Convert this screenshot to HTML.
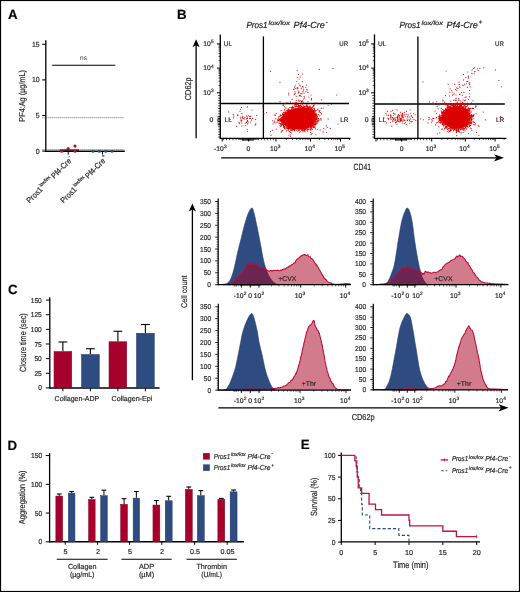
<!DOCTYPE html>
<html><head><meta charset="utf-8"><style>
html,body{margin:0;padding:0;background:#fff;}
svg{display:block;font-family:"Liberation Sans", sans-serif;will-change:transform;}
text{stroke:#333;stroke-width:0.2px;text-rendering:geometricPrecision;}
</style></head><body>
<svg width="520" height="592" viewBox="0 0 520 592">
<rect x="0" y="0" width="520" height="592" fill="#fff"/>
<rect x="0.5" y="0.5" width="519" height="591" fill="none" stroke="#000" stroke-width="1.2"/>
<text x="7.90" y="18.90" font-size="13.3" text-anchor="start" font-weight="bold" fill="#000">A</text>
<text x="177.10" y="18.70" font-size="13.3" text-anchor="start" font-weight="bold" fill="#000">B</text>
<text x="7.90" y="293.70" font-size="13.3" text-anchor="start" font-weight="bold" fill="#000">C</text>
<text x="7.60" y="449.60" font-size="13.3" text-anchor="start" font-weight="bold" fill="#000">D</text>
<text x="300.80" y="449.20" font-size="13.3" text-anchor="start" font-weight="bold" fill="#000">E</text>
<line x1="45.80" y1="40.30" x2="45.80" y2="151.90" stroke="#000" stroke-width="1.3" />
<line x1="45.20" y1="151.20" x2="124.80" y2="151.20" stroke="#000" stroke-width="1.6" />
<line x1="42.20" y1="151.10" x2="45.80" y2="151.10" stroke="#000" stroke-width="1.1" />
<text x="39.60" y="153.60" font-size="7.45" text-anchor="end" fill="#222" textLength="3.84" lengthAdjust="spacingAndGlyphs">0</text>
<line x1="42.20" y1="115.50" x2="45.80" y2="115.50" stroke="#000" stroke-width="1.1" />
<text x="39.60" y="118.00" font-size="7.45" text-anchor="end" fill="#222" textLength="3.84" lengthAdjust="spacingAndGlyphs">5</text>
<line x1="42.20" y1="79.90" x2="45.80" y2="79.90" stroke="#000" stroke-width="1.1" />
<text x="39.60" y="82.40" font-size="7.45" text-anchor="end" fill="#222" textLength="7.67" lengthAdjust="spacingAndGlyphs">10</text>
<line x1="42.20" y1="44.30" x2="45.80" y2="44.30" stroke="#000" stroke-width="1.1" />
<text x="39.60" y="46.80" font-size="7.45" text-anchor="end" fill="#222" textLength="7.67" lengthAdjust="spacingAndGlyphs">15</text>
<line x1="42.40" y1="117.70" x2="124.20" y2="117.70" stroke="#555" stroke-width="0.9" stroke-dasharray="1,1"/>
<line x1="42.40" y1="149.60" x2="124.20" y2="149.60" stroke="#555" stroke-width="0.9" stroke-dasharray="1,1"/>
<line x1="52.20" y1="65.30" x2="115.30" y2="65.30" stroke="#000" stroke-width="1.1" />
<text x="83.6" y="60.4" font-size="6.6" text-anchor="middle" fill="#333" style="stroke:none">ns</text>
<line x1="59.80" y1="150.10" x2="79.00" y2="150.10" stroke="#000" stroke-width="1.1" />
<circle cx="61.7" cy="151.2" r="1.6" fill="#b3102e"/>
<circle cx="68.2" cy="148.6" r="1.6" fill="#b3102e"/>
<circle cx="75.0" cy="146.1" r="1.6" fill="#b3102e"/>
<circle cx="75.0" cy="151.2" r="1.6" fill="#b3102e"/>
<circle cx="93" cy="151.3" r="1.5" fill="#2e4c80"/>
<circle cx="99.3" cy="151.3" r="1.5" fill="#2e4c80"/>
<circle cx="105.7" cy="151.3" r="1.5" fill="#2e4c80"/>
<circle cx="112" cy="151.3" r="1.5" fill="#2e4c80"/>
<line x1="68.20" y1="151.20" x2="68.20" y2="154.60" stroke="#000" stroke-width="1.0" />
<line x1="102.50" y1="151.20" x2="102.50" y2="154.60" stroke="#000" stroke-width="1.0" />
<text x="0.00" y="0.00" font-size="8.6" text-anchor="middle" font-weight="normal" fill="#222" textLength="51.50" lengthAdjust="spacingAndGlyphs" transform="translate(25.1,95.9) rotate(-90)">PF4:Ag (µg/mL)</text>
<g transform="translate(29.6,203.6) rotate(-45)" font-style="normal" fill="#222">
<text x="0.00" y="0.00" font-size="7.90" textLength="19.20" lengthAdjust="spacingAndGlyphs">Pros1</text>
<text x="19.80" y="-3.60" font-size="5.00" textLength="13.60" lengthAdjust="spacingAndGlyphs">lox/lox</text>
<text x="34.80" y="0.00" font-size="7.90" textLength="25.00" lengthAdjust="spacingAndGlyphs">Pf4-Cre</text>
<text x="60.30" y="-3.80" font-size="5.00" font-style="normal">-</text>
</g>
<g transform="translate(63.6,203.6) rotate(-45)" font-style="normal" fill="#222">
<text x="0.00" y="0.00" font-size="7.90" textLength="19.20" lengthAdjust="spacingAndGlyphs">Pros1</text>
<text x="19.80" y="-3.60" font-size="5.00" textLength="13.60" lengthAdjust="spacingAndGlyphs">lox/lox</text>
<text x="34.80" y="0.00" font-size="7.90" textLength="25.00" lengthAdjust="spacingAndGlyphs">Pf4-Cre</text>
<text x="60.30" y="-3.80" font-size="5.00" font-style="normal">+</text>
</g>
<line x1="196.10" y1="42.20" x2="196.10" y2="138.20" stroke="#000" stroke-width="1.3" />
<path d="M196.1,39.2 L199.7,47.2 L196.1,45.2 L192.5,47.2 Z" fill="#000"/>
<text x="0.00" y="0.00" font-size="8.6" text-anchor="middle" font-weight="normal" fill="#222" textLength="22.80" lengthAdjust="spacingAndGlyphs" transform="translate(191.2,88.8) rotate(-90)">CD62p</text>
<line x1="221.20" y1="157.80" x2="501.00" y2="157.80" stroke="#000" stroke-width="1.3" />
<path d="M504.0,157.8 L494.0,154.20000000000002 L496.5,157.8 L494.0,161.4 Z" fill="#000"/>
<text x="362.30" y="169.60" font-size="9.0" text-anchor="middle" font-weight="normal" fill="#222" textLength="17.40" lengthAdjust="spacingAndGlyphs">CD41</text>
<line x1="220.30" y1="34.40" x2="220.30" y2="138.90" stroke="#000" stroke-width="1.3" />
<line x1="219.70" y1="138.30" x2="350.50" y2="138.30" stroke="#000" stroke-width="1.3" />
<line x1="263.40" y1="36.40" x2="263.40" y2="138.30" stroke="#000" stroke-width="1.3" />
<line x1="220.30" y1="103.50" x2="349.00" y2="103.50" stroke="#000" stroke-width="1.3" />
<line x1="216.90" y1="120.00" x2="220.30" y2="120.00" stroke="#000" stroke-width="1.0" />
<line x1="216.90" y1="92.80" x2="220.30" y2="92.80" stroke="#000" stroke-width="1.0" />
<line x1="216.90" y1="68.10" x2="220.30" y2="68.10" stroke="#000" stroke-width="1.0" />
<line x1="216.90" y1="43.90" x2="220.30" y2="43.90" stroke="#000" stroke-width="1.0" />
<line x1="218.50" y1="85.42" x2="220.30" y2="85.42" stroke="#000" stroke-width="0.7" />
<line x1="218.50" y1="81.11" x2="220.30" y2="81.11" stroke="#000" stroke-width="0.7" />
<line x1="218.50" y1="78.05" x2="220.30" y2="78.05" stroke="#000" stroke-width="0.7" />
<line x1="218.50" y1="75.68" x2="220.30" y2="75.68" stroke="#000" stroke-width="0.7" />
<line x1="218.50" y1="73.74" x2="220.30" y2="73.74" stroke="#000" stroke-width="0.7" />
<line x1="218.50" y1="72.10" x2="220.30" y2="72.10" stroke="#000" stroke-width="0.7" />
<line x1="218.50" y1="70.67" x2="220.30" y2="70.67" stroke="#000" stroke-width="0.7" />
<line x1="218.50" y1="69.42" x2="220.30" y2="69.42" stroke="#000" stroke-width="0.7" />
<line x1="218.50" y1="60.72" x2="220.30" y2="60.72" stroke="#000" stroke-width="0.7" />
<line x1="218.50" y1="56.41" x2="220.30" y2="56.41" stroke="#000" stroke-width="0.7" />
<line x1="218.50" y1="53.35" x2="220.30" y2="53.35" stroke="#000" stroke-width="0.7" />
<line x1="218.50" y1="50.98" x2="220.30" y2="50.98" stroke="#000" stroke-width="0.7" />
<line x1="218.50" y1="49.04" x2="220.30" y2="49.04" stroke="#000" stroke-width="0.7" />
<line x1="218.50" y1="47.40" x2="220.30" y2="47.40" stroke="#000" stroke-width="0.7" />
<line x1="218.50" y1="45.97" x2="220.30" y2="45.97" stroke="#000" stroke-width="0.7" />
<line x1="218.50" y1="44.72" x2="220.30" y2="44.72" stroke="#000" stroke-width="0.7" />
<line x1="218.10" y1="95.50" x2="220.30" y2="95.50" stroke="#000" stroke-width="0.7" />
<line x1="218.10" y1="98.10" x2="220.30" y2="98.10" stroke="#000" stroke-width="0.7" />
<line x1="218.10" y1="100.70" x2="220.30" y2="100.70" stroke="#000" stroke-width="0.7" />
<line x1="218.10" y1="103.30" x2="220.30" y2="103.30" stroke="#000" stroke-width="0.7" />
<line x1="218.10" y1="105.90" x2="220.30" y2="105.90" stroke="#000" stroke-width="0.7" />
<line x1="218.10" y1="108.50" x2="220.30" y2="108.50" stroke="#000" stroke-width="0.7" />
<line x1="218.10" y1="111.10" x2="220.30" y2="111.10" stroke="#000" stroke-width="0.7" />
<line x1="218.10" y1="113.70" x2="220.30" y2="113.70" stroke="#000" stroke-width="0.7" />
<line x1="218.10" y1="116.30" x2="220.30" y2="116.30" stroke="#000" stroke-width="0.7" />
<line x1="218.10" y1="118.90" x2="220.30" y2="118.90" stroke="#000" stroke-width="0.7" />
<line x1="218.10" y1="121.50" x2="220.30" y2="121.50" stroke="#000" stroke-width="0.7" />
<line x1="218.10" y1="124.10" x2="220.30" y2="124.10" stroke="#000" stroke-width="0.7" />
<line x1="218.10" y1="126.70" x2="220.30" y2="126.70" stroke="#000" stroke-width="0.7" />
<line x1="218.10" y1="129.30" x2="220.30" y2="129.30" stroke="#000" stroke-width="0.7" />
<line x1="218.10" y1="131.90" x2="220.30" y2="131.90" stroke="#000" stroke-width="0.7" />
<line x1="218.10" y1="134.50" x2="220.30" y2="134.50" stroke="#000" stroke-width="0.7" />
<line x1="218.10" y1="137.10" x2="220.30" y2="137.10" stroke="#000" stroke-width="0.7" />
<line x1="217.50" y1="116.80" x2="220.30" y2="116.80" stroke="#000" stroke-width="0.8" />
<line x1="217.50" y1="118.40" x2="220.30" y2="118.40" stroke="#000" stroke-width="0.8" />
<line x1="217.50" y1="121.60" x2="220.30" y2="121.60" stroke="#000" stroke-width="0.8" />
<line x1="217.50" y1="123.20" x2="220.30" y2="123.20" stroke="#000" stroke-width="0.8" />
<line x1="217.50" y1="124.80" x2="220.30" y2="124.80" stroke="#000" stroke-width="0.8" />
<text x="210.80" y="46.20" font-size="6.8" text-anchor="end" fill="#222">10</text>
<text x="210.90" y="43.40" font-size="4.8" fill="#222">5</text>
<text x="210.80" y="70.40" font-size="6.8" text-anchor="end" fill="#222">10</text>
<text x="210.90" y="67.60" font-size="4.8" fill="#222">4</text>
<text x="210.80" y="95.10" font-size="6.8" text-anchor="end" fill="#222">10</text>
<text x="210.90" y="92.30" font-size="4.8" fill="#222">3</text>
<text x="213.40" y="122.40" font-size="6.8" text-anchor="end" font-weight="normal" fill="#222">0</text>
<text x="223.80" y="46.00" font-size="6.6" text-anchor="start" font-weight="normal" fill="#222" textLength="8.30" lengthAdjust="spacingAndGlyphs">UL</text>
<text x="339.30" y="46.00" font-size="6.6" text-anchor="start" font-weight="normal" fill="#222" textLength="8.80" lengthAdjust="spacingAndGlyphs">UR</text>
<text x="224.60" y="122.20" font-size="6.6" text-anchor="start" font-weight="normal" fill="#222" textLength="7.40" lengthAdjust="spacingAndGlyphs">LL</text>
<text x="340.20" y="122.20" font-size="6.6" text-anchor="start" font-weight="normal" fill="#222" textLength="8.20" lengthAdjust="spacingAndGlyphs">LR</text>
<line x1="222.20" y1="138.30" x2="222.20" y2="141.50" stroke="#000" stroke-width="1.0" />
<text x="223.80" y="151.2" font-size="6.8" text-anchor="end" fill="#222">-10</text>
<text x="224.00" y="148.3" font-size="4.8" fill="#222">3</text>
<line x1="248.40" y1="138.30" x2="248.40" y2="141.50" stroke="#000" stroke-width="1.0" />
<text x="248.40" y="151.20" font-size="6.8" text-anchor="middle" font-weight="normal" fill="#222">0</text>
<line x1="275.90" y1="138.30" x2="275.90" y2="141.50" stroke="#000" stroke-width="1.0" />
<text x="277.50" y="151.2" font-size="6.8" text-anchor="end" fill="#222">10</text>
<text x="277.70" y="148.3" font-size="4.8" fill="#222">3</text>
<line x1="310.50" y1="138.30" x2="310.50" y2="141.50" stroke="#000" stroke-width="1.0" />
<text x="312.10" y="151.2" font-size="6.8" text-anchor="end" fill="#222">10</text>
<text x="312.30" y="148.3" font-size="4.8" fill="#222">4</text>
<line x1="340.50" y1="138.30" x2="340.50" y2="141.50" stroke="#000" stroke-width="1.0" />
<text x="342.10" y="151.2" font-size="6.8" text-anchor="end" fill="#222">10</text>
<text x="342.30" y="148.3" font-size="4.8" fill="#222">5</text>
<line x1="286.32" y1="138.30" x2="286.32" y2="140.10" stroke="#000" stroke-width="0.7" />
<line x1="292.41" y1="138.30" x2="292.41" y2="140.10" stroke="#000" stroke-width="0.7" />
<line x1="296.73" y1="138.30" x2="296.73" y2="140.10" stroke="#000" stroke-width="0.7" />
<line x1="300.08" y1="138.30" x2="300.08" y2="140.10" stroke="#000" stroke-width="0.7" />
<line x1="302.82" y1="138.30" x2="302.82" y2="140.10" stroke="#000" stroke-width="0.7" />
<line x1="305.14" y1="138.30" x2="305.14" y2="140.10" stroke="#000" stroke-width="0.7" />
<line x1="307.15" y1="138.30" x2="307.15" y2="140.10" stroke="#000" stroke-width="0.7" />
<line x1="308.92" y1="138.30" x2="308.92" y2="140.10" stroke="#000" stroke-width="0.7" />
<line x1="319.53" y1="138.30" x2="319.53" y2="140.10" stroke="#000" stroke-width="0.7" />
<line x1="324.81" y1="138.30" x2="324.81" y2="140.10" stroke="#000" stroke-width="0.7" />
<line x1="328.56" y1="138.30" x2="328.56" y2="140.10" stroke="#000" stroke-width="0.7" />
<line x1="331.47" y1="138.30" x2="331.47" y2="140.10" stroke="#000" stroke-width="0.7" />
<line x1="333.84" y1="138.30" x2="333.84" y2="140.10" stroke="#000" stroke-width="0.7" />
<line x1="335.85" y1="138.30" x2="335.85" y2="140.10" stroke="#000" stroke-width="0.7" />
<line x1="337.59" y1="138.30" x2="337.59" y2="140.10" stroke="#000" stroke-width="0.7" />
<line x1="339.13" y1="138.30" x2="339.13" y2="140.10" stroke="#000" stroke-width="0.7" />
<line x1="349.53" y1="138.30" x2="349.53" y2="140.10" stroke="#000" stroke-width="0.7" />
<line x1="238.40" y1="138.30" x2="238.40" y2="139.90" stroke="#000" stroke-width="0.6" />
<line x1="239.40" y1="138.30" x2="239.40" y2="139.90" stroke="#000" stroke-width="0.6" />
<line x1="240.40" y1="138.30" x2="240.40" y2="139.90" stroke="#000" stroke-width="0.6" />
<line x1="241.40" y1="138.30" x2="241.40" y2="139.90" stroke="#000" stroke-width="0.6" />
<line x1="242.40" y1="138.30" x2="242.40" y2="139.90" stroke="#000" stroke-width="0.6" />
<line x1="243.40" y1="138.30" x2="243.40" y2="139.90" stroke="#000" stroke-width="0.6" />
<line x1="244.40" y1="138.30" x2="244.40" y2="139.90" stroke="#000" stroke-width="0.6" />
<line x1="245.40" y1="138.30" x2="245.40" y2="139.90" stroke="#000" stroke-width="0.6" />
<line x1="246.40" y1="138.30" x2="246.40" y2="139.90" stroke="#000" stroke-width="0.6" />
<line x1="247.40" y1="138.30" x2="247.40" y2="139.90" stroke="#000" stroke-width="0.6" />
<line x1="248.40" y1="138.30" x2="248.40" y2="139.90" stroke="#000" stroke-width="0.6" />
<line x1="249.40" y1="138.30" x2="249.40" y2="139.90" stroke="#000" stroke-width="0.6" />
<line x1="250.40" y1="138.30" x2="250.40" y2="139.90" stroke="#000" stroke-width="0.6" />
<line x1="251.40" y1="138.30" x2="251.40" y2="139.90" stroke="#000" stroke-width="0.6" />
<line x1="252.40" y1="138.30" x2="252.40" y2="139.90" stroke="#000" stroke-width="0.6" />
<line x1="253.40" y1="138.30" x2="253.40" y2="139.90" stroke="#000" stroke-width="0.6" />
<line x1="254.40" y1="138.30" x2="254.40" y2="139.90" stroke="#000" stroke-width="0.6" />
<line x1="255.40" y1="138.30" x2="255.40" y2="139.90" stroke="#000" stroke-width="0.6" />
<line x1="256.40" y1="138.30" x2="256.40" y2="139.90" stroke="#000" stroke-width="0.6" />
<line x1="257.40" y1="138.30" x2="257.40" y2="139.90" stroke="#000" stroke-width="0.6" />
<line x1="223.30" y1="138.30" x2="223.30" y2="140.30" stroke="#000" stroke-width="0.7" />
<line x1="226.50" y1="138.30" x2="226.50" y2="140.30" stroke="#000" stroke-width="0.7" />
<line x1="229.70" y1="138.30" x2="229.70" y2="140.30" stroke="#000" stroke-width="0.7" />
<line x1="232.90" y1="138.30" x2="232.90" y2="140.30" stroke="#000" stroke-width="0.7" />
<line x1="236.10" y1="138.30" x2="236.10" y2="140.30" stroke="#000" stroke-width="0.7" />
<line x1="258.40" y1="138.30" x2="258.40" y2="140.30" stroke="#000" stroke-width="0.7" />
<line x1="261.40" y1="138.30" x2="261.40" y2="140.30" stroke="#000" stroke-width="0.7" />
<line x1="264.40" y1="138.30" x2="264.40" y2="140.30" stroke="#000" stroke-width="0.7" />
<line x1="267.40" y1="138.30" x2="267.40" y2="140.30" stroke="#000" stroke-width="0.7" />
<line x1="270.40" y1="138.30" x2="270.40" y2="140.30" stroke="#000" stroke-width="0.7" />
<line x1="273.40" y1="138.30" x2="273.40" y2="140.30" stroke="#000" stroke-width="0.7" />
<line x1="242.40" y1="138.30" x2="242.40" y2="140.90" stroke="#000" stroke-width="0.8" />
<line x1="243.60" y1="138.30" x2="243.60" y2="140.90" stroke="#000" stroke-width="0.8" />
<line x1="244.80" y1="138.30" x2="244.80" y2="140.90" stroke="#000" stroke-width="0.8" />
<line x1="246.00" y1="138.30" x2="246.00" y2="140.90" stroke="#000" stroke-width="0.8" />
<line x1="247.20" y1="138.30" x2="247.20" y2="140.90" stroke="#000" stroke-width="0.8" />
<line x1="248.40" y1="138.30" x2="248.40" y2="140.90" stroke="#000" stroke-width="0.8" />
<line x1="249.60" y1="138.30" x2="249.60" y2="140.90" stroke="#000" stroke-width="0.8" />
<line x1="250.80" y1="138.30" x2="250.80" y2="140.90" stroke="#000" stroke-width="0.8" />
<line x1="252.00" y1="138.30" x2="252.00" y2="140.90" stroke="#000" stroke-width="0.8" />
<line x1="253.20" y1="138.30" x2="253.20" y2="140.90" stroke="#000" stroke-width="0.8" />
<path d="M286.2,110.6h0.01 M289.3,110.7h0.01 M282.1,121.0h0.01 M315.0,123.5h0.01 M280.8,123.7h0.01 M288.2,130.3h0.01 M312.3,125.7h0.01 M292.9,129.0h0.01 M286.9,126.7h0.01 M311.7,127.4h0.01 M313.7,123.7h0.01 M304.6,130.3h0.01 M292.9,107.9h0.01 M287.8,126.5h0.01 M315.6,114.0h0.01 M289.0,111.0h0.01 M313.1,127.7h0.01 M284.7,112.7h0.01 M315.3,111.0h0.01 M280.5,120.3h0.01 M277.9,120.4h0.01 M298.1,107.7h0.01 M316.3,119.8h0.01 M311.8,125.4h0.01 M318.1,120.0h0.01 M281.3,119.1h0.01 M315.9,117.7h0.01 M284.5,114.1h0.01 M285.2,112.1h0.01 M307.3,105.7h0.01 M314.6,110.1h0.01 M282.5,124.2h0.01 M312.3,125.5h0.01 M305.1,129.3h0.01 M316.7,121.9h0.01 M302.5,104.5h0.01 M313.7,125.2h0.01 M312.8,111.4h0.01 M316.4,118.3h0.01 M288.7,110.6h0.01 M315.3,116.8h0.01 M294.1,130.0h0.01 M281.3,121.3h0.01 M316.7,122.0h0.01 M317.3,116.4h0.01 M284.5,127.7h0.01 M292.0,108.6h0.01 M310.1,108.6h0.01 M316.0,115.4h0.01 M280.4,118.6h0.01 M303.7,107.4h0.01 M298.3,105.9h0.01 M291.6,107.3h0.01 M306.9,107.9h0.01 M311.5,128.7h0.01 M281.3,117.6h0.01 M301.1,106.5h0.01 M318.8,120.9h0.01 M281.3,118.8h0.01 M310.7,126.9h0.01 M307.2,130.0h0.01 M280.7,121.2h0.01 M315.4,120.1h0.01 M312.1,109.5h0.01 M282.6,123.5h0.01 M292.5,129.2h0.01 M294.1,129.6h0.01 M312.9,112.2h0.01 M307.0,108.1h0.01 M284.4,126.4h0.01 M307.3,108.8h0.01 M311.6,108.4h0.01 M307.6,108.7h0.01 M313.5,105.2h0.01 M280.0,115.9h0.01 M299.7,108.6h0.01 M283.6,126.2h0.01 M310.3,107.1h0.01 M297.6,108.4h0.01 M315.5,128.8h0.01 M278.2,118.6h0.01 M288.2,112.3h0.01 M314.1,124.0h0.01 M282.9,116.8h0.01 M288.4,128.8h0.01 M302.3,130.5h0.01 M284.1,123.6h0.01 M314.9,112.7h0.01 M308.5,108.3h0.01 M315.4,116.7h0.01 M287.6,111.8h0.01 M282.6,114.6h0.01 M309.4,106.8h0.01 M291.9,128.6h0.01 M280.7,123.3h0.01 M307.1,107.5h0.01 M300.5,105.1h0.01 M303.9,108.4h0.01 M291.5,109.5h0.01 M303.0,131.9h0.01 M309.8,108.6h0.01 M292.7,129.7h0.01 M284.6,112.5h0.01 M284.7,109.8h0.01 M306.8,106.7h0.01 M315.1,120.8h0.01 M313.5,110.8h0.01 M288.2,129.4h0.01 M283.3,124.0h0.01 M281.6,124.6h0.01 M287.3,128.3h0.01 M280.1,121.2h0.01 M316.2,117.5h0.01 M316.1,122.1h0.01 M294.0,109.1h0.01 M315.6,119.2h0.01 M287.2,109.1h0.01 M313.9,126.2h0.01 M308.8,107.3h0.01 M314.7,114.0h0.01 M291.0,110.7h0.01 M281.5,121.8h0.01 M280.1,120.3h0.01 M293.8,107.5h0.01 M314.1,124.9h0.01 M288.4,126.2h0.01 M283.1,112.8h0.01 M283.6,124.5h0.01 M308.4,129.6h0.01 M315.5,111.2h0.01 M289.1,131.6h0.01 M288.6,109.6h0.01 M277.2,122.1h0.01 M283.9,114.4h0.01 M315.2,125.9h0.01 M289.4,110.0h0.01 M281.9,122.5h0.01 M310.2,128.4h0.01 M310.1,106.0h0.01 M316.2,121.7h0.01 M314.7,117.1h0.01 M303.2,108.2h0.01 M285.5,125.8h0.01 M290.8,109.7h0.01 M283.4,122.2h0.01 M287.4,111.4h0.01 M280.0,118.7h0.01 M300.4,108.2h0.01 M311.7,128.0h0.01 M279.9,119.3h0.01 M289.2,128.2h0.01 M314.5,114.8h0.01 M310.7,110.2h0.01 M313.7,113.6h0.01 M283.6,112.2h0.01 M294.2,129.3h0.01 M280.8,126.4h0.01 M312.7,112.6h0.01 M290.0,110.0h0.01 M304.1,129.5h0.01 M281.4,120.8h0.01 M281.2,124.5h0.01 M298.9,105.6h0.01 M295.3,108.5h0.01 M294.6,105.8h0.01 M282.7,115.1h0.01 M285.4,112.8h0.01 M313.8,111.0h0.01 M289.5,110.7h0.01 M280.6,115.0h0.01 M302.8,107.4h0.01 M310.7,126.7h0.01 M298.8,130.5h0.01 M314.3,111.2h0.01 M291.1,107.6h0.01 M294.9,103.8h0.01 M284.6,126.7h0.01 M308.1,108.3h0.01 M308.4,129.1h0.01 M308.8,107.7h0.01 M315.5,123.8h0.01 M313.7,125.7h0.01 M285.6,113.6h0.01 M286.9,112.8h0.01 M286.1,127.3h0.01 M282.4,117.5h0.01 M298.5,106.8h0.01 M284.5,109.8h0.01 M298.7,130.4h0.01 M315.4,117.1h0.01 M280.9,124.3h0.01 M313.0,113.2h0.01 M281.3,119.8h0.01 M281.6,120.9h0.01 M281.9,120.7h0.01 M288.6,127.3h0.01 M284.6,114.4h0.01 M293.4,109.6h0.01 M283.8,116.6h0.01 M314.8,124.6h0.01 M289.6,128.5h0.01 M313.8,108.4h0.01 M315.5,115.8h0.01 M289.3,111.6h0.01 M280.5,120.5h0.01 M316.2,116.2h0.01 M283.4,115.5h0.01 M316.2,117.6h0.01 M297.0,106.4h0.01 M283.9,125.2h0.01 M310.3,128.3h0.01 M303.3,130.4h0.01 M293.2,108.5h0.01 M292.1,130.6h0.01 M282.5,121.7h0.01 M307.9,106.9h0.01 M292.7,107.0h0.01 M283.8,115.8h0.01 M317.2,120.8h0.01 M282.1,122.1h0.01 M312.5,125.6h0.01 M315.4,114.6h0.01 M306.9,106.7h0.01 M312.5,110.1h0.01 M315.3,115.1h0.01 M311.1,108.3h0.01 M301.3,129.7h0.01 M309.9,107.1h0.01 M308.1,108.7h0.01 M280.7,124.3h0.01 M287.9,128.5h0.01 M298.5,104.9h0.01 M288.9,127.3h0.01 M295.4,108.9h0.01 M307.2,128.1h0.01 M313.7,117.0h0.01 M293.5,129.1h0.01 M288.9,111.2h0.01 M281.8,117.1h0.01 M315.0,127.2h0.01 M286.5,126.7h0.01 M283.5,125.7h0.01 M310.2,128.6h0.01 M314.4,119.1h0.01 M315.8,123.1h0.01 M315.4,118.8h0.01 M296.3,108.7h0.01 M300.1,107.3h0.01 M292.8,108.1h0.01 M314.5,114.4h0.01 M304.9,131.3h0.01 M287.3,110.6h0.01 M319.3,111.2h0.01 M285.3,114.3h0.01 M281.2,115.5h0.01 M287.6,127.2h0.01 M293.0,109.6h0.01 M288.2,110.9h0.01 M288.4,127.7h0.01 M314.0,127.6h0.01 M310.4,109.6h0.01 M315.4,124.4h0.01 M308.3,106.9h0.01 M286.9,112.7h0.01 M290.2,129.8h0.01 M299.9,105.6h0.01 M314.5,115.6h0.01 M312.2,125.7h0.01 M304.0,106.5h0.01 M306.1,109.3h0.01 M312.1,125.3h0.01 M302.6,129.3h0.01 M289.2,111.2h0.01 M279.7,119.9h0.01 M279.0,123.1h0.01 M297.8,131.2h0.01 M309.9,129.6h0.01 M310.4,127.4h0.01 M316.2,119.8h0.01 M287.6,112.2h0.01 M289.9,128.2h0.01 M277.8,120.4h0.01 M291.5,128.1h0.01 M316.0,114.9h0.01 M315.8,123.1h0.01 M315.7,120.1h0.01 M313.3,111.0h0.01 M314.0,127.0h0.01 M293.0,106.0h0.01 M311.6,110.8h0.01 M312.2,107.4h0.01 M296.5,104.5h0.01 M290.0,111.1h0.01 M282.1,116.8h0.01 M307.1,106.5h0.01 M314.7,113.8h0.01 M283.1,124.9h0.01 M312.5,129.5h0.01 M314.8,114.4h0.01 M312.6,110.0h0.01 M286.0,110.9h0.01 M279.7,121.2h0.01 M286.1,127.9h0.01 M316.2,110.5h0.01 M317.7,119.0h0.01 M284.7,127.1h0.01 M316.5,114.1h0.01 M292.4,128.8h0.01 M307.2,131.1h0.01 M301.1,105.7h0.01 M283.2,112.9h0.01 M283.6,114.4h0.01 M283.5,114.8h0.01 M300.2,107.5h0.01 M313.4,126.3h0.01 M280.3,120.5h0.01 M316.9,117.7h0.01 M314.0,112.7h0.01 M304.4,129.9h0.01 M279.6,123.1h0.01 M298.9,106.4h0.01 M290.0,111.4h0.01 M309.3,107.2h0.01 M315.8,114.4h0.01 M287.7,112.3h0.01 M288.7,111.7h0.01 M289.6,128.3h0.01 M310.9,108.0h0.01 M313.6,127.2h0.01 M312.7,107.1h0.01 M288.7,108.7h0.01 M283.0,114.9h0.01 M293.4,129.7h0.01 M314.3,108.6h0.01 M296.5,106.5h0.01 M311.9,126.0h0.01 M301.7,106.7h0.01 M302.9,129.0h0.01 M315.9,121.5h0.01 M310.6,129.4h0.01 M314.8,114.1h0.01 M304.9,106.9h0.01 M311.8,126.8h0.01 M314.4,112.7h0.01 M278.6,116.9h0.01 M313.5,112.1h0.01 M304.4,107.0h0.01 M294.3,109.9h0.01 M282.9,123.2h0.01 M281.8,122.0h0.01 M283.9,125.0h0.01 M314.9,123.2h0.01 M290.7,128.2h0.01 M311.4,108.2h0.01 M281.5,123.8h0.01 M280.1,120.5h0.01 M314.3,124.4h0.01 M302.0,107.0h0.01 M310.0,108.7h0.01 M316.7,115.2h0.01 M307.3,129.6h0.01 M280.1,119.3h0.01 M315.6,116.8h0.01 M291.2,130.2h0.01 M312.9,126.7h0.01 M289.9,126.9h0.01 M292.5,107.5h0.01 M300.6,107.1h0.01 M310.7,109.0h0.01 M294.5,128.6h0.01 M291.8,107.7h0.01 M307.1,108.4h0.01 M307.7,129.7h0.01 M286.5,130.9h0.01 M317.4,117.8h0.01 M312.9,111.2h0.01 M314.5,124.0h0.01 M294.9,129.5h0.01 M284.1,114.0h0.01 M278.4,120.8h0.01 M281.8,122.0h0.01 M313.4,112.3h0.01 M282.6,113.8h0.01 M297.4,106.5h0.01 M304.3,107.8h0.01 M306.6,105.8h0.01 M292.4,129.8h0.01 M313.6,110.4h0.01 M311.8,109.4h0.01 M305.1,130.8h0.01 M312.4,109.1h0.01 M315.7,113.1h0.01 M306.0,129.0h0.01 M317.7,121.1h0.01 M291.1,129.2h0.01 M314.5,109.0h0.01 M276.8,122.0h0.01 M279.9,116.7h0.01 M280.9,119.1h0.01 M301.3,106.5h0.01 M296.3,130.2h0.01 M313.9,124.4h0.01 M294.7,130.8h0.01 M283.7,127.4h0.01 M301.9,130.4h0.01 M316.3,119.4h0.01 M314.1,118.4h0.01 M314.3,112.7h0.01 M304.9,131.7h0.01 M295.1,108.3h0.01 M302.4,107.3h0.01 M315.2,119.4h0.01 M307.3,106.3h0.01 M284.1,123.7h0.01 M313.5,124.8h0.01 M299.2,130.3h0.01 M286.1,127.4h0.01 M315.3,121.9h0.01 M308.3,108.1h0.01 M312.3,125.4h0.01 M321.2,108.4h0.01 M287.1,110.7h0.01 M312.0,109.1h0.01 M316.2,123.8h0.01 M311.5,98.3h0.01 M295.3,106.6h0.01 M301.5,101.4h0.01 M279.1,119.4h0.01 M317.7,122.2h0.01 M272.4,130.2h0.01 M281.3,131.8h0.01 M305.6,129.4h0.01 M320.2,129.9h0.01 M281.6,117.7h0.01 M316.4,102.9h0.01 M308.0,101.2h0.01 M300.1,131.6h0.01 M272.4,120.7h0.01 M273.0,123.8h0.01 M274.7,115.0h0.01 M319.7,115.7h0.01 M311.0,130.0h0.01 M281.1,110.5h0.01 M285.0,111.7h0.01 M275.1,122.7h0.01 M315.1,121.2h0.01 M290.2,132.4h0.01 M313.4,106.1h0.01 M288.8,93.1h0.01 M310.4,132.6h0.01 M278.5,120.0h0.01 M326.3,125.8h0.01 M305.7,106.6h0.01 M328.1,118.9h0.01 M321.4,113.8h0.01 M276.3,113.2h0.01 M280.0,101.4h0.01 M301.6,106.0h0.01 M283.1,105.4h0.01 M281.7,125.2h0.01 M320.9,118.4h0.01 M314.5,105.1h0.01 M281.1,132.1h0.01 M271.1,135.2h0.01 M285.3,113.0h0.01 M310.3,103.4h0.01 M314.7,110.9h0.01 M277.4,119.9h0.01 M275.8,118.8h0.01 M281.1,125.7h0.01 M307.0,104.5h0.01 M284.5,106.7h0.01 M290.3,136.5h0.01 M290.4,135.0h0.01 M292.8,107.7h0.01 M318.5,118.4h0.01 M317.7,109.7h0.01 M274.1,122.1h0.01 M283.3,104.3h0.01 M312.0,133.3h0.01 M311.3,99.5h0.01 M323.1,131.9h0.01 M299.7,132.2h0.01 M318.1,114.7h0.01 M285.3,103.6h0.01 M314.9,115.1h0.01 M284.5,128.8h0.01 M276.1,129.1h0.01 M285.8,107.9h0.01 M291.5,133.0h0.01 M306.2,105.2h0.01 M281.9,130.7h0.01 M319.2,112.1h0.01 M312.6,106.9h0.01 M326.4,132.2h0.01 M290.1,131.8h0.01 M300.8,106.5h0.01 M299.6,106.9h0.01 M310.3,129.9h0.01 M316.9,118.8h0.01 M317.1,123.5h0.01 M320.0,119.8h0.01 M285.8,128.9h0.01 M289.8,107.6h0.01 M262.6,106.2h0.01 M327.2,127.3h0.01 M320.4,112.5h0.01 M282.7,130.6h0.01 M318.0,110.0h0.01 M323.8,128.5h0.01 M317.8,109.1h0.01 M318.2,114.2h0.01 M311.2,134.6h0.01 M316.4,119.5h0.01 M319.8,110.3h0.01 M288.8,135.0h0.01 M328.1,105.5h0.01 M317.7,129.2h0.01 M294.4,103.3h0.01 M275.0,114.5h0.01 M315.8,134.7h0.01 M310.6,108.4h0.01 M286.2,112.6h0.01 M297.7,104.4h0.01 M321.3,119.8h0.01 M274.3,121.0h0.01 M292.7,106.9h0.01 M279.9,125.7h0.01 M296.1,105.5h0.01 M303.9,105.9h0.01 M299.3,95.9h0.01 M302.7,91.8h0.01 M300.4,95.1h0.01 M301.2,88.6h0.01 M295.8,106.8h0.01 M305.9,87.2h0.01 M294.2,94.4h0.01 M306.5,85.1h0.01 M298.1,93.2h0.01 M311.4,100.0h0.01 M300.1,86.0h0.01 M299.8,85.3h0.01 M295.1,93.3h0.01 M296.2,100.3h0.01 M300.2,77.1h0.01 M298.4,74.6h0.01 M301.1,96.3h0.01 M302.1,100.5h0.01 M302.0,93.7h0.01 M295.0,91.9h0.01 M294.2,89.0h0.01 M301.4,102.8h0.01 M305.9,91.8h0.01 M290.5,101.9h0.01 M299.0,79.0h0.01 M295.3,85.7h0.01 M297.2,88.8h0.01 M306.9,89.5h0.01 M307.9,92.4h0.01 M288.7,94.8h0.01 M298.7,91.1h0.01 M302.4,86.6h0.01 M298.9,83.8h0.01 M301.4,103.1h0.01 M296.9,81.6h0.01 M307.8,103.0h0.01 M296.3,96.2h0.01 M295.6,104.6h0.01 M303.4,90.7h0.01 M298.4,100.1h0.01 M298.7,92.3h0.01 M302.9,101.7h0.01 M299.1,101.1h0.01 M298.0,88.0h0.01 M297.3,88.7h0.01 M303.5,102.7h0.01 M294.6,87.1h0.01 M300.9,93.3h0.01 M303.0,106.7h0.01 M297.2,87.5h0.01 M295.7,88.5h0.01 M298.9,105.7h0.01 M303.7,89.1h0.01 M304.7,97.9h0.01 M302.3,101.7h0.01 M304.1,96.5h0.01 M296.6,102.9h0.01 M308.8,97.0h0.01 M302.9,86.9h0.01 M295.3,102.2h0.01 M304.0,93.1h0.01 M292.1,99.4h0.01 M302.3,81.6h0.01 M302.7,74.0h0.01 M293.6,89.6h0.01 M294.7,104.4h0.01 M300.2,100.9h0.01 M306.7,108.3h0.01 M250.7,122.0h0.01 M241.9,113.4h0.01 M249.7,118.6h0.01 M251.9,110.0h0.01 M266.6,112.6h0.01 M245.2,123.1h0.01 M233.8,115.9h0.01 M228.7,111.9h0.01 M229.4,119.0h0.01 M247.3,117.0h0.01 M255.2,124.9h0.01 M244.9,117.5h0.01 M242.8,116.4h0.01 M255.5,119.6h0.01 M242.3,117.4h0.01 M249.4,116.6h0.01 M247.5,118.3h0.01 M255.9,123.9h0.01 M233.6,117.8h0.01 M250.7,116.4h0.01 M251.5,120.1h0.01 M249.8,118.2h0.01 M247.5,120.9h0.01 M233.2,114.3h0.01 M236.8,126.3h0.01 M247.5,120.2h0.01 M246.4,116.1h0.01 M239.0,122.4h0.01 M242.0,125.8h0.01 M246.6,118.9h0.01 M243.3,118.2h0.01 M245.3,125.6h0.01 M263.8,113.2h0.01 M247.1,121.8h0.01 M237.8,115.6h0.01 M241.4,107.4h0.01 M250.3,118.3h0.01 M244.3,118.9h0.01 M247.1,129.2h0.01 M246.5,122.4h0.01 M240.9,120.2h0.01 M242.5,117.9h0.01 M237.8,114.8h0.01 M248.7,122.0h0.01 M248.8,115.5h0.01 M247.6,106.9h0.01 M252.7,118.4h0.01 M247.3,123.9h0.01 M241.7,123.0h0.01 M241.6,121.1h0.01 M241.9,120.0h0.01 M256.8,115.6h0.01 M240.3,117.1h0.01 M247.6,131.3h0.01 M240.5,109.2h0.01 M240.0,111.3h0.01 M240.7,118.7h0.01 M237.5,115.5h0.01 M230.2,119.5h0.01 M239.2,123.6h0.01 M270.4,131.6h0.01 M319.3,69.4h0.01 M333.0,68.4h0.01 M297.2,77.5h0.01 M297.2,70.5h0.01 M296.8,102.6h0.01 M303.6,99.0h0.01 M338.0,124.0h0.01 M275.4,115.2h0.01 M330.2,128.4h0.01 M297.9,129.5h0.01 M311.0,95.0h0.01 M307.1,90.7h0.01 M321.7,99.8h0.01 M336.7,95.0h0.01 M270.6,71.3h0.01 M299.5,95.2h0.01 M331.6,104.2h0.01 M280.0,82.3h0.01 M309.3,119.6h0.01 M323.2,108.0h0.01 M286.9,102.7h0.01" stroke="#dc0000" stroke-width="1.15" stroke-linecap="round" fill="none"/>
<path d="M281.0,119.5 L283.0,115.5 L286.0,112.8 L290.0,110.5 L295.0,108.5 L300.0,107.4 L305.0,107.6 L310.0,108.6 L313.5,111.3 L315.0,115.0 L315.3,119.0 L314.6,123.0 L312.0,126.5 L307.0,128.8 L300.0,129.8 L293.0,129.2 L288.0,127.2 L284.0,124.6 L281.6,122.0 Z" fill="#dc0000"/>
<line x1="374.50" y1="34.40" x2="374.50" y2="138.90" stroke="#000" stroke-width="1.3" />
<line x1="373.90" y1="138.30" x2="506.30" y2="138.30" stroke="#000" stroke-width="1.3" />
<line x1="417.90" y1="36.40" x2="417.90" y2="138.30" stroke="#000" stroke-width="1.3" />
<line x1="374.50" y1="104.00" x2="504.80" y2="104.00" stroke="#000" stroke-width="1.3" />
<line x1="371.10" y1="120.00" x2="374.50" y2="120.00" stroke="#000" stroke-width="1.0" />
<line x1="371.10" y1="92.80" x2="374.50" y2="92.80" stroke="#000" stroke-width="1.0" />
<line x1="371.10" y1="68.10" x2="374.50" y2="68.10" stroke="#000" stroke-width="1.0" />
<line x1="371.10" y1="43.90" x2="374.50" y2="43.90" stroke="#000" stroke-width="1.0" />
<line x1="372.70" y1="85.42" x2="374.50" y2="85.42" stroke="#000" stroke-width="0.7" />
<line x1="372.70" y1="81.11" x2="374.50" y2="81.11" stroke="#000" stroke-width="0.7" />
<line x1="372.70" y1="78.05" x2="374.50" y2="78.05" stroke="#000" stroke-width="0.7" />
<line x1="372.70" y1="75.68" x2="374.50" y2="75.68" stroke="#000" stroke-width="0.7" />
<line x1="372.70" y1="73.74" x2="374.50" y2="73.74" stroke="#000" stroke-width="0.7" />
<line x1="372.70" y1="72.10" x2="374.50" y2="72.10" stroke="#000" stroke-width="0.7" />
<line x1="372.70" y1="70.67" x2="374.50" y2="70.67" stroke="#000" stroke-width="0.7" />
<line x1="372.70" y1="69.42" x2="374.50" y2="69.42" stroke="#000" stroke-width="0.7" />
<line x1="372.70" y1="60.72" x2="374.50" y2="60.72" stroke="#000" stroke-width="0.7" />
<line x1="372.70" y1="56.41" x2="374.50" y2="56.41" stroke="#000" stroke-width="0.7" />
<line x1="372.70" y1="53.35" x2="374.50" y2="53.35" stroke="#000" stroke-width="0.7" />
<line x1="372.70" y1="50.98" x2="374.50" y2="50.98" stroke="#000" stroke-width="0.7" />
<line x1="372.70" y1="49.04" x2="374.50" y2="49.04" stroke="#000" stroke-width="0.7" />
<line x1="372.70" y1="47.40" x2="374.50" y2="47.40" stroke="#000" stroke-width="0.7" />
<line x1="372.70" y1="45.97" x2="374.50" y2="45.97" stroke="#000" stroke-width="0.7" />
<line x1="372.70" y1="44.72" x2="374.50" y2="44.72" stroke="#000" stroke-width="0.7" />
<line x1="372.30" y1="95.50" x2="374.50" y2="95.50" stroke="#000" stroke-width="0.7" />
<line x1="372.30" y1="98.10" x2="374.50" y2="98.10" stroke="#000" stroke-width="0.7" />
<line x1="372.30" y1="100.70" x2="374.50" y2="100.70" stroke="#000" stroke-width="0.7" />
<line x1="372.30" y1="103.30" x2="374.50" y2="103.30" stroke="#000" stroke-width="0.7" />
<line x1="372.30" y1="105.90" x2="374.50" y2="105.90" stroke="#000" stroke-width="0.7" />
<line x1="372.30" y1="108.50" x2="374.50" y2="108.50" stroke="#000" stroke-width="0.7" />
<line x1="372.30" y1="111.10" x2="374.50" y2="111.10" stroke="#000" stroke-width="0.7" />
<line x1="372.30" y1="113.70" x2="374.50" y2="113.70" stroke="#000" stroke-width="0.7" />
<line x1="372.30" y1="116.30" x2="374.50" y2="116.30" stroke="#000" stroke-width="0.7" />
<line x1="372.30" y1="118.90" x2="374.50" y2="118.90" stroke="#000" stroke-width="0.7" />
<line x1="372.30" y1="121.50" x2="374.50" y2="121.50" stroke="#000" stroke-width="0.7" />
<line x1="372.30" y1="124.10" x2="374.50" y2="124.10" stroke="#000" stroke-width="0.7" />
<line x1="372.30" y1="126.70" x2="374.50" y2="126.70" stroke="#000" stroke-width="0.7" />
<line x1="372.30" y1="129.30" x2="374.50" y2="129.30" stroke="#000" stroke-width="0.7" />
<line x1="372.30" y1="131.90" x2="374.50" y2="131.90" stroke="#000" stroke-width="0.7" />
<line x1="372.30" y1="134.50" x2="374.50" y2="134.50" stroke="#000" stroke-width="0.7" />
<line x1="372.30" y1="137.10" x2="374.50" y2="137.10" stroke="#000" stroke-width="0.7" />
<line x1="371.70" y1="116.80" x2="374.50" y2="116.80" stroke="#000" stroke-width="0.8" />
<line x1="371.70" y1="118.40" x2="374.50" y2="118.40" stroke="#000" stroke-width="0.8" />
<line x1="371.70" y1="121.60" x2="374.50" y2="121.60" stroke="#000" stroke-width="0.8" />
<line x1="371.70" y1="123.20" x2="374.50" y2="123.20" stroke="#000" stroke-width="0.8" />
<line x1="371.70" y1="124.80" x2="374.50" y2="124.80" stroke="#000" stroke-width="0.8" />
<text x="366.00" y="46.20" font-size="6.8" text-anchor="end" fill="#222">10</text>
<text x="366.10" y="43.40" font-size="4.8" fill="#222">5</text>
<text x="366.00" y="70.40" font-size="6.8" text-anchor="end" fill="#222">10</text>
<text x="366.10" y="67.60" font-size="4.8" fill="#222">4</text>
<text x="366.00" y="95.10" font-size="6.8" text-anchor="end" fill="#222">10</text>
<text x="366.10" y="92.30" font-size="4.8" fill="#222">3</text>
<text x="368.60" y="122.40" font-size="6.8" text-anchor="end" font-weight="normal" fill="#222">0</text>
<text x="378.00" y="46.00" font-size="6.6" text-anchor="start" font-weight="normal" fill="#222" textLength="8.30" lengthAdjust="spacingAndGlyphs">UL</text>
<text x="495.10" y="46.00" font-size="6.6" text-anchor="start" font-weight="normal" fill="#222" textLength="8.80" lengthAdjust="spacingAndGlyphs">UR</text>
<text x="378.80" y="122.20" font-size="6.6" text-anchor="start" font-weight="normal" fill="#222" textLength="7.40" lengthAdjust="spacingAndGlyphs">LL</text>
<text x="496.00" y="122.20" font-size="6.6" text-anchor="start" font-weight="normal" fill="#222" textLength="8.20" lengthAdjust="spacingAndGlyphs">LR</text>
<line x1="376.00" y1="138.30" x2="376.00" y2="141.50" stroke="#000" stroke-width="1.0" />
<line x1="401.60" y1="138.30" x2="401.60" y2="141.50" stroke="#000" stroke-width="1.0" />
<text x="401.60" y="151.20" font-size="6.8" text-anchor="middle" font-weight="normal" fill="#222">0</text>
<line x1="431.70" y1="138.30" x2="431.70" y2="141.50" stroke="#000" stroke-width="1.0" />
<text x="433.30" y="151.2" font-size="6.8" text-anchor="end" fill="#222">10</text>
<text x="433.50" y="148.3" font-size="4.8" fill="#222">3</text>
<line x1="465.30" y1="138.30" x2="465.30" y2="141.50" stroke="#000" stroke-width="1.0" />
<text x="466.90" y="151.2" font-size="6.8" text-anchor="end" fill="#222">10</text>
<text x="467.10" y="148.3" font-size="4.8" fill="#222">4</text>
<line x1="495.10" y1="138.30" x2="495.10" y2="141.50" stroke="#000" stroke-width="1.0" />
<text x="496.70" y="151.2" font-size="6.8" text-anchor="end" fill="#222">10</text>
<text x="496.90" y="148.3" font-size="4.8" fill="#222">5</text>
<line x1="441.81" y1="138.30" x2="441.81" y2="140.10" stroke="#000" stroke-width="0.7" />
<line x1="447.73" y1="138.30" x2="447.73" y2="140.10" stroke="#000" stroke-width="0.7" />
<line x1="451.93" y1="138.30" x2="451.93" y2="140.10" stroke="#000" stroke-width="0.7" />
<line x1="455.19" y1="138.30" x2="455.19" y2="140.10" stroke="#000" stroke-width="0.7" />
<line x1="457.85" y1="138.30" x2="457.85" y2="140.10" stroke="#000" stroke-width="0.7" />
<line x1="460.10" y1="138.30" x2="460.10" y2="140.10" stroke="#000" stroke-width="0.7" />
<line x1="462.04" y1="138.30" x2="462.04" y2="140.10" stroke="#000" stroke-width="0.7" />
<line x1="463.76" y1="138.30" x2="463.76" y2="140.10" stroke="#000" stroke-width="0.7" />
<line x1="474.27" y1="138.30" x2="474.27" y2="140.10" stroke="#000" stroke-width="0.7" />
<line x1="479.52" y1="138.30" x2="479.52" y2="140.10" stroke="#000" stroke-width="0.7" />
<line x1="483.24" y1="138.30" x2="483.24" y2="140.10" stroke="#000" stroke-width="0.7" />
<line x1="486.13" y1="138.30" x2="486.13" y2="140.10" stroke="#000" stroke-width="0.7" />
<line x1="488.49" y1="138.30" x2="488.49" y2="140.10" stroke="#000" stroke-width="0.7" />
<line x1="490.48" y1="138.30" x2="490.48" y2="140.10" stroke="#000" stroke-width="0.7" />
<line x1="492.21" y1="138.30" x2="492.21" y2="140.10" stroke="#000" stroke-width="0.7" />
<line x1="493.74" y1="138.30" x2="493.74" y2="140.10" stroke="#000" stroke-width="0.7" />
<line x1="504.07" y1="138.30" x2="504.07" y2="140.10" stroke="#000" stroke-width="0.7" />
<line x1="391.60" y1="138.30" x2="391.60" y2="139.90" stroke="#000" stroke-width="0.6" />
<line x1="392.60" y1="138.30" x2="392.60" y2="139.90" stroke="#000" stroke-width="0.6" />
<line x1="393.60" y1="138.30" x2="393.60" y2="139.90" stroke="#000" stroke-width="0.6" />
<line x1="394.60" y1="138.30" x2="394.60" y2="139.90" stroke="#000" stroke-width="0.6" />
<line x1="395.60" y1="138.30" x2="395.60" y2="139.90" stroke="#000" stroke-width="0.6" />
<line x1="396.60" y1="138.30" x2="396.60" y2="139.90" stroke="#000" stroke-width="0.6" />
<line x1="397.60" y1="138.30" x2="397.60" y2="139.90" stroke="#000" stroke-width="0.6" />
<line x1="398.60" y1="138.30" x2="398.60" y2="139.90" stroke="#000" stroke-width="0.6" />
<line x1="399.60" y1="138.30" x2="399.60" y2="139.90" stroke="#000" stroke-width="0.6" />
<line x1="400.60" y1="138.30" x2="400.60" y2="139.90" stroke="#000" stroke-width="0.6" />
<line x1="401.60" y1="138.30" x2="401.60" y2="139.90" stroke="#000" stroke-width="0.6" />
<line x1="402.60" y1="138.30" x2="402.60" y2="139.90" stroke="#000" stroke-width="0.6" />
<line x1="403.60" y1="138.30" x2="403.60" y2="139.90" stroke="#000" stroke-width="0.6" />
<line x1="404.60" y1="138.30" x2="404.60" y2="139.90" stroke="#000" stroke-width="0.6" />
<line x1="405.60" y1="138.30" x2="405.60" y2="139.90" stroke="#000" stroke-width="0.6" />
<line x1="406.60" y1="138.30" x2="406.60" y2="139.90" stroke="#000" stroke-width="0.6" />
<line x1="407.60" y1="138.30" x2="407.60" y2="139.90" stroke="#000" stroke-width="0.6" />
<line x1="408.60" y1="138.30" x2="408.60" y2="139.90" stroke="#000" stroke-width="0.6" />
<line x1="409.60" y1="138.30" x2="409.60" y2="139.90" stroke="#000" stroke-width="0.6" />
<line x1="410.60" y1="138.30" x2="410.60" y2="139.90" stroke="#000" stroke-width="0.6" />
<line x1="377.50" y1="138.30" x2="377.50" y2="140.30" stroke="#000" stroke-width="0.7" />
<line x1="380.70" y1="138.30" x2="380.70" y2="140.30" stroke="#000" stroke-width="0.7" />
<line x1="383.90" y1="138.30" x2="383.90" y2="140.30" stroke="#000" stroke-width="0.7" />
<line x1="387.10" y1="138.30" x2="387.10" y2="140.30" stroke="#000" stroke-width="0.7" />
<line x1="390.30" y1="138.30" x2="390.30" y2="140.30" stroke="#000" stroke-width="0.7" />
<line x1="411.60" y1="138.30" x2="411.60" y2="140.30" stroke="#000" stroke-width="0.7" />
<line x1="414.60" y1="138.30" x2="414.60" y2="140.30" stroke="#000" stroke-width="0.7" />
<line x1="417.60" y1="138.30" x2="417.60" y2="140.30" stroke="#000" stroke-width="0.7" />
<line x1="420.60" y1="138.30" x2="420.60" y2="140.30" stroke="#000" stroke-width="0.7" />
<line x1="423.60" y1="138.30" x2="423.60" y2="140.30" stroke="#000" stroke-width="0.7" />
<line x1="426.60" y1="138.30" x2="426.60" y2="140.30" stroke="#000" stroke-width="0.7" />
<line x1="429.60" y1="138.30" x2="429.60" y2="140.30" stroke="#000" stroke-width="0.7" />
<line x1="395.60" y1="138.30" x2="395.60" y2="140.90" stroke="#000" stroke-width="0.8" />
<line x1="396.80" y1="138.30" x2="396.80" y2="140.90" stroke="#000" stroke-width="0.8" />
<line x1="398.00" y1="138.30" x2="398.00" y2="140.90" stroke="#000" stroke-width="0.8" />
<line x1="399.20" y1="138.30" x2="399.20" y2="140.90" stroke="#000" stroke-width="0.8" />
<line x1="400.40" y1="138.30" x2="400.40" y2="140.90" stroke="#000" stroke-width="0.8" />
<line x1="401.60" y1="138.30" x2="401.60" y2="140.90" stroke="#000" stroke-width="0.8" />
<line x1="402.80" y1="138.30" x2="402.80" y2="140.90" stroke="#000" stroke-width="0.8" />
<line x1="404.00" y1="138.30" x2="404.00" y2="140.90" stroke="#000" stroke-width="0.8" />
<line x1="405.20" y1="138.30" x2="405.20" y2="140.90" stroke="#000" stroke-width="0.8" />
<line x1="406.40" y1="138.30" x2="406.40" y2="140.90" stroke="#000" stroke-width="0.8" />
<path d="M463.0,129.7h0.01 M455.5,105.5h0.01 M459.2,105.7h0.01 M443.6,126.7h0.01 M450.4,106.8h0.01 M459.3,105.4h0.01 M451.5,104.8h0.01 M442.3,124.4h0.01 M453.3,127.9h0.01 M440.3,116.9h0.01 M441.2,111.1h0.01 M452.9,128.0h0.01 M440.4,120.0h0.01 M443.5,123.0h0.01 M440.3,119.3h0.01 M458.3,131.4h0.01 M469.6,109.8h0.01 M445.6,127.2h0.01 M469.9,110.5h0.01 M458.9,128.2h0.01 M452.5,128.3h0.01 M449.9,106.3h0.01 M441.2,120.6h0.01 M451.4,128.0h0.01 M458.6,129.0h0.01 M453.7,130.8h0.01 M471.6,122.3h0.01 M455.6,104.0h0.01 M467.0,126.0h0.01 M449.3,107.6h0.01 M462.2,128.9h0.01 M443.9,112.3h0.01 M460.5,104.3h0.01 M470.7,116.5h0.01 M469.7,119.7h0.01 M445.4,126.5h0.01 M450.6,127.2h0.01 M467.1,125.9h0.01 M472.1,115.1h0.01 M449.1,106.3h0.01 M473.4,121.9h0.01 M468.4,123.9h0.01 M443.2,121.9h0.01 M450.2,107.4h0.01 M445.6,108.6h0.01 M455.1,129.6h0.01 M470.1,122.3h0.01 M442.2,120.7h0.01 M457.2,130.2h0.01 M458.1,129.2h0.01 M456.3,129.5h0.01 M454.2,129.4h0.01 M442.3,123.2h0.01 M457.3,127.7h0.01 M459.9,105.6h0.01 M441.6,115.7h0.01 M453.7,130.2h0.01 M456.2,132.0h0.01 M444.1,110.2h0.01 M469.0,114.2h0.01 M439.8,118.6h0.01 M450.4,130.7h0.01 M470.3,117.4h0.01 M464.0,106.3h0.01 M459.8,132.3h0.01 M443.0,120.9h0.01 M468.1,126.9h0.01 M454.1,127.9h0.01 M440.0,117.9h0.01 M467.6,109.5h0.01 M459.4,127.2h0.01 M441.2,121.2h0.01 M468.5,112.1h0.01 M448.4,107.8h0.01 M465.9,106.6h0.01 M466.4,110.2h0.01 M453.2,105.1h0.01 M467.2,110.6h0.01 M442.8,112.8h0.01 M447.8,105.1h0.01 M442.5,119.7h0.01 M440.5,117.0h0.01 M471.7,116.7h0.01 M460.0,106.6h0.01 M440.0,116.4h0.01 M441.3,121.2h0.01 M440.3,122.8h0.01 M448.4,125.8h0.01 M468.7,125.0h0.01 M449.4,126.4h0.01 M444.0,112.1h0.01 M466.3,125.7h0.01 M455.5,129.8h0.01 M469.9,110.5h0.01 M451.9,108.0h0.01 M460.1,127.8h0.01 M470.0,112.2h0.01 M456.3,130.4h0.01 M445.4,110.4h0.01 M454.7,104.6h0.01 M448.9,130.2h0.01 M446.0,108.9h0.01 M462.1,106.6h0.01 M440.8,121.6h0.01 M471.0,121.3h0.01 M441.2,115.5h0.01 M469.5,113.3h0.01 M467.4,105.7h0.01 M461.6,106.1h0.01 M453.9,105.6h0.01 M460.8,127.0h0.01 M442.1,118.1h0.01 M443.3,123.0h0.01 M445.9,110.5h0.01 M467.8,110.4h0.01 M446.9,110.5h0.01 M444.3,124.9h0.01 M453.3,107.9h0.01 M471.2,118.6h0.01 M468.3,107.7h0.01 M463.3,106.9h0.01 M468.0,108.3h0.01 M473.8,115.3h0.01 M456.4,128.3h0.01 M452.2,127.5h0.01 M474.3,122.4h0.01 M470.6,118.9h0.01 M440.2,119.4h0.01 M465.7,106.1h0.01 M451.3,128.2h0.01 M454.5,128.3h0.01 M443.3,125.4h0.01 M469.9,122.7h0.01 M450.3,108.9h0.01 M439.5,116.1h0.01 M442.1,116.5h0.01 M453.6,107.1h0.01 M451.3,129.9h0.01 M445.9,109.4h0.01 M456.0,104.2h0.01 M469.3,114.1h0.01 M447.5,107.4h0.01 M463.6,128.2h0.01 M441.8,117.4h0.01 M442.2,118.2h0.01 M439.3,119.3h0.01 M445.4,127.9h0.01 M457.6,105.4h0.01 M444.6,112.8h0.01 M458.3,128.9h0.01 M468.0,108.1h0.01 M445.2,125.1h0.01 M447.5,105.9h0.01 M451.1,107.6h0.01 M454.7,128.9h0.01 M460.8,129.1h0.01 M440.0,117.6h0.01 M453.7,128.0h0.01 M447.4,129.5h0.01 M467.8,123.7h0.01 M446.5,110.5h0.01 M458.3,129.6h0.01 M469.4,122.0h0.01 M463.2,127.2h0.01 M457.3,106.0h0.01 M444.7,110.9h0.01 M439.8,116.9h0.01 M455.1,104.8h0.01 M446.6,124.1h0.01 M469.2,125.0h0.01 M462.4,104.3h0.01 M457.4,131.0h0.01 M460.9,129.7h0.01 M442.9,122.3h0.01 M452.1,128.6h0.01 M471.2,120.4h0.01 M452.1,107.2h0.01 M443.8,123.0h0.01 M462.1,129.0h0.01 M471.3,114.6h0.01 M455.9,105.2h0.01 M458.0,129.7h0.01 M441.8,119.5h0.01 M443.4,124.0h0.01 M443.0,123.3h0.01 M446.7,110.3h0.01 M442.4,112.3h0.01 M442.8,109.5h0.01 M457.0,105.8h0.01 M442.7,123.3h0.01 M461.8,106.6h0.01 M460.6,105.9h0.01 M473.0,116.0h0.01 M440.1,122.7h0.01 M465.7,127.9h0.01 M450.0,128.1h0.01 M470.1,115.3h0.01 M470.7,125.4h0.01 M468.8,123.6h0.01 M454.4,128.9h0.01 M440.9,117.1h0.01 M471.3,117.7h0.01 M467.2,124.9h0.01 M465.5,106.9h0.01 M441.5,115.5h0.01 M446.8,126.6h0.01 M470.3,119.0h0.01 M458.6,130.1h0.01 M443.9,124.5h0.01 M456.6,131.6h0.01 M439.1,118.1h0.01 M441.1,122.8h0.01 M446.7,108.8h0.01 M450.7,127.7h0.01 M462.5,128.9h0.01 M442.2,117.4h0.01 M440.1,120.4h0.01 M457.8,104.5h0.01 M471.8,120.0h0.01 M451.1,127.6h0.01 M470.7,121.7h0.01 M448.8,108.6h0.01 M460.6,107.4h0.01 M461.2,132.9h0.01 M465.6,108.7h0.01 M440.9,118.2h0.01 M465.3,128.0h0.01 M444.1,122.9h0.01 M446.8,107.0h0.01 M448.8,128.3h0.01 M469.4,124.0h0.01 M461.6,105.7h0.01 M466.9,126.7h0.01 M472.8,116.4h0.01 M443.4,111.1h0.01 M471.1,108.6h0.01 M447.9,128.7h0.01 M462.4,102.2h0.01 M453.0,106.3h0.01 M467.4,126.4h0.01 M473.9,118.7h0.01 M469.7,111.1h0.01 M443.8,122.9h0.01 M463.7,128.8h0.01 M469.6,110.6h0.01 M441.9,118.5h0.01 M453.6,106.7h0.01 M469.3,110.1h0.01 M467.1,125.2h0.01 M442.3,119.4h0.01 M453.6,105.7h0.01 M449.1,128.1h0.01 M443.0,122.8h0.01 M467.1,125.5h0.01 M447.5,108.3h0.01 M448.7,106.1h0.01 M439.3,116.3h0.01 M455.3,128.0h0.01 M462.5,103.7h0.01 M471.5,115.9h0.01 M455.9,105.9h0.01 M448.7,107.6h0.01 M440.1,118.6h0.01 M469.5,108.4h0.01 M441.2,108.5h0.01 M438.8,118.6h0.01 M464.0,107.3h0.01 M456.6,129.3h0.01 M453.5,106.1h0.01 M470.6,118.5h0.01 M442.9,114.2h0.01 M444.9,110.4h0.01 M470.8,115.3h0.01 M454.7,127.3h0.01 M446.8,109.9h0.01 M440.5,118.9h0.01 M466.5,126.1h0.01 M469.4,113.9h0.01 M471.7,119.6h0.01 M454.7,106.1h0.01 M443.4,116.7h0.01 M447.2,109.9h0.01 M439.9,120.2h0.01 M453.8,128.7h0.01 M441.6,119.5h0.01 M440.1,122.0h0.01 M439.7,115.1h0.01 M469.5,109.8h0.01 M464.3,129.1h0.01 M470.6,122.5h0.01 M465.7,125.9h0.01 M461.1,106.1h0.01 M462.0,129.0h0.01 M471.0,121.0h0.01 M450.1,105.7h0.01 M448.8,109.6h0.01 M467.0,109.4h0.01 M440.4,120.4h0.01 M458.2,129.4h0.01 M466.9,106.3h0.01 M441.4,122.4h0.01 M441.6,114.0h0.01 M464.8,105.7h0.01 M443.1,109.7h0.01 M457.4,105.6h0.01 M464.7,128.2h0.01 M461.7,128.3h0.01 M457.3,102.8h0.01 M471.4,122.5h0.01 M445.2,124.6h0.01 M464.0,105.8h0.01 M466.0,124.5h0.01 M455.7,104.3h0.01 M446.7,109.3h0.01 M473.0,121.3h0.01 M468.6,123.3h0.01 M452.2,128.0h0.01 M444.2,110.8h0.01 M440.7,118.7h0.01 M469.5,120.0h0.01 M443.4,111.2h0.01 M445.3,109.3h0.01 M442.7,124.0h0.01 M439.6,120.5h0.01 M441.3,119.0h0.01 M471.1,121.3h0.01 M463.1,107.0h0.01 M447.8,126.0h0.01 M468.3,123.2h0.01 M450.2,128.1h0.01 M470.4,123.2h0.01 M450.4,107.4h0.01 M439.2,120.1h0.01 M461.5,105.6h0.01 M443.4,112.9h0.01 M460.6,105.6h0.01 M460.3,129.6h0.01 M452.3,105.0h0.01 M469.6,114.8h0.01 M441.8,119.0h0.01 M472.1,117.9h0.01 M471.9,123.9h0.01 M439.4,119.3h0.01 M458.7,129.2h0.01 M465.2,127.7h0.01 M464.5,104.2h0.01 M446.3,128.2h0.01 M469.2,122.4h0.01 M469.9,120.2h0.01 M439.6,119.0h0.01 M440.9,117.4h0.01 M456.8,128.1h0.01 M441.3,111.8h0.01 M465.4,109.1h0.01 M445.7,111.1h0.01 M440.5,117.3h0.01 M466.8,128.9h0.01 M454.6,105.8h0.01 M466.5,109.5h0.01 M442.4,117.9h0.01 M469.9,112.4h0.01 M442.8,113.9h0.01 M454.8,129.0h0.01 M437.8,122.2h0.01 M471.7,115.8h0.01 M472.3,115.2h0.01 M471.2,118.8h0.01 M440.7,117.7h0.01 M459.4,128.7h0.01 M451.4,128.1h0.01 M442.1,119.2h0.01 M454.4,106.6h0.01 M471.7,119.7h0.01 M464.2,105.7h0.01 M462.9,103.0h0.01 M449.9,128.1h0.01 M462.4,128.5h0.01 M471.8,115.9h0.01 M465.3,126.8h0.01 M440.9,117.8h0.01 M446.4,126.6h0.01 M469.5,115.7h0.01 M465.4,127.0h0.01 M468.6,112.6h0.01 M471.1,122.4h0.01 M456.1,129.8h0.01 M446.4,127.7h0.01 M448.0,109.5h0.01 M470.1,113.7h0.01 M452.3,105.9h0.01 M442.0,113.0h0.01 M471.3,119.8h0.01 M467.7,111.0h0.01 M458.3,104.3h0.01 M449.3,106.9h0.01 M450.9,106.6h0.01 M468.4,109.9h0.01 M439.2,118.8h0.01 M448.8,130.2h0.01 M466.5,125.0h0.01 M467.9,127.0h0.01 M449.5,109.3h0.01 M471.1,123.6h0.01 M441.4,120.8h0.01 M465.8,108.0h0.01 M468.8,110.1h0.01 M452.9,129.5h0.01 M455.6,105.5h0.01 M464.8,109.4h0.01 M454.9,128.6h0.01 M447.4,127.7h0.01 M469.8,125.4h0.01 M468.6,123.8h0.01 M459.1,131.4h0.01 M471.2,111.9h0.01 M443.0,111.5h0.01 M468.5,108.8h0.01 M453.3,106.4h0.01 M441.5,112.2h0.01 M456.4,132.5h0.01 M448.0,105.4h0.01 M436.6,117.8h0.01 M465.1,131.0h0.01 M471.4,102.8h0.01 M470.2,128.1h0.01 M465.0,104.3h0.01 M456.7,135.6h0.01 M438.1,108.8h0.01 M433.6,103.6h0.01 M474.1,114.2h0.01 M472.9,100.7h0.01 M437.3,133.8h0.01 M464.4,100.6h0.01 M463.2,132.5h0.01 M428.0,122.9h0.01 M442.9,100.0h0.01 M483.2,112.0h0.01 M475.9,105.7h0.01 M449.2,104.4h0.01 M469.3,110.9h0.01 M455.9,105.4h0.01 M465.0,97.2h0.01 M439.0,120.2h0.01 M475.0,125.1h0.01 M444.0,129.8h0.01 M452.5,95.1h0.01 M470.2,108.3h0.01 M479.0,126.4h0.01 M460.1,104.6h0.01 M447.9,106.3h0.01 M463.8,130.3h0.01 M435.0,111.1h0.01 M446.8,103.2h0.01 M472.5,108.3h0.01 M439.6,117.2h0.01 M439.8,114.9h0.01 M453.8,94.1h0.01 M447.2,131.5h0.01 M447.8,105.4h0.01 M429.4,101.8h0.01 M478.2,125.2h0.01 M439.5,122.1h0.01 M436.5,117.4h0.01 M449.4,106.9h0.01 M428.9,117.4h0.01 M444.6,128.3h0.01 M449.7,131.4h0.01 M460.7,105.2h0.01 M441.9,113.2h0.01 M436.4,122.9h0.01 M472.1,119.6h0.01 M442.4,129.0h0.01 M453.5,104.6h0.01 M471.9,130.3h0.01 M429.8,119.1h0.01 M444.7,102.2h0.01 M469.1,103.7h0.01 M470.2,128.0h0.01 M438.8,118.3h0.01 M463.6,103.6h0.01 M432.8,118.4h0.01 M450.3,129.2h0.01 M450.8,130.8h0.01 M459.7,103.3h0.01 M428.5,119.7h0.01 M448.7,132.0h0.01 M447.3,104.5h0.01 M433.9,118.5h0.01 M441.6,129.2h0.01 M469.4,110.0h0.01 M432.7,120.8h0.01 M485.3,119.9h0.01 M476.1,106.3h0.01 M438.3,116.8h0.01 M431.7,119.7h0.01 M460.1,100.5h0.01 M475.6,106.9h0.01 M438.9,126.8h0.01 M443.0,112.4h0.01 M435.7,124.9h0.01 M450.1,127.5h0.01 M472.9,108.3h0.01 M450.5,130.0h0.01 M454.4,104.2h0.01 M431.4,122.1h0.01 M471.3,128.8h0.01 M473.9,124.6h0.01 M469.4,104.3h0.01 M460.8,101.9h0.01 M453.9,100.5h0.01 M437.3,106.3h0.01 M469.5,126.3h0.01 M439.8,132.9h0.01 M473.3,115.3h0.01 M473.3,116.1h0.01 M475.3,123.7h0.01 M468.7,104.3h0.01 M448.1,107.9h0.01 M478.9,135.2h0.01 M454.4,104.4h0.01 M458.2,131.3h0.01 M476.0,113.6h0.01 M449.4,106.9h0.01 M436.6,113.4h0.01 M467.4,103.0h0.01 M473.6,108.4h0.01 M438.7,121.6h0.01 M476.7,132.5h0.01 M468.3,133.5h0.01 M474.3,73.7h0.01 M469.8,82.7h0.01 M475.1,71.6h0.01 M462.4,95.2h0.01 M468.7,99.6h0.01 M453.9,100.0h0.01 M456.0,95.0h0.01 M465.9,77.6h0.01 M456.0,100.4h0.01 M463.4,79.9h0.01 M454.2,93.8h0.01 M452.2,92.0h0.01 M456.8,90.6h0.01 M472.1,69.9h0.01 M483.8,67.8h0.01 M450.7,101.1h0.01 M469.8,93.7h0.01 M460.0,87.3h0.01 M451.7,90.5h0.01 M479.9,68.3h0.01 M473.7,68.4h0.01 M462.7,102.2h0.01 M458.6,98.9h0.01 M450.7,108.1h0.01 M463.1,85.3h0.01 M449.6,96.0h0.01 M463.9,92.4h0.01 M469.6,90.6h0.01 M445.8,104.8h0.01 M467.6,87.3h0.01 M456.8,87.9h0.01 M452.6,104.5h0.01 M460.1,94.1h0.01 M468.4,76.0h0.01 M457.2,102.1h0.01 M468.2,78.1h0.01 M444.5,104.3h0.01 M459.7,86.7h0.01 M452.5,108.1h0.01 M450.0,88.9h0.01 M456.0,103.1h0.01 M445.5,95.6h0.01 M466.6,83.2h0.01 M457.9,88.5h0.01 M464.6,84.2h0.01 M469.4,96.8h0.01 M436.7,101.7h0.01 M472.0,73.4h0.01 M453.7,104.3h0.01 M455.4,89.6h0.01 M455.6,100.3h0.01 M446.1,104.9h0.01 M458.9,82.1h0.01 M474.7,71.6h0.01 M454.7,84.3h0.01 M458.4,100.2h0.01 M443.0,101.0h0.01 M466.0,96.9h0.01 M459.0,84.5h0.01 M462.7,85.2h0.01 M465.4,100.0h0.01 M470.2,86.7h0.01 M467.7,72.0h0.01 M459.2,84.6h0.01 M456.2,98.3h0.01 M448.2,104.3h0.01 M478.2,70.6h0.01 M454.6,104.4h0.01 M463.5,74.4h0.01 M461.5,92.2h0.01 M439.0,104.8h0.01 M455.8,98.6h0.01 M463.1,99.7h0.01 M469.6,84.6h0.01 M468.3,77.1h0.01 M474.7,67.7h0.01 M471.9,73.3h0.01 M477.7,68.8h0.01 M469.1,83.3h0.01 M467.8,81.4h0.01 M402.2,117.1h0.01 M393.1,118.3h0.01 M395.2,114.2h0.01 M400.4,112.2h0.01 M409.3,117.0h0.01 M400.9,121.2h0.01 M407.8,117.1h0.01 M402.9,121.2h0.01 M411.5,115.6h0.01 M402.6,114.6h0.01 M393.0,117.8h0.01 M398.4,114.5h0.01 M392.8,117.7h0.01 M388.4,118.5h0.01 M390.3,122.5h0.01 M401.2,120.3h0.01 M396.9,121.5h0.01 M403.9,120.3h0.01 M400.7,119.9h0.01 M399.0,119.9h0.01 M397.4,116.9h0.01 M401.1,118.3h0.01 M399.4,115.5h0.01 M397.7,121.0h0.01 M400.9,119.0h0.01 M395.8,122.4h0.01 M398.2,119.7h0.01 M399.7,121.8h0.01 M387.3,111.3h0.01 M397.0,109.9h0.01 M393.4,115.5h0.01 M397.5,119.9h0.01 M388.7,119.5h0.01 M409.7,123.1h0.01 M390.7,116.7h0.01 M415.2,114.7h0.01 M409.0,119.2h0.01 M404.4,112.6h0.01 M388.5,115.1h0.01 M404.9,120.6h0.01 M393.5,118.9h0.01 M401.1,114.9h0.01 M391.0,111.6h0.01 M390.5,115.2h0.01 M409.4,120.5h0.01 M397.8,118.8h0.01 M392.5,110.2h0.01 M401.2,119.5h0.01 M392.9,121.5h0.01 M407.6,120.3h0.01 M384.0,117.8h0.01 M404.2,114.9h0.01 M395.0,120.4h0.01 M415.8,120.3h0.01 M401.3,116.1h0.01 M390.6,115.0h0.01 M402.4,116.2h0.01 M410.3,113.5h0.01 M390.2,117.7h0.01 M401.4,118.2h0.01 M391.0,115.5h0.01 M407.4,116.7h0.01 M396.0,120.0h0.01 M403.2,118.0h0.01 M413.6,113.7h0.01 M403.1,116.1h0.01 M408.1,114.9h0.01 M405.3,116.7h0.01 M420.4,118.8h0.01 M417.8,115.9h0.01 M395.2,119.2h0.01 M386.4,115.0h0.01 M412.1,121.6h0.01 M398.3,121.6h0.01 M403.8,119.6h0.01 M392.4,121.1h0.01 M395.5,122.8h0.01 M391.8,126.1h0.01 M394.8,113.7h0.01 M391.1,119.3h0.01 M402.4,115.8h0.01 M406.3,124.3h0.01 M401.1,120.5h0.01 M407.3,120.8h0.01 M386.3,122.9h0.01 M400.0,118.6h0.01 M410.1,109.7h0.01 M407.0,119.1h0.01 M413.9,119.4h0.01 M411.4,121.7h0.01 M391.0,118.0h0.01 M394.8,118.0h0.01 M393.5,113.4h0.01 M399.5,117.2h0.01 M404.2,123.5h0.01 M397.5,117.5h0.01 M410.2,121.3h0.01 M387.6,118.0h0.01 M388.1,115.3h0.01 M396.0,117.5h0.01 M397.5,118.6h0.01 M402.4,123.0h0.01 M406.1,114.5h0.01 M410.6,118.9h0.01 M390.4,114.7h0.01 M400.1,118.2h0.01 M402.5,113.0h0.01 M397.0,124.5h0.01 M385.8,113.5h0.01 M399.9,118.8h0.01 M394.9,118.3h0.01 M398.7,115.1h0.01 M399.2,116.8h0.01 M402.3,120.0h0.01 M392.3,117.5h0.01 M391.0,116.6h0.01 M400.5,120.0h0.01 M393.1,119.8h0.01 M398.7,116.9h0.01 M397.6,115.9h0.01 M402.3,113.8h0.01 M403.1,116.1h0.01 M411.1,116.2h0.01 M401.9,120.1h0.01 M405.6,122.8h0.01 M412.6,117.4h0.01 M396.0,122.4h0.01 M403.2,117.6h0.01 M400.2,120.8h0.01 M406.5,111.3h0.01 M445.8,121.0h0.01 M449.9,92.2h0.01 M500.1,117.1h0.01 M448.1,84.1h0.01 M451.3,105.3h0.01 M423.0,81.8h0.01 M459.5,94.6h0.01 M466.9,81.5h0.01 M446.1,71.0h0.01 M433.1,102.2h0.01 M500.7,116.4h0.01 M423.6,119.7h0.01 M498.9,80.4h0.01 M460.5,124.1h0.01 M495.6,69.9h0.01 M501.4,86.7h0.01" stroke="#dc0000" stroke-width="1.15" stroke-linecap="round" fill="none"/>
<path d="M441.2,118.0 L442.5,114.0 L445.5,110.8 L450.0,108.0 L455.0,106.2 L460.0,106.0 L464.5,107.5 L468.0,110.5 L470.0,114.5 L470.3,118.5 L469.5,122.5 L466.5,126.0 L462.0,128.3 L457.0,128.8 L452.0,128.0 L447.0,126.0 L443.5,123.0 L441.5,120.5 Z" fill="#dc0000"/>
<g font-style="italic" fill="#111">
<text x="246.40" y="28.30" font-size="8.90" textLength="21.20" lengthAdjust="spacingAndGlyphs">Pros1</text>
<text x="268.60" y="25.00" font-size="6.20" textLength="21.50" lengthAdjust="spacingAndGlyphs">lox/lox</text>
<text x="293.60" y="28.30" font-size="8.90" textLength="31.20" lengthAdjust="spacingAndGlyphs">Pf4-Cre</text>
<text x="325.80" y="24.10" font-size="6.20" font-style="normal">-</text>
</g>
<g font-style="italic" fill="#111">
<text x="399.40" y="28.30" font-size="8.90" textLength="21.20" lengthAdjust="spacingAndGlyphs">Pros1</text>
<text x="421.60" y="25.00" font-size="6.20" textLength="21.50" lengthAdjust="spacingAndGlyphs">lox/lox</text>
<text x="446.60" y="28.30" font-size="8.90" textLength="31.20" lengthAdjust="spacingAndGlyphs">Pf4-Cre</text>
<text x="478.80" y="24.10" font-size="6.20" font-style="normal">+</text>
</g>
<defs><clipPath id="cb1"><path d="M223.50,284.70 C223.93,284.58 225.03,284.70 226.10,284.00 C227.17,283.30 228.77,282.35 229.90,280.50 C231.03,278.65 232.02,275.68 232.90,272.90 C233.78,270.12 234.32,267.60 235.20,263.80 C236.08,260.00 237.18,254.40 238.20,250.10 C239.22,245.80 240.28,242.05 241.30,238.00 C242.32,233.95 243.17,229.85 244.30,225.80 C245.43,221.75 246.83,216.68 248.10,213.70 C249.37,210.72 250.88,207.90 251.90,207.90 C252.92,207.90 253.43,210.97 254.20,213.70 C254.97,216.43 255.75,220.77 256.50,224.30 C257.25,227.83 257.95,231.10 258.70,234.90 C259.45,238.70 260.23,243.05 261.00,247.10 C261.77,251.15 262.53,255.78 263.30,259.20 C264.07,262.62 264.72,265.07 265.60,267.60 C266.48,270.13 267.47,272.25 268.60,274.40 C269.73,276.55 271.13,278.98 272.40,280.50 C273.67,282.02 274.93,282.80 276.20,283.50 C277.47,284.20 279.37,284.50 280.00,284.70 L280.00,284.7 L223.50,284.7 Z"/></clipPath></defs>
<path d="M223.50,284.70 C223.93,284.58 225.03,284.70 226.10,284.00 C227.17,283.30 228.77,282.35 229.90,280.50 C231.03,278.65 232.02,275.68 232.90,272.90 C233.78,270.12 234.32,267.60 235.20,263.80 C236.08,260.00 237.18,254.40 238.20,250.10 C239.22,245.80 240.28,242.05 241.30,238.00 C242.32,233.95 243.17,229.85 244.30,225.80 C245.43,221.75 246.83,216.68 248.10,213.70 C249.37,210.72 250.88,207.90 251.90,207.90 C252.92,207.90 253.43,210.97 254.20,213.70 C254.97,216.43 255.75,220.77 256.50,224.30 C257.25,227.83 257.95,231.10 258.70,234.90 C259.45,238.70 260.23,243.05 261.00,247.10 C261.77,251.15 262.53,255.78 263.30,259.20 C264.07,262.62 264.72,265.07 265.60,267.60 C266.48,270.13 267.47,272.25 268.60,274.40 C269.73,276.55 271.13,278.98 272.40,280.50 C273.67,282.02 274.93,282.80 276.20,283.50 C277.47,284.20 279.37,284.50 280.00,284.70 L280.00,284.7 L223.50,284.7 Z" fill="#2e4c80" stroke="#1f3b70" stroke-width="0.6"/>
<path d="M219.00,284.49 L219.65,284.46 L220.54,284.46 L221.60,284.46 L222.75,284.45 L223.94,284.38 L225.08,284.29 L226.10,284.17 L227.19,284.11 L228.27,284.05 L229.31,283.83 L230.32,283.49 L231.29,283.17 L232.20,283.03 L232.93,282.27 L233.60,281.09 L234.24,280.66 L234.85,279.40 L235.45,278.70 L236.07,277.96 L236.70,277.18 L237.48,277.11 L238.29,276.30 L239.09,275.59 L239.88,275.59 L240.62,275.31 L241.30,273.66 L242.00,273.60 L242.62,272.59 L243.18,272.23 L243.73,270.93 L244.30,270.61 L244.73,269.79 L245.18,268.75 L245.62,267.42 L246.06,266.72 L246.49,265.49 L246.91,264.58 L247.30,264.70 L248.54,263.43 L249.60,264.63 L250.35,264.84 L251.10,264.00 L252.15,264.60 L253.40,263.60 L254.38,264.33 L255.44,264.76 L256.50,264.41 L257.26,265.73 L258.01,266.36 L258.75,267.54 L259.50,267.07 L260.50,268.33 L261.49,267.73 L262.50,268.25 L263.53,268.10 L264.57,269.15 L265.60,268.96 L266.58,270.38 L267.54,270.34 L268.60,270.98 L269.49,271.12 L270.45,270.47 L271.43,270.64 L272.40,271.21 L273.35,270.33 L274.30,270.46 L275.25,270.24 L276.20,270.47 L277.10,270.14 L277.96,270.44 L278.90,270.77 L280.00,270.65 L280.73,270.06 L281.53,270.65 L282.37,269.41 L283.25,269.15 L284.16,268.76 L285.08,269.38 L286.00,268.34 L286.73,267.69 L287.47,267.21 L288.23,267.49 L289.00,266.36 L289.78,265.78 L290.57,266.11 L291.35,264.75 L292.13,264.57 L292.90,264.10 L293.60,263.29 L294.30,262.79 L295.01,262.68 L295.73,261.08 L296.44,259.97 L297.14,258.94 L297.83,258.94 L298.51,258.19 L299.17,257.85 L299.80,256.99 L300.80,256.24 L301.76,255.50 L302.68,255.07 L303.56,254.99 L304.43,254.51 L305.30,254.65 L306.15,255.55 L306.97,255.17 L307.77,254.65 L308.57,256.66 L309.37,256.66 L310.20,256.78 L310.84,258.20 L311.50,258.47 L312.17,258.92 L312.84,259.70 L313.50,260.35 L314.16,261.66 L314.79,262.96 L315.40,263.15 L315.91,264.21 L316.38,265.57 L316.83,264.90 L317.27,266.29 L317.71,266.77 L318.17,267.20 L318.64,268.01 L319.15,269.31 L319.70,270.40 L320.15,270.68 L320.62,271.73 L321.12,272.86 L321.63,273.53 L322.16,274.67 L322.69,275.37 L323.23,276.25 L323.77,277.70 L324.30,277.97 L324.81,278.49 L325.32,279.41 L325.80,279.36 L326.72,280.55 L327.60,281.59 L328.46,282.10 L329.30,282.69 L330.14,282.82 L331.00,283.04 L331.96,283.78 L332.84,284.00 L333.75,284.12 L334.83,284.36 L336.20,284.40 L336.97,284.36 L337.85,284.36 L338.81,284.30 L339.84,284.29 L340.89,284.11 L341.96,284.03 L343.00,283.93 L344.01,283.83 L344.94,283.72 L345.78,283.74 L346.50,283.78 L348.04,283.80 L349.14,283.85 L349.93,284.03 L350.50,284.20 L350.50,284.7 L219.00,284.7 Z" fill="#d27b8d" opacity="0" />
<path d="M219.00,284.49 L219.65,284.46 L220.54,284.46 L221.60,284.46 L222.75,284.45 L223.94,284.38 L225.08,284.29 L226.10,284.17 L227.19,284.11 L228.27,284.05 L229.31,283.83 L230.32,283.49 L231.29,283.17 L232.20,283.03 L232.93,282.27 L233.60,281.09 L234.24,280.66 L234.85,279.40 L235.45,278.70 L236.07,277.96 L236.70,277.18 L237.48,277.11 L238.29,276.30 L239.09,275.59 L239.88,275.59 L240.62,275.31 L241.30,273.66 L242.00,273.60 L242.62,272.59 L243.18,272.23 L243.73,270.93 L244.30,270.61 L244.73,269.79 L245.18,268.75 L245.62,267.42 L246.06,266.72 L246.49,265.49 L246.91,264.58 L247.30,264.70 L248.54,263.43 L249.60,264.63 L250.35,264.84 L251.10,264.00 L252.15,264.60 L253.40,263.60 L254.38,264.33 L255.44,264.76 L256.50,264.41 L257.26,265.73 L258.01,266.36 L258.75,267.54 L259.50,267.07 L260.50,268.33 L261.49,267.73 L262.50,268.25 L263.53,268.10 L264.57,269.15 L265.60,268.96 L266.58,270.38 L267.54,270.34 L268.60,270.98 L269.49,271.12 L270.45,270.47 L271.43,270.64 L272.40,271.21 L273.35,270.33 L274.30,270.46 L275.25,270.24 L276.20,270.47 L277.10,270.14 L277.96,270.44 L278.90,270.77 L280.00,270.65 L280.73,270.06 L281.53,270.65 L282.37,269.41 L283.25,269.15 L284.16,268.76 L285.08,269.38 L286.00,268.34 L286.73,267.69 L287.47,267.21 L288.23,267.49 L289.00,266.36 L289.78,265.78 L290.57,266.11 L291.35,264.75 L292.13,264.57 L292.90,264.10 L293.60,263.29 L294.30,262.79 L295.01,262.68 L295.73,261.08 L296.44,259.97 L297.14,258.94 L297.83,258.94 L298.51,258.19 L299.17,257.85 L299.80,256.99 L300.80,256.24 L301.76,255.50 L302.68,255.07 L303.56,254.99 L304.43,254.51 L305.30,254.65 L306.15,255.55 L306.97,255.17 L307.77,254.65 L308.57,256.66 L309.37,256.66 L310.20,256.78 L310.84,258.20 L311.50,258.47 L312.17,258.92 L312.84,259.70 L313.50,260.35 L314.16,261.66 L314.79,262.96 L315.40,263.15 L315.91,264.21 L316.38,265.57 L316.83,264.90 L317.27,266.29 L317.71,266.77 L318.17,267.20 L318.64,268.01 L319.15,269.31 L319.70,270.40 L320.15,270.68 L320.62,271.73 L321.12,272.86 L321.63,273.53 L322.16,274.67 L322.69,275.37 L323.23,276.25 L323.77,277.70 L324.30,277.97 L324.81,278.49 L325.32,279.41 L325.80,279.36 L326.72,280.55 L327.60,281.59 L328.46,282.10 L329.30,282.69 L330.14,282.82 L331.00,283.04 L331.96,283.78 L332.84,284.00 L333.75,284.12 L334.83,284.36 L336.20,284.40 L336.97,284.36 L337.85,284.36 L338.81,284.30 L339.84,284.29 L340.89,284.11 L341.96,284.03 L343.00,283.93 L344.01,283.83 L344.94,283.72 L345.78,283.74 L346.50,283.78 L348.04,283.80 L349.14,283.85 L349.93,284.03 L350.50,284.20 L350.50,284.7 L219.00,284.7 Z" fill="#d27b8d"/>
<g clip-path="url(#cb1)"><path d="M219.00,284.49 L219.65,284.46 L220.54,284.46 L221.60,284.46 L222.75,284.45 L223.94,284.38 L225.08,284.29 L226.10,284.17 L227.19,284.11 L228.27,284.05 L229.31,283.83 L230.32,283.49 L231.29,283.17 L232.20,283.03 L232.93,282.27 L233.60,281.09 L234.24,280.66 L234.85,279.40 L235.45,278.70 L236.07,277.96 L236.70,277.18 L237.48,277.11 L238.29,276.30 L239.09,275.59 L239.88,275.59 L240.62,275.31 L241.30,273.66 L242.00,273.60 L242.62,272.59 L243.18,272.23 L243.73,270.93 L244.30,270.61 L244.73,269.79 L245.18,268.75 L245.62,267.42 L246.06,266.72 L246.49,265.49 L246.91,264.58 L247.30,264.70 L248.54,263.43 L249.60,264.63 L250.35,264.84 L251.10,264.00 L252.15,264.60 L253.40,263.60 L254.38,264.33 L255.44,264.76 L256.50,264.41 L257.26,265.73 L258.01,266.36 L258.75,267.54 L259.50,267.07 L260.50,268.33 L261.49,267.73 L262.50,268.25 L263.53,268.10 L264.57,269.15 L265.60,268.96 L266.58,270.38 L267.54,270.34 L268.60,270.98 L269.49,271.12 L270.45,270.47 L271.43,270.64 L272.40,271.21 L273.35,270.33 L274.30,270.46 L275.25,270.24 L276.20,270.47 L277.10,270.14 L277.96,270.44 L278.90,270.77 L280.00,270.65 L280.73,270.06 L281.53,270.65 L282.37,269.41 L283.25,269.15 L284.16,268.76 L285.08,269.38 L286.00,268.34 L286.73,267.69 L287.47,267.21 L288.23,267.49 L289.00,266.36 L289.78,265.78 L290.57,266.11 L291.35,264.75 L292.13,264.57 L292.90,264.10 L293.60,263.29 L294.30,262.79 L295.01,262.68 L295.73,261.08 L296.44,259.97 L297.14,258.94 L297.83,258.94 L298.51,258.19 L299.17,257.85 L299.80,256.99 L300.80,256.24 L301.76,255.50 L302.68,255.07 L303.56,254.99 L304.43,254.51 L305.30,254.65 L306.15,255.55 L306.97,255.17 L307.77,254.65 L308.57,256.66 L309.37,256.66 L310.20,256.78 L310.84,258.20 L311.50,258.47 L312.17,258.92 L312.84,259.70 L313.50,260.35 L314.16,261.66 L314.79,262.96 L315.40,263.15 L315.91,264.21 L316.38,265.57 L316.83,264.90 L317.27,266.29 L317.71,266.77 L318.17,267.20 L318.64,268.01 L319.15,269.31 L319.70,270.40 L320.15,270.68 L320.62,271.73 L321.12,272.86 L321.63,273.53 L322.16,274.67 L322.69,275.37 L323.23,276.25 L323.77,277.70 L324.30,277.97 L324.81,278.49 L325.32,279.41 L325.80,279.36 L326.72,280.55 L327.60,281.59 L328.46,282.10 L329.30,282.69 L330.14,282.82 L331.00,283.04 L331.96,283.78 L332.84,284.00 L333.75,284.12 L334.83,284.36 L336.20,284.40 L336.97,284.36 L337.85,284.36 L338.81,284.30 L339.84,284.29 L340.89,284.11 L341.96,284.03 L343.00,283.93 L344.01,283.83 L344.94,283.72 L345.78,283.74 L346.50,283.78 L348.04,283.80 L349.14,283.85 L349.93,284.03 L350.50,284.20 L350.50,284.7 L219.00,284.7 Z" fill="#6a2552"/></g>
<path d="M219.00,284.49 L219.65,284.46 L220.54,284.46 L221.60,284.46 L222.75,284.45 L223.94,284.38 L225.08,284.29 L226.10,284.17 L227.19,284.11 L228.27,284.05 L229.31,283.83 L230.32,283.49 L231.29,283.17 L232.20,283.03 L232.93,282.27 L233.60,281.09 L234.24,280.66 L234.85,279.40 L235.45,278.70 L236.07,277.96 L236.70,277.18 L237.48,277.11 L238.29,276.30 L239.09,275.59 L239.88,275.59 L240.62,275.31 L241.30,273.66 L242.00,273.60 L242.62,272.59 L243.18,272.23 L243.73,270.93 L244.30,270.61 L244.73,269.79 L245.18,268.75 L245.62,267.42 L246.06,266.72 L246.49,265.49 L246.91,264.58 L247.30,264.70 L248.54,263.43 L249.60,264.63 L250.35,264.84 L251.10,264.00 L252.15,264.60 L253.40,263.60 L254.38,264.33 L255.44,264.76 L256.50,264.41 L257.26,265.73 L258.01,266.36 L258.75,267.54 L259.50,267.07 L260.50,268.33 L261.49,267.73 L262.50,268.25 L263.53,268.10 L264.57,269.15 L265.60,268.96 L266.58,270.38 L267.54,270.34 L268.60,270.98 L269.49,271.12 L270.45,270.47 L271.43,270.64 L272.40,271.21 L273.35,270.33 L274.30,270.46 L275.25,270.24 L276.20,270.47 L277.10,270.14 L277.96,270.44 L278.90,270.77 L280.00,270.65 L280.73,270.06 L281.53,270.65 L282.37,269.41 L283.25,269.15 L284.16,268.76 L285.08,269.38 L286.00,268.34 L286.73,267.69 L287.47,267.21 L288.23,267.49 L289.00,266.36 L289.78,265.78 L290.57,266.11 L291.35,264.75 L292.13,264.57 L292.90,264.10 L293.60,263.29 L294.30,262.79 L295.01,262.68 L295.73,261.08 L296.44,259.97 L297.14,258.94 L297.83,258.94 L298.51,258.19 L299.17,257.85 L299.80,256.99 L300.80,256.24 L301.76,255.50 L302.68,255.07 L303.56,254.99 L304.43,254.51 L305.30,254.65 L306.15,255.55 L306.97,255.17 L307.77,254.65 L308.57,256.66 L309.37,256.66 L310.20,256.78 L310.84,258.20 L311.50,258.47 L312.17,258.92 L312.84,259.70 L313.50,260.35 L314.16,261.66 L314.79,262.96 L315.40,263.15 L315.91,264.21 L316.38,265.57 L316.83,264.90 L317.27,266.29 L317.71,266.77 L318.17,267.20 L318.64,268.01 L319.15,269.31 L319.70,270.40 L320.15,270.68 L320.62,271.73 L321.12,272.86 L321.63,273.53 L322.16,274.67 L322.69,275.37 L323.23,276.25 L323.77,277.70 L324.30,277.97 L324.81,278.49 L325.32,279.41 L325.80,279.36 L326.72,280.55 L327.60,281.59 L328.46,282.10 L329.30,282.69 L330.14,282.82 L331.00,283.04 L331.96,283.78 L332.84,284.00 L333.75,284.12 L334.83,284.36 L336.20,284.40 L336.97,284.36 L337.85,284.36 L338.81,284.30 L339.84,284.29 L340.89,284.11 L341.96,284.03 L343.00,283.93 L344.01,283.83 L344.94,283.72 L345.78,283.74 L346.50,283.78 L348.04,283.80 L349.14,283.85 L349.93,284.03 L350.50,284.20" fill="none" stroke="#bb0a36" stroke-width="1.05" stroke-linejoin="round"/>
<line x1="218.20" y1="198.40" x2="218.20" y2="285.30" stroke="#000" stroke-width="1.2" />
<line x1="217.70" y1="284.70" x2="351.00" y2="284.70" stroke="#000" stroke-width="1.3" />
<line x1="215.20" y1="284.70" x2="218.20" y2="284.70" stroke="#000" stroke-width="0.9" />
<text x="211.00" y="287.20" font-size="7.13" text-anchor="end" fill="#222" textLength="3.67" lengthAdjust="spacingAndGlyphs">0</text>
<line x1="215.20" y1="272.81" x2="218.20" y2="272.81" stroke="#000" stroke-width="0.9" />
<text x="211.00" y="275.31" font-size="7.13" text-anchor="end" fill="#222" textLength="7.34" lengthAdjust="spacingAndGlyphs">50</text>
<line x1="215.20" y1="260.93" x2="218.20" y2="260.93" stroke="#000" stroke-width="0.9" />
<text x="211.00" y="263.43" font-size="7.13" text-anchor="end" fill="#222" textLength="11.01" lengthAdjust="spacingAndGlyphs">100</text>
<line x1="215.20" y1="249.04" x2="218.20" y2="249.04" stroke="#000" stroke-width="0.9" />
<text x="211.00" y="251.54" font-size="7.13" text-anchor="end" fill="#222" textLength="11.01" lengthAdjust="spacingAndGlyphs">150</text>
<line x1="215.20" y1="237.16" x2="218.20" y2="237.16" stroke="#000" stroke-width="0.9" />
<text x="211.00" y="239.66" font-size="7.13" text-anchor="end" fill="#222" textLength="11.01" lengthAdjust="spacingAndGlyphs">200</text>
<line x1="215.20" y1="225.27" x2="218.20" y2="225.27" stroke="#000" stroke-width="0.9" />
<text x="211.00" y="227.77" font-size="7.13" text-anchor="end" fill="#222" textLength="11.01" lengthAdjust="spacingAndGlyphs">250</text>
<line x1="215.20" y1="213.39" x2="218.20" y2="213.39" stroke="#000" stroke-width="0.9" />
<text x="211.00" y="215.89" font-size="7.13" text-anchor="end" fill="#222" textLength="11.01" lengthAdjust="spacingAndGlyphs">300</text>
<line x1="215.20" y1="201.50" x2="218.20" y2="201.50" stroke="#000" stroke-width="0.9" />
<text x="211.00" y="204.00" font-size="7.13" text-anchor="end" fill="#222" textLength="11.01" lengthAdjust="spacingAndGlyphs">350</text>
<line x1="216.60" y1="282.32" x2="218.20" y2="282.32" stroke="#000" stroke-width="0.6" />
<line x1="216.60" y1="279.95" x2="218.20" y2="279.95" stroke="#000" stroke-width="0.6" />
<line x1="216.60" y1="277.57" x2="218.20" y2="277.57" stroke="#000" stroke-width="0.6" />
<line x1="216.60" y1="275.19" x2="218.20" y2="275.19" stroke="#000" stroke-width="0.6" />
<line x1="216.60" y1="270.44" x2="218.20" y2="270.44" stroke="#000" stroke-width="0.6" />
<line x1="216.60" y1="268.06" x2="218.20" y2="268.06" stroke="#000" stroke-width="0.6" />
<line x1="216.60" y1="265.68" x2="218.20" y2="265.68" stroke="#000" stroke-width="0.6" />
<line x1="216.60" y1="263.31" x2="218.20" y2="263.31" stroke="#000" stroke-width="0.6" />
<line x1="216.60" y1="258.55" x2="218.20" y2="258.55" stroke="#000" stroke-width="0.6" />
<line x1="216.60" y1="256.17" x2="218.20" y2="256.17" stroke="#000" stroke-width="0.6" />
<line x1="216.60" y1="253.80" x2="218.20" y2="253.80" stroke="#000" stroke-width="0.6" />
<line x1="216.60" y1="251.42" x2="218.20" y2="251.42" stroke="#000" stroke-width="0.6" />
<line x1="216.60" y1="246.67" x2="218.20" y2="246.67" stroke="#000" stroke-width="0.6" />
<line x1="216.60" y1="244.29" x2="218.20" y2="244.29" stroke="#000" stroke-width="0.6" />
<line x1="216.60" y1="241.91" x2="218.20" y2="241.91" stroke="#000" stroke-width="0.6" />
<line x1="216.60" y1="239.53" x2="218.20" y2="239.53" stroke="#000" stroke-width="0.6" />
<line x1="216.60" y1="234.78" x2="218.20" y2="234.78" stroke="#000" stroke-width="0.6" />
<line x1="216.60" y1="232.40" x2="218.20" y2="232.40" stroke="#000" stroke-width="0.6" />
<line x1="216.60" y1="230.03" x2="218.20" y2="230.03" stroke="#000" stroke-width="0.6" />
<line x1="216.60" y1="227.65" x2="218.20" y2="227.65" stroke="#000" stroke-width="0.6" />
<line x1="216.60" y1="222.89" x2="218.20" y2="222.89" stroke="#000" stroke-width="0.6" />
<line x1="216.60" y1="220.52" x2="218.20" y2="220.52" stroke="#000" stroke-width="0.6" />
<line x1="216.60" y1="218.14" x2="218.20" y2="218.14" stroke="#000" stroke-width="0.6" />
<line x1="216.60" y1="215.76" x2="218.20" y2="215.76" stroke="#000" stroke-width="0.6" />
<line x1="216.60" y1="211.01" x2="218.20" y2="211.01" stroke="#000" stroke-width="0.6" />
<line x1="216.60" y1="208.63" x2="218.20" y2="208.63" stroke="#000" stroke-width="0.6" />
<line x1="216.60" y1="206.25" x2="218.20" y2="206.25" stroke="#000" stroke-width="0.6" />
<line x1="216.60" y1="203.88" x2="218.20" y2="203.88" stroke="#000" stroke-width="0.6" />
<line x1="241.40" y1="284.70" x2="241.40" y2="287.70" stroke="#000" stroke-width="0.9" />
<line x1="250.30" y1="284.70" x2="250.30" y2="287.70" stroke="#000" stroke-width="0.9" />
<line x1="259.00" y1="284.70" x2="259.00" y2="287.70" stroke="#000" stroke-width="0.9" />
<line x1="300.70" y1="284.70" x2="300.70" y2="287.70" stroke="#000" stroke-width="0.9" />
<line x1="345.70" y1="284.70" x2="345.70" y2="287.70" stroke="#000" stroke-width="0.9" />
<line x1="240.40" y1="284.70" x2="240.40" y2="286.00" stroke="#000" stroke-width="0.6" />
<line x1="241.50" y1="284.70" x2="241.50" y2="286.00" stroke="#000" stroke-width="0.6" />
<line x1="242.60" y1="284.70" x2="242.60" y2="286.00" stroke="#000" stroke-width="0.6" />
<line x1="243.70" y1="284.70" x2="243.70" y2="286.00" stroke="#000" stroke-width="0.6" />
<line x1="244.80" y1="284.70" x2="244.80" y2="286.00" stroke="#000" stroke-width="0.6" />
<line x1="245.90" y1="284.70" x2="245.90" y2="286.00" stroke="#000" stroke-width="0.6" />
<line x1="247.00" y1="284.70" x2="247.00" y2="286.00" stroke="#000" stroke-width="0.6" />
<line x1="248.10" y1="284.70" x2="248.10" y2="286.00" stroke="#000" stroke-width="0.6" />
<line x1="249.20" y1="284.70" x2="249.20" y2="286.00" stroke="#000" stroke-width="0.6" />
<line x1="250.30" y1="284.70" x2="250.30" y2="286.00" stroke="#000" stroke-width="0.6" />
<line x1="251.40" y1="284.70" x2="251.40" y2="286.00" stroke="#000" stroke-width="0.6" />
<line x1="252.50" y1="284.70" x2="252.50" y2="286.00" stroke="#000" stroke-width="0.6" />
<line x1="253.60" y1="284.70" x2="253.60" y2="286.00" stroke="#000" stroke-width="0.6" />
<line x1="254.70" y1="284.70" x2="254.70" y2="286.00" stroke="#000" stroke-width="0.6" />
<line x1="255.80" y1="284.70" x2="255.80" y2="286.00" stroke="#000" stroke-width="0.6" />
<line x1="256.90" y1="284.70" x2="256.90" y2="286.00" stroke="#000" stroke-width="0.6" />
<line x1="258.00" y1="284.70" x2="258.00" y2="286.00" stroke="#000" stroke-width="0.6" />
<line x1="259.10" y1="284.70" x2="259.10" y2="286.00" stroke="#000" stroke-width="0.6" />
<line x1="260.20" y1="284.70" x2="260.20" y2="286.00" stroke="#000" stroke-width="0.6" />
<line x1="271.55" y1="284.70" x2="271.55" y2="286.40" stroke="#000" stroke-width="0.6" />
<line x1="278.90" y1="284.70" x2="278.90" y2="286.40" stroke="#000" stroke-width="0.6" />
<line x1="284.11" y1="284.70" x2="284.11" y2="286.40" stroke="#000" stroke-width="0.6" />
<line x1="288.15" y1="284.70" x2="288.15" y2="286.40" stroke="#000" stroke-width="0.6" />
<line x1="291.45" y1="284.70" x2="291.45" y2="286.40" stroke="#000" stroke-width="0.6" />
<line x1="294.24" y1="284.70" x2="294.24" y2="286.40" stroke="#000" stroke-width="0.6" />
<line x1="296.66" y1="284.70" x2="296.66" y2="286.40" stroke="#000" stroke-width="0.6" />
<line x1="298.79" y1="284.70" x2="298.79" y2="286.40" stroke="#000" stroke-width="0.6" />
<line x1="314.25" y1="284.70" x2="314.25" y2="286.40" stroke="#000" stroke-width="0.6" />
<line x1="322.17" y1="284.70" x2="322.17" y2="286.40" stroke="#000" stroke-width="0.6" />
<line x1="327.79" y1="284.70" x2="327.79" y2="286.40" stroke="#000" stroke-width="0.6" />
<line x1="332.15" y1="284.70" x2="332.15" y2="286.40" stroke="#000" stroke-width="0.6" />
<line x1="335.72" y1="284.70" x2="335.72" y2="286.40" stroke="#000" stroke-width="0.6" />
<line x1="338.73" y1="284.70" x2="338.73" y2="286.40" stroke="#000" stroke-width="0.6" />
<line x1="341.34" y1="284.70" x2="341.34" y2="286.40" stroke="#000" stroke-width="0.6" />
<line x1="343.64" y1="284.70" x2="343.64" y2="286.40" stroke="#000" stroke-width="0.6" />
<line x1="238.26" y1="284.70" x2="238.26" y2="286.40" stroke="#000" stroke-width="0.6" />
<line x1="236.42" y1="284.70" x2="236.42" y2="286.40" stroke="#000" stroke-width="0.6" />
<line x1="235.11" y1="284.70" x2="235.11" y2="286.40" stroke="#000" stroke-width="0.6" />
<line x1="234.10" y1="284.70" x2="234.10" y2="286.40" stroke="#000" stroke-width="0.6" />
<text x="243.60" y="297.80" font-size="6.8" text-anchor="end" fill="#222">-10</text>
<text x="243.80" y="294.60" font-size="4.8" fill="#222">2</text>
<text x="250.20" y="297.80" font-size="6.8" text-anchor="middle" font-weight="normal" fill="#222">0</text>
<text x="261.30" y="297.80" font-size="6.8" text-anchor="end" fill="#222">10</text>
<text x="261.50" y="294.60" font-size="4.8" fill="#222">2</text>
<text x="302.30" y="297.80" font-size="6.8" text-anchor="end" fill="#222">10</text>
<text x="302.50" y="294.60" font-size="4.8" fill="#222">3</text>
<text x="347.30" y="297.80" font-size="6.8" text-anchor="end" fill="#222">10</text>
<text x="347.50" y="294.60" font-size="4.8" fill="#222">4</text>
<text x="287.30" y="281.00" font-size="6.9" text-anchor="middle" font-weight="normal" fill="#222">+CVX</text>
<defs><clipPath id="cb2"><path d="M383.50,284.70 C383.95,284.55 385.28,284.67 386.20,283.80 C387.12,282.93 388.17,281.08 389.00,279.50 C389.83,277.92 390.28,276.88 391.20,274.30 C392.12,271.72 393.38,269.22 394.50,264.00 C395.62,258.78 396.72,250.00 397.90,243.00 C399.08,236.00 400.45,227.18 401.60,222.00 C402.75,216.82 403.87,214.23 404.80,211.90 C405.73,209.57 406.37,208.00 407.20,208.00 C408.03,208.00 408.97,209.57 409.80,211.90 C410.63,214.23 411.33,216.82 412.20,222.00 C413.07,227.18 413.92,236.00 415.00,243.00 C416.08,250.00 417.62,258.78 418.70,264.00 C419.78,269.22 420.53,271.47 421.50,274.30 C422.47,277.13 423.42,279.27 424.50,281.00 C425.58,282.73 427.42,284.08 428.00,284.70 L428.00,284.7 L383.50,284.7 Z"/></clipPath></defs>
<path d="M383.50,284.70 C383.95,284.55 385.28,284.67 386.20,283.80 C387.12,282.93 388.17,281.08 389.00,279.50 C389.83,277.92 390.28,276.88 391.20,274.30 C392.12,271.72 393.38,269.22 394.50,264.00 C395.62,258.78 396.72,250.00 397.90,243.00 C399.08,236.00 400.45,227.18 401.60,222.00 C402.75,216.82 403.87,214.23 404.80,211.90 C405.73,209.57 406.37,208.00 407.20,208.00 C408.03,208.00 408.97,209.57 409.80,211.90 C410.63,214.23 411.33,216.82 412.20,222.00 C413.07,227.18 413.92,236.00 415.00,243.00 C416.08,250.00 417.62,258.78 418.70,264.00 C419.78,269.22 420.53,271.47 421.50,274.30 C422.47,277.13 423.42,279.27 424.50,281.00 C425.58,282.73 427.42,284.08 428.00,284.70 L428.00,284.7 L383.50,284.7 Z" fill="#2e4c80" stroke="#1f3b70" stroke-width="0.6"/>
<path d="M374.00,284.49 L374.56,284.53 L375.33,284.58 L376.38,284.62 L377.80,284.51 L378.51,284.41 L379.32,284.39 L380.22,284.34 L381.17,284.13 L382.17,284.09 L383.18,283.96 L384.19,283.86 L385.18,283.59 L386.12,283.31 L387.00,282.99 L387.82,282.90 L388.61,282.57 L389.37,281.53 L390.12,280.86 L390.86,281.37 L391.58,279.55 L392.30,279.03 L393.03,278.61 L393.76,278.12 L394.50,277.66 L395.14,276.75 L395.80,275.48 L396.49,275.36 L397.17,274.46 L397.86,274.39 L398.54,272.74 L399.21,271.36 L399.85,270.74 L400.46,271.17 L401.02,269.64 L401.54,268.39 L402.00,268.64 L403.25,268.09 L403.97,268.63 L404.80,267.54 L405.64,267.79 L406.54,267.18 L407.49,265.95 L408.50,266.02 L409.32,267.16 L410.14,267.66 L411.02,267.94 L411.99,268.41 L413.10,269.41 L413.92,269.19 L414.86,269.56 L415.88,269.57 L416.92,270.31 L417.95,270.62 L418.91,272.26 L419.78,271.27 L420.50,272.27 L421.50,273.10 L422.14,273.29 L422.63,274.61 L423.20,273.42 L423.83,274.12 L424.43,273.69 L425.11,271.40 L426.00,271.48 L426.71,272.49 L427.47,272.11 L428.30,272.03 L429.22,272.65 L430.25,272.77 L431.40,273.33 L432.18,273.09 L433.06,272.61 L434.00,272.25 L434.99,272.30 L436.00,272.66 L437.01,271.92 L438.00,271.71 L438.94,270.98 L439.82,270.06 L440.60,269.88 L441.36,269.93 L442.02,269.03 L442.61,267.86 L443.15,266.77 L443.67,266.76 L444.19,265.77 L444.74,265.01 L445.33,264.30 L446.00,263.93 L446.73,263.34 L447.51,263.09 L448.32,262.55 L449.16,262.23 L450.01,261.50 L450.87,260.52 L451.72,260.19 L452.57,259.98 L453.40,259.16 L454.22,259.04 L455.03,258.71 L455.84,257.21 L456.65,256.15 L457.46,256.92 L458.27,255.93 L459.08,255.93 L459.89,254.88 L460.70,256.38 L461.31,256.19 L461.93,256.20 L462.55,256.61 L463.17,257.43 L463.79,258.00 L464.41,258.71 L465.02,259.14 L465.63,261.05 L466.24,261.32 L466.84,262.22 L467.42,263.05 L468.00,262.74 L468.52,264.76 L469.03,265.12 L469.52,265.92 L470.01,266.87 L470.49,267.21 L470.96,268.85 L471.44,268.97 L471.91,269.69 L472.39,270.51 L472.88,271.76 L473.37,272.79 L473.88,272.93 L474.40,273.22 L475.02,275.20 L475.64,275.06 L476.25,276.89 L476.87,277.13 L477.51,277.62 L478.15,278.40 L478.81,279.58 L479.49,280.37 L480.20,280.61 L480.93,281.47 L481.70,282.17 L482.49,282.06 L483.28,282.22 L484.08,282.52 L484.90,282.69 L485.75,282.95 L486.62,283.07 L487.54,283.10 L488.50,283.38 L489.50,283.15 L490.57,283.38 L491.70,283.77 L492.50,283.75 L493.37,283.78 L494.32,283.84 L495.32,283.97 L496.35,283.95 L497.42,283.97 L498.50,283.94 L499.59,284.05 L500.66,284.05 L501.71,284.09 L502.72,284.12 L503.68,284.18 L504.58,284.20 L505.41,284.26 L506.14,284.21 L506.78,284.27 L507.30,284.36 L507.30,284.7 L374.00,284.7 Z" fill="#d27b8d" opacity="0" />
<path d="M374.00,284.49 L374.56,284.53 L375.33,284.58 L376.38,284.62 L377.80,284.51 L378.51,284.41 L379.32,284.39 L380.22,284.34 L381.17,284.13 L382.17,284.09 L383.18,283.96 L384.19,283.86 L385.18,283.59 L386.12,283.31 L387.00,282.99 L387.82,282.90 L388.61,282.57 L389.37,281.53 L390.12,280.86 L390.86,281.37 L391.58,279.55 L392.30,279.03 L393.03,278.61 L393.76,278.12 L394.50,277.66 L395.14,276.75 L395.80,275.48 L396.49,275.36 L397.17,274.46 L397.86,274.39 L398.54,272.74 L399.21,271.36 L399.85,270.74 L400.46,271.17 L401.02,269.64 L401.54,268.39 L402.00,268.64 L403.25,268.09 L403.97,268.63 L404.80,267.54 L405.64,267.79 L406.54,267.18 L407.49,265.95 L408.50,266.02 L409.32,267.16 L410.14,267.66 L411.02,267.94 L411.99,268.41 L413.10,269.41 L413.92,269.19 L414.86,269.56 L415.88,269.57 L416.92,270.31 L417.95,270.62 L418.91,272.26 L419.78,271.27 L420.50,272.27 L421.50,273.10 L422.14,273.29 L422.63,274.61 L423.20,273.42 L423.83,274.12 L424.43,273.69 L425.11,271.40 L426.00,271.48 L426.71,272.49 L427.47,272.11 L428.30,272.03 L429.22,272.65 L430.25,272.77 L431.40,273.33 L432.18,273.09 L433.06,272.61 L434.00,272.25 L434.99,272.30 L436.00,272.66 L437.01,271.92 L438.00,271.71 L438.94,270.98 L439.82,270.06 L440.60,269.88 L441.36,269.93 L442.02,269.03 L442.61,267.86 L443.15,266.77 L443.67,266.76 L444.19,265.77 L444.74,265.01 L445.33,264.30 L446.00,263.93 L446.73,263.34 L447.51,263.09 L448.32,262.55 L449.16,262.23 L450.01,261.50 L450.87,260.52 L451.72,260.19 L452.57,259.98 L453.40,259.16 L454.22,259.04 L455.03,258.71 L455.84,257.21 L456.65,256.15 L457.46,256.92 L458.27,255.93 L459.08,255.93 L459.89,254.88 L460.70,256.38 L461.31,256.19 L461.93,256.20 L462.55,256.61 L463.17,257.43 L463.79,258.00 L464.41,258.71 L465.02,259.14 L465.63,261.05 L466.24,261.32 L466.84,262.22 L467.42,263.05 L468.00,262.74 L468.52,264.76 L469.03,265.12 L469.52,265.92 L470.01,266.87 L470.49,267.21 L470.96,268.85 L471.44,268.97 L471.91,269.69 L472.39,270.51 L472.88,271.76 L473.37,272.79 L473.88,272.93 L474.40,273.22 L475.02,275.20 L475.64,275.06 L476.25,276.89 L476.87,277.13 L477.51,277.62 L478.15,278.40 L478.81,279.58 L479.49,280.37 L480.20,280.61 L480.93,281.47 L481.70,282.17 L482.49,282.06 L483.28,282.22 L484.08,282.52 L484.90,282.69 L485.75,282.95 L486.62,283.07 L487.54,283.10 L488.50,283.38 L489.50,283.15 L490.57,283.38 L491.70,283.77 L492.50,283.75 L493.37,283.78 L494.32,283.84 L495.32,283.97 L496.35,283.95 L497.42,283.97 L498.50,283.94 L499.59,284.05 L500.66,284.05 L501.71,284.09 L502.72,284.12 L503.68,284.18 L504.58,284.20 L505.41,284.26 L506.14,284.21 L506.78,284.27 L507.30,284.36 L507.30,284.7 L374.00,284.7 Z" fill="#d27b8d"/>
<g clip-path="url(#cb2)"><path d="M374.00,284.49 L374.56,284.53 L375.33,284.58 L376.38,284.62 L377.80,284.51 L378.51,284.41 L379.32,284.39 L380.22,284.34 L381.17,284.13 L382.17,284.09 L383.18,283.96 L384.19,283.86 L385.18,283.59 L386.12,283.31 L387.00,282.99 L387.82,282.90 L388.61,282.57 L389.37,281.53 L390.12,280.86 L390.86,281.37 L391.58,279.55 L392.30,279.03 L393.03,278.61 L393.76,278.12 L394.50,277.66 L395.14,276.75 L395.80,275.48 L396.49,275.36 L397.17,274.46 L397.86,274.39 L398.54,272.74 L399.21,271.36 L399.85,270.74 L400.46,271.17 L401.02,269.64 L401.54,268.39 L402.00,268.64 L403.25,268.09 L403.97,268.63 L404.80,267.54 L405.64,267.79 L406.54,267.18 L407.49,265.95 L408.50,266.02 L409.32,267.16 L410.14,267.66 L411.02,267.94 L411.99,268.41 L413.10,269.41 L413.92,269.19 L414.86,269.56 L415.88,269.57 L416.92,270.31 L417.95,270.62 L418.91,272.26 L419.78,271.27 L420.50,272.27 L421.50,273.10 L422.14,273.29 L422.63,274.61 L423.20,273.42 L423.83,274.12 L424.43,273.69 L425.11,271.40 L426.00,271.48 L426.71,272.49 L427.47,272.11 L428.30,272.03 L429.22,272.65 L430.25,272.77 L431.40,273.33 L432.18,273.09 L433.06,272.61 L434.00,272.25 L434.99,272.30 L436.00,272.66 L437.01,271.92 L438.00,271.71 L438.94,270.98 L439.82,270.06 L440.60,269.88 L441.36,269.93 L442.02,269.03 L442.61,267.86 L443.15,266.77 L443.67,266.76 L444.19,265.77 L444.74,265.01 L445.33,264.30 L446.00,263.93 L446.73,263.34 L447.51,263.09 L448.32,262.55 L449.16,262.23 L450.01,261.50 L450.87,260.52 L451.72,260.19 L452.57,259.98 L453.40,259.16 L454.22,259.04 L455.03,258.71 L455.84,257.21 L456.65,256.15 L457.46,256.92 L458.27,255.93 L459.08,255.93 L459.89,254.88 L460.70,256.38 L461.31,256.19 L461.93,256.20 L462.55,256.61 L463.17,257.43 L463.79,258.00 L464.41,258.71 L465.02,259.14 L465.63,261.05 L466.24,261.32 L466.84,262.22 L467.42,263.05 L468.00,262.74 L468.52,264.76 L469.03,265.12 L469.52,265.92 L470.01,266.87 L470.49,267.21 L470.96,268.85 L471.44,268.97 L471.91,269.69 L472.39,270.51 L472.88,271.76 L473.37,272.79 L473.88,272.93 L474.40,273.22 L475.02,275.20 L475.64,275.06 L476.25,276.89 L476.87,277.13 L477.51,277.62 L478.15,278.40 L478.81,279.58 L479.49,280.37 L480.20,280.61 L480.93,281.47 L481.70,282.17 L482.49,282.06 L483.28,282.22 L484.08,282.52 L484.90,282.69 L485.75,282.95 L486.62,283.07 L487.54,283.10 L488.50,283.38 L489.50,283.15 L490.57,283.38 L491.70,283.77 L492.50,283.75 L493.37,283.78 L494.32,283.84 L495.32,283.97 L496.35,283.95 L497.42,283.97 L498.50,283.94 L499.59,284.05 L500.66,284.05 L501.71,284.09 L502.72,284.12 L503.68,284.18 L504.58,284.20 L505.41,284.26 L506.14,284.21 L506.78,284.27 L507.30,284.36 L507.30,284.7 L374.00,284.7 Z" fill="#6a2552"/></g>
<path d="M374.00,284.49 L374.56,284.53 L375.33,284.58 L376.38,284.62 L377.80,284.51 L378.51,284.41 L379.32,284.39 L380.22,284.34 L381.17,284.13 L382.17,284.09 L383.18,283.96 L384.19,283.86 L385.18,283.59 L386.12,283.31 L387.00,282.99 L387.82,282.90 L388.61,282.57 L389.37,281.53 L390.12,280.86 L390.86,281.37 L391.58,279.55 L392.30,279.03 L393.03,278.61 L393.76,278.12 L394.50,277.66 L395.14,276.75 L395.80,275.48 L396.49,275.36 L397.17,274.46 L397.86,274.39 L398.54,272.74 L399.21,271.36 L399.85,270.74 L400.46,271.17 L401.02,269.64 L401.54,268.39 L402.00,268.64 L403.25,268.09 L403.97,268.63 L404.80,267.54 L405.64,267.79 L406.54,267.18 L407.49,265.95 L408.50,266.02 L409.32,267.16 L410.14,267.66 L411.02,267.94 L411.99,268.41 L413.10,269.41 L413.92,269.19 L414.86,269.56 L415.88,269.57 L416.92,270.31 L417.95,270.62 L418.91,272.26 L419.78,271.27 L420.50,272.27 L421.50,273.10 L422.14,273.29 L422.63,274.61 L423.20,273.42 L423.83,274.12 L424.43,273.69 L425.11,271.40 L426.00,271.48 L426.71,272.49 L427.47,272.11 L428.30,272.03 L429.22,272.65 L430.25,272.77 L431.40,273.33 L432.18,273.09 L433.06,272.61 L434.00,272.25 L434.99,272.30 L436.00,272.66 L437.01,271.92 L438.00,271.71 L438.94,270.98 L439.82,270.06 L440.60,269.88 L441.36,269.93 L442.02,269.03 L442.61,267.86 L443.15,266.77 L443.67,266.76 L444.19,265.77 L444.74,265.01 L445.33,264.30 L446.00,263.93 L446.73,263.34 L447.51,263.09 L448.32,262.55 L449.16,262.23 L450.01,261.50 L450.87,260.52 L451.72,260.19 L452.57,259.98 L453.40,259.16 L454.22,259.04 L455.03,258.71 L455.84,257.21 L456.65,256.15 L457.46,256.92 L458.27,255.93 L459.08,255.93 L459.89,254.88 L460.70,256.38 L461.31,256.19 L461.93,256.20 L462.55,256.61 L463.17,257.43 L463.79,258.00 L464.41,258.71 L465.02,259.14 L465.63,261.05 L466.24,261.32 L466.84,262.22 L467.42,263.05 L468.00,262.74 L468.52,264.76 L469.03,265.12 L469.52,265.92 L470.01,266.87 L470.49,267.21 L470.96,268.85 L471.44,268.97 L471.91,269.69 L472.39,270.51 L472.88,271.76 L473.37,272.79 L473.88,272.93 L474.40,273.22 L475.02,275.20 L475.64,275.06 L476.25,276.89 L476.87,277.13 L477.51,277.62 L478.15,278.40 L478.81,279.58 L479.49,280.37 L480.20,280.61 L480.93,281.47 L481.70,282.17 L482.49,282.06 L483.28,282.22 L484.08,282.52 L484.90,282.69 L485.75,282.95 L486.62,283.07 L487.54,283.10 L488.50,283.38 L489.50,283.15 L490.57,283.38 L491.70,283.77 L492.50,283.75 L493.37,283.78 L494.32,283.84 L495.32,283.97 L496.35,283.95 L497.42,283.97 L498.50,283.94 L499.59,284.05 L500.66,284.05 L501.71,284.09 L502.72,284.12 L503.68,284.18 L504.58,284.20 L505.41,284.26 L506.14,284.21 L506.78,284.27 L507.30,284.36" fill="none" stroke="#bb0a36" stroke-width="1.05" stroke-linejoin="round"/>
<line x1="373.20" y1="198.40" x2="373.20" y2="285.30" stroke="#000" stroke-width="1.2" />
<line x1="372.70" y1="284.70" x2="508.50" y2="284.70" stroke="#000" stroke-width="1.3" />
<line x1="370.20" y1="284.70" x2="373.20" y2="284.70" stroke="#000" stroke-width="0.9" />
<text x="366.00" y="287.20" font-size="7.13" text-anchor="end" fill="#222" textLength="3.67" lengthAdjust="spacingAndGlyphs">0</text>
<line x1="370.20" y1="274.30" x2="373.20" y2="274.30" stroke="#000" stroke-width="0.9" />
<text x="366.00" y="276.80" font-size="7.13" text-anchor="end" fill="#222" textLength="7.34" lengthAdjust="spacingAndGlyphs">50</text>
<line x1="370.20" y1="263.90" x2="373.20" y2="263.90" stroke="#000" stroke-width="0.9" />
<text x="366.00" y="266.40" font-size="7.13" text-anchor="end" fill="#222" textLength="11.01" lengthAdjust="spacingAndGlyphs">100</text>
<line x1="370.20" y1="253.50" x2="373.20" y2="253.50" stroke="#000" stroke-width="0.9" />
<text x="366.00" y="256.00" font-size="7.13" text-anchor="end" fill="#222" textLength="11.01" lengthAdjust="spacingAndGlyphs">150</text>
<line x1="370.20" y1="243.10" x2="373.20" y2="243.10" stroke="#000" stroke-width="0.9" />
<text x="366.00" y="245.60" font-size="7.13" text-anchor="end" fill="#222" textLength="11.01" lengthAdjust="spacingAndGlyphs">200</text>
<line x1="370.20" y1="232.70" x2="373.20" y2="232.70" stroke="#000" stroke-width="0.9" />
<text x="366.00" y="235.20" font-size="7.13" text-anchor="end" fill="#222" textLength="11.01" lengthAdjust="spacingAndGlyphs">250</text>
<line x1="370.20" y1="222.30" x2="373.20" y2="222.30" stroke="#000" stroke-width="0.9" />
<text x="366.00" y="224.80" font-size="7.13" text-anchor="end" fill="#222" textLength="11.01" lengthAdjust="spacingAndGlyphs">300</text>
<line x1="370.20" y1="211.90" x2="373.20" y2="211.90" stroke="#000" stroke-width="0.9" />
<text x="366.00" y="214.40" font-size="7.13" text-anchor="end" fill="#222" textLength="11.01" lengthAdjust="spacingAndGlyphs">350</text>
<line x1="370.20" y1="201.50" x2="373.20" y2="201.50" stroke="#000" stroke-width="0.9" />
<text x="366.00" y="204.00" font-size="7.13" text-anchor="end" fill="#222" textLength="11.01" lengthAdjust="spacingAndGlyphs">400</text>
<line x1="371.60" y1="282.62" x2="373.20" y2="282.62" stroke="#000" stroke-width="0.6" />
<line x1="371.60" y1="280.54" x2="373.20" y2="280.54" stroke="#000" stroke-width="0.6" />
<line x1="371.60" y1="278.46" x2="373.20" y2="278.46" stroke="#000" stroke-width="0.6" />
<line x1="371.60" y1="276.38" x2="373.20" y2="276.38" stroke="#000" stroke-width="0.6" />
<line x1="371.60" y1="272.22" x2="373.20" y2="272.22" stroke="#000" stroke-width="0.6" />
<line x1="371.60" y1="270.14" x2="373.20" y2="270.14" stroke="#000" stroke-width="0.6" />
<line x1="371.60" y1="268.06" x2="373.20" y2="268.06" stroke="#000" stroke-width="0.6" />
<line x1="371.60" y1="265.98" x2="373.20" y2="265.98" stroke="#000" stroke-width="0.6" />
<line x1="371.60" y1="261.82" x2="373.20" y2="261.82" stroke="#000" stroke-width="0.6" />
<line x1="371.60" y1="259.74" x2="373.20" y2="259.74" stroke="#000" stroke-width="0.6" />
<line x1="371.60" y1="257.66" x2="373.20" y2="257.66" stroke="#000" stroke-width="0.6" />
<line x1="371.60" y1="255.58" x2="373.20" y2="255.58" stroke="#000" stroke-width="0.6" />
<line x1="371.60" y1="251.42" x2="373.20" y2="251.42" stroke="#000" stroke-width="0.6" />
<line x1="371.60" y1="249.34" x2="373.20" y2="249.34" stroke="#000" stroke-width="0.6" />
<line x1="371.60" y1="247.26" x2="373.20" y2="247.26" stroke="#000" stroke-width="0.6" />
<line x1="371.60" y1="245.18" x2="373.20" y2="245.18" stroke="#000" stroke-width="0.6" />
<line x1="371.60" y1="241.02" x2="373.20" y2="241.02" stroke="#000" stroke-width="0.6" />
<line x1="371.60" y1="238.94" x2="373.20" y2="238.94" stroke="#000" stroke-width="0.6" />
<line x1="371.60" y1="236.86" x2="373.20" y2="236.86" stroke="#000" stroke-width="0.6" />
<line x1="371.60" y1="234.78" x2="373.20" y2="234.78" stroke="#000" stroke-width="0.6" />
<line x1="371.60" y1="230.62" x2="373.20" y2="230.62" stroke="#000" stroke-width="0.6" />
<line x1="371.60" y1="228.54" x2="373.20" y2="228.54" stroke="#000" stroke-width="0.6" />
<line x1="371.60" y1="226.46" x2="373.20" y2="226.46" stroke="#000" stroke-width="0.6" />
<line x1="371.60" y1="224.38" x2="373.20" y2="224.38" stroke="#000" stroke-width="0.6" />
<line x1="371.60" y1="220.22" x2="373.20" y2="220.22" stroke="#000" stroke-width="0.6" />
<line x1="371.60" y1="218.14" x2="373.20" y2="218.14" stroke="#000" stroke-width="0.6" />
<line x1="371.60" y1="216.06" x2="373.20" y2="216.06" stroke="#000" stroke-width="0.6" />
<line x1="371.60" y1="213.98" x2="373.20" y2="213.98" stroke="#000" stroke-width="0.6" />
<line x1="371.60" y1="209.82" x2="373.20" y2="209.82" stroke="#000" stroke-width="0.6" />
<line x1="371.60" y1="207.74" x2="373.20" y2="207.74" stroke="#000" stroke-width="0.6" />
<line x1="371.60" y1="205.66" x2="373.20" y2="205.66" stroke="#000" stroke-width="0.6" />
<line x1="371.60" y1="203.58" x2="373.20" y2="203.58" stroke="#000" stroke-width="0.6" />
<line x1="399.30" y1="284.70" x2="399.30" y2="287.70" stroke="#000" stroke-width="0.9" />
<line x1="407.30" y1="284.70" x2="407.30" y2="287.70" stroke="#000" stroke-width="0.9" />
<line x1="414.80" y1="284.70" x2="414.80" y2="287.70" stroke="#000" stroke-width="0.9" />
<line x1="456.00" y1="284.70" x2="456.00" y2="287.70" stroke="#000" stroke-width="0.9" />
<line x1="500.90" y1="284.70" x2="500.90" y2="287.70" stroke="#000" stroke-width="0.9" />
<line x1="398.30" y1="284.70" x2="398.30" y2="286.00" stroke="#000" stroke-width="0.6" />
<line x1="399.40" y1="284.70" x2="399.40" y2="286.00" stroke="#000" stroke-width="0.6" />
<line x1="400.50" y1="284.70" x2="400.50" y2="286.00" stroke="#000" stroke-width="0.6" />
<line x1="401.60" y1="284.70" x2="401.60" y2="286.00" stroke="#000" stroke-width="0.6" />
<line x1="402.70" y1="284.70" x2="402.70" y2="286.00" stroke="#000" stroke-width="0.6" />
<line x1="403.80" y1="284.70" x2="403.80" y2="286.00" stroke="#000" stroke-width="0.6" />
<line x1="404.90" y1="284.70" x2="404.90" y2="286.00" stroke="#000" stroke-width="0.6" />
<line x1="406.00" y1="284.70" x2="406.00" y2="286.00" stroke="#000" stroke-width="0.6" />
<line x1="407.10" y1="284.70" x2="407.10" y2="286.00" stroke="#000" stroke-width="0.6" />
<line x1="408.20" y1="284.70" x2="408.20" y2="286.00" stroke="#000" stroke-width="0.6" />
<line x1="409.30" y1="284.70" x2="409.30" y2="286.00" stroke="#000" stroke-width="0.6" />
<line x1="410.40" y1="284.70" x2="410.40" y2="286.00" stroke="#000" stroke-width="0.6" />
<line x1="411.50" y1="284.70" x2="411.50" y2="286.00" stroke="#000" stroke-width="0.6" />
<line x1="412.60" y1="284.70" x2="412.60" y2="286.00" stroke="#000" stroke-width="0.6" />
<line x1="413.70" y1="284.70" x2="413.70" y2="286.00" stroke="#000" stroke-width="0.6" />
<line x1="414.80" y1="284.70" x2="414.80" y2="286.00" stroke="#000" stroke-width="0.6" />
<line x1="415.90" y1="284.70" x2="415.90" y2="286.00" stroke="#000" stroke-width="0.6" />
<line x1="427.20" y1="284.70" x2="427.20" y2="286.40" stroke="#000" stroke-width="0.6" />
<line x1="434.46" y1="284.70" x2="434.46" y2="286.40" stroke="#000" stroke-width="0.6" />
<line x1="439.60" y1="284.70" x2="439.60" y2="286.40" stroke="#000" stroke-width="0.6" />
<line x1="443.60" y1="284.70" x2="443.60" y2="286.40" stroke="#000" stroke-width="0.6" />
<line x1="446.86" y1="284.70" x2="446.86" y2="286.40" stroke="#000" stroke-width="0.6" />
<line x1="449.62" y1="284.70" x2="449.62" y2="286.40" stroke="#000" stroke-width="0.6" />
<line x1="452.01" y1="284.70" x2="452.01" y2="286.40" stroke="#000" stroke-width="0.6" />
<line x1="454.11" y1="284.70" x2="454.11" y2="286.40" stroke="#000" stroke-width="0.6" />
<line x1="469.52" y1="284.70" x2="469.52" y2="286.40" stroke="#000" stroke-width="0.6" />
<line x1="477.42" y1="284.70" x2="477.42" y2="286.40" stroke="#000" stroke-width="0.6" />
<line x1="483.03" y1="284.70" x2="483.03" y2="286.40" stroke="#000" stroke-width="0.6" />
<line x1="487.38" y1="284.70" x2="487.38" y2="286.40" stroke="#000" stroke-width="0.6" />
<line x1="490.94" y1="284.70" x2="490.94" y2="286.40" stroke="#000" stroke-width="0.6" />
<line x1="493.94" y1="284.70" x2="493.94" y2="286.40" stroke="#000" stroke-width="0.6" />
<line x1="496.55" y1="284.70" x2="496.55" y2="286.40" stroke="#000" stroke-width="0.6" />
<line x1="498.85" y1="284.70" x2="498.85" y2="286.40" stroke="#000" stroke-width="0.6" />
<line x1="396.59" y1="284.70" x2="396.59" y2="286.40" stroke="#000" stroke-width="0.6" />
<line x1="395.01" y1="284.70" x2="395.01" y2="286.40" stroke="#000" stroke-width="0.6" />
<line x1="393.88" y1="284.70" x2="393.88" y2="286.40" stroke="#000" stroke-width="0.6" />
<line x1="393.01" y1="284.70" x2="393.01" y2="286.40" stroke="#000" stroke-width="0.6" />
<text x="401.20" y="297.80" font-size="6.8" text-anchor="end" fill="#222">-10</text>
<text x="401.40" y="294.60" font-size="4.8" fill="#222">2</text>
<text x="407.50" y="297.80" font-size="6.8" text-anchor="middle" font-weight="normal" fill="#222">0</text>
<text x="419.70" y="297.80" font-size="6.8" text-anchor="end" fill="#222">10</text>
<text x="419.90" y="294.60" font-size="4.8" fill="#222">2</text>
<text x="457.60" y="297.80" font-size="6.8" text-anchor="end" fill="#222">10</text>
<text x="457.80" y="294.60" font-size="4.8" fill="#222">3</text>
<text x="502.50" y="297.80" font-size="6.8" text-anchor="end" fill="#222">10</text>
<text x="502.70" y="294.60" font-size="4.8" fill="#222">4</text>
<text x="443.40" y="281.00" font-size="6.9" text-anchor="middle" font-weight="normal" fill="#222">+CVX</text>
<defs><clipPath id="cb3"><path d="M223.50,390.10 C223.92,389.97 225.08,390.15 226.00,389.30 C226.92,388.45 228.02,386.85 229.00,385.00 C229.98,383.15 230.77,381.32 231.90,378.20 C233.03,375.08 234.35,372.25 235.80,366.30 C237.25,360.35 239.37,348.45 240.60,342.50 C241.83,336.55 242.00,334.57 243.20,330.60 C244.40,326.63 246.38,321.57 247.80,318.70 C249.22,315.83 250.63,313.40 251.70,313.40 C252.77,313.40 253.30,315.83 254.20,318.70 C255.10,321.57 256.28,326.63 257.10,330.60 C257.92,334.57 258.28,338.53 259.10,342.50 C259.92,346.47 261.10,350.43 262.00,354.40 C262.90,358.37 263.75,363.03 264.50,366.30 C265.25,369.57 265.63,371.30 266.50,374.00 C267.37,376.70 268.70,380.25 269.70,382.50 C270.70,384.75 271.45,386.23 272.50,387.50 C273.55,388.77 275.42,389.67 276.00,390.10 L276.00,390.1 L223.50,390.1 Z"/></clipPath></defs>
<path d="M223.50,390.10 C223.92,389.97 225.08,390.15 226.00,389.30 C226.92,388.45 228.02,386.85 229.00,385.00 C229.98,383.15 230.77,381.32 231.90,378.20 C233.03,375.08 234.35,372.25 235.80,366.30 C237.25,360.35 239.37,348.45 240.60,342.50 C241.83,336.55 242.00,334.57 243.20,330.60 C244.40,326.63 246.38,321.57 247.80,318.70 C249.22,315.83 250.63,313.40 251.70,313.40 C252.77,313.40 253.30,315.83 254.20,318.70 C255.10,321.57 256.28,326.63 257.10,330.60 C257.92,334.57 258.28,338.53 259.10,342.50 C259.92,346.47 261.10,350.43 262.00,354.40 C262.90,358.37 263.75,363.03 264.50,366.30 C265.25,369.57 265.63,371.30 266.50,374.00 C267.37,376.70 268.70,380.25 269.70,382.50 C270.70,384.75 271.45,386.23 272.50,387.50 C273.55,388.77 275.42,389.67 276.00,390.10 L276.00,390.1 L223.50,390.1 Z" fill="#2e4c80" stroke="#1f3b70" stroke-width="0.6"/>
<path d="M219.00,390.00 L219.51,390.00 L220.10,389.99 L220.78,389.98 L221.54,389.96 L222.37,389.93 L223.26,389.93 L224.20,389.91 L225.18,389.87 L226.21,389.87 L227.26,389.84 L228.33,389.82 L229.42,389.83 L230.51,389.81 L231.60,389.77 L232.68,389.75 L233.74,389.74 L234.78,389.72 L235.78,389.70 L236.74,389.68 L237.65,389.65 L238.50,389.66 L239.29,389.64 L240.00,389.61 L241.31,389.52 L242.46,389.46 L243.47,389.45 L244.36,389.34 L245.18,389.28 L245.94,389.05 L246.68,388.96 L247.43,389.12 L248.21,389.08 L249.06,389.13 L250.00,389.06 L250.86,389.02 L251.76,389.02 L252.68,388.93 L253.62,389.14 L254.57,389.07 L255.54,389.20 L256.50,389.22 L257.46,389.28 L258.41,389.36 L259.35,389.31 L260.26,389.35 L261.15,389.35 L262.00,389.38 L263.08,389.48 L264.15,389.36 L265.20,389.43 L266.23,389.38 L267.24,389.34 L268.21,389.30 L269.15,389.13 L270.05,389.16 L270.90,389.19 L271.70,388.94 L272.89,388.86 L273.92,388.63 L274.84,388.56 L275.71,388.18 L276.58,388.35 L277.50,387.84 L278.47,387.42 L279.43,387.87 L280.39,387.53 L281.36,387.21 L282.33,386.93 L283.30,386.30 L284.13,385.94 L284.95,385.85 L285.77,385.49 L286.60,385.02 L287.45,384.14 L288.31,383.13 L289.20,382.41 L289.74,382.46 L290.30,382.05 L290.88,380.67 L291.47,380.00 L292.07,380.13 L292.67,379.21 L293.26,378.47 L293.85,376.79 L294.42,376.39 L294.97,375.44 L295.50,374.81 L296.00,372.94 L296.30,373.59 L296.59,372.45 L296.87,371.77 L297.14,370.28 L297.40,370.02 L297.66,369.83 L297.91,367.69 L298.16,367.69 L298.40,366.99 L298.64,365.48 L298.87,365.25 L299.11,363.82 L299.35,363.59 L299.58,362.33 L299.82,361.23 L300.06,361.06 L300.30,359.56 L300.55,358.78 L300.80,356.66 L301.00,356.10 L301.21,355.92 L301.42,355.08 L301.63,353.74 L301.85,353.19 L302.06,351.42 L302.28,351.03 L302.50,349.44 L302.72,349.13 L302.94,347.77 L303.15,346.71 L303.37,346.04 L303.58,345.85 L303.80,343.61 L304.00,342.84 L304.21,342.65 L304.41,341.07 L304.61,341.17 L304.81,339.61 L305.00,338.73 L305.18,338.06 L305.36,337.94 L305.53,336.75 L305.70,336.03 L306.07,334.50 L306.41,332.45 L306.72,331.68 L307.00,331.79 L307.27,330.66 L307.54,329.78 L307.79,329.17 L308.05,328.02 L308.32,327.83 L308.60,326.69 L309.35,326.17 L310.11,325.03 L310.84,324.76 L311.50,324.40 L312.07,322.93 L312.56,322.02 L313.03,320.85 L313.50,320.46 L313.82,321.27 L314.14,320.79 L314.46,321.77 L314.77,323.91 L315.08,325.18 L315.40,326.61 L315.78,326.98 L316.16,327.89 L316.53,327.96 L316.91,329.52 L317.30,330.30 L317.77,330.35 L318.24,331.09 L318.73,332.34 L319.30,334.03 L319.49,333.20 L319.70,335.25 L319.91,336.07 L320.13,336.69 L320.35,337.74 L320.58,338.71 L320.81,338.98 L321.04,340.58 L321.28,341.27 L321.51,341.97 L321.74,343.51 L321.97,345.13 L322.20,344.84 L322.37,345.57 L322.54,346.43 L322.71,348.94 L322.88,348.85 L323.05,349.86 L323.22,350.48 L323.39,351.36 L323.56,351.84 L323.74,353.80 L323.91,354.81 L324.08,354.77 L324.25,356.14 L324.42,357.22 L324.59,358.46 L324.76,359.49 L324.93,360.76 L325.10,361.71 L325.30,362.58 L325.50,363.68 L325.69,363.51 L325.87,364.72 L326.05,366.41 L326.24,366.94 L326.43,367.71 L326.62,367.70 L326.82,368.63 L327.03,370.65 L327.25,371.33 L327.48,371.89 L327.73,372.68 L328.00,372.92 L328.31,374.77 L328.64,375.97 L328.99,377.16 L329.36,377.34 L329.74,378.13 L330.13,378.61 L330.52,380.51 L330.92,381.56 L331.33,381.32 L331.73,382.50 L332.13,383.13 L332.52,383.51 L332.90,383.33 L333.53,385.32 L334.07,386.52 L334.59,386.82 L335.15,387.67 L335.83,387.97 L336.69,389.00 L337.80,389.33 L338.50,389.47 L339.32,389.60 L340.23,389.69 L341.23,389.78 L342.28,389.82 L343.36,389.84 L344.46,389.86 L345.54,389.85 L346.58,389.87 L347.57,389.79 L348.48,389.81 L349.28,389.78 L349.97,389.76 L350.50,389.75 L350.50,390.1 L219.00,390.1 Z" fill="#d27b8d" opacity="0" />
<path d="M219.00,390.00 L219.51,390.00 L220.10,389.99 L220.78,389.98 L221.54,389.96 L222.37,389.93 L223.26,389.93 L224.20,389.91 L225.18,389.87 L226.21,389.87 L227.26,389.84 L228.33,389.82 L229.42,389.83 L230.51,389.81 L231.60,389.77 L232.68,389.75 L233.74,389.74 L234.78,389.72 L235.78,389.70 L236.74,389.68 L237.65,389.65 L238.50,389.66 L239.29,389.64 L240.00,389.61 L241.31,389.52 L242.46,389.46 L243.47,389.45 L244.36,389.34 L245.18,389.28 L245.94,389.05 L246.68,388.96 L247.43,389.12 L248.21,389.08 L249.06,389.13 L250.00,389.06 L250.86,389.02 L251.76,389.02 L252.68,388.93 L253.62,389.14 L254.57,389.07 L255.54,389.20 L256.50,389.22 L257.46,389.28 L258.41,389.36 L259.35,389.31 L260.26,389.35 L261.15,389.35 L262.00,389.38 L263.08,389.48 L264.15,389.36 L265.20,389.43 L266.23,389.38 L267.24,389.34 L268.21,389.30 L269.15,389.13 L270.05,389.16 L270.90,389.19 L271.70,388.94 L272.89,388.86 L273.92,388.63 L274.84,388.56 L275.71,388.18 L276.58,388.35 L277.50,387.84 L278.47,387.42 L279.43,387.87 L280.39,387.53 L281.36,387.21 L282.33,386.93 L283.30,386.30 L284.13,385.94 L284.95,385.85 L285.77,385.49 L286.60,385.02 L287.45,384.14 L288.31,383.13 L289.20,382.41 L289.74,382.46 L290.30,382.05 L290.88,380.67 L291.47,380.00 L292.07,380.13 L292.67,379.21 L293.26,378.47 L293.85,376.79 L294.42,376.39 L294.97,375.44 L295.50,374.81 L296.00,372.94 L296.30,373.59 L296.59,372.45 L296.87,371.77 L297.14,370.28 L297.40,370.02 L297.66,369.83 L297.91,367.69 L298.16,367.69 L298.40,366.99 L298.64,365.48 L298.87,365.25 L299.11,363.82 L299.35,363.59 L299.58,362.33 L299.82,361.23 L300.06,361.06 L300.30,359.56 L300.55,358.78 L300.80,356.66 L301.00,356.10 L301.21,355.92 L301.42,355.08 L301.63,353.74 L301.85,353.19 L302.06,351.42 L302.28,351.03 L302.50,349.44 L302.72,349.13 L302.94,347.77 L303.15,346.71 L303.37,346.04 L303.58,345.85 L303.80,343.61 L304.00,342.84 L304.21,342.65 L304.41,341.07 L304.61,341.17 L304.81,339.61 L305.00,338.73 L305.18,338.06 L305.36,337.94 L305.53,336.75 L305.70,336.03 L306.07,334.50 L306.41,332.45 L306.72,331.68 L307.00,331.79 L307.27,330.66 L307.54,329.78 L307.79,329.17 L308.05,328.02 L308.32,327.83 L308.60,326.69 L309.35,326.17 L310.11,325.03 L310.84,324.76 L311.50,324.40 L312.07,322.93 L312.56,322.02 L313.03,320.85 L313.50,320.46 L313.82,321.27 L314.14,320.79 L314.46,321.77 L314.77,323.91 L315.08,325.18 L315.40,326.61 L315.78,326.98 L316.16,327.89 L316.53,327.96 L316.91,329.52 L317.30,330.30 L317.77,330.35 L318.24,331.09 L318.73,332.34 L319.30,334.03 L319.49,333.20 L319.70,335.25 L319.91,336.07 L320.13,336.69 L320.35,337.74 L320.58,338.71 L320.81,338.98 L321.04,340.58 L321.28,341.27 L321.51,341.97 L321.74,343.51 L321.97,345.13 L322.20,344.84 L322.37,345.57 L322.54,346.43 L322.71,348.94 L322.88,348.85 L323.05,349.86 L323.22,350.48 L323.39,351.36 L323.56,351.84 L323.74,353.80 L323.91,354.81 L324.08,354.77 L324.25,356.14 L324.42,357.22 L324.59,358.46 L324.76,359.49 L324.93,360.76 L325.10,361.71 L325.30,362.58 L325.50,363.68 L325.69,363.51 L325.87,364.72 L326.05,366.41 L326.24,366.94 L326.43,367.71 L326.62,367.70 L326.82,368.63 L327.03,370.65 L327.25,371.33 L327.48,371.89 L327.73,372.68 L328.00,372.92 L328.31,374.77 L328.64,375.97 L328.99,377.16 L329.36,377.34 L329.74,378.13 L330.13,378.61 L330.52,380.51 L330.92,381.56 L331.33,381.32 L331.73,382.50 L332.13,383.13 L332.52,383.51 L332.90,383.33 L333.53,385.32 L334.07,386.52 L334.59,386.82 L335.15,387.67 L335.83,387.97 L336.69,389.00 L337.80,389.33 L338.50,389.47 L339.32,389.60 L340.23,389.69 L341.23,389.78 L342.28,389.82 L343.36,389.84 L344.46,389.86 L345.54,389.85 L346.58,389.87 L347.57,389.79 L348.48,389.81 L349.28,389.78 L349.97,389.76 L350.50,389.75 L350.50,390.1 L219.00,390.1 Z" fill="#d27b8d"/>
<g clip-path="url(#cb3)"><path d="M219.00,390.00 L219.51,390.00 L220.10,389.99 L220.78,389.98 L221.54,389.96 L222.37,389.93 L223.26,389.93 L224.20,389.91 L225.18,389.87 L226.21,389.87 L227.26,389.84 L228.33,389.82 L229.42,389.83 L230.51,389.81 L231.60,389.77 L232.68,389.75 L233.74,389.74 L234.78,389.72 L235.78,389.70 L236.74,389.68 L237.65,389.65 L238.50,389.66 L239.29,389.64 L240.00,389.61 L241.31,389.52 L242.46,389.46 L243.47,389.45 L244.36,389.34 L245.18,389.28 L245.94,389.05 L246.68,388.96 L247.43,389.12 L248.21,389.08 L249.06,389.13 L250.00,389.06 L250.86,389.02 L251.76,389.02 L252.68,388.93 L253.62,389.14 L254.57,389.07 L255.54,389.20 L256.50,389.22 L257.46,389.28 L258.41,389.36 L259.35,389.31 L260.26,389.35 L261.15,389.35 L262.00,389.38 L263.08,389.48 L264.15,389.36 L265.20,389.43 L266.23,389.38 L267.24,389.34 L268.21,389.30 L269.15,389.13 L270.05,389.16 L270.90,389.19 L271.70,388.94 L272.89,388.86 L273.92,388.63 L274.84,388.56 L275.71,388.18 L276.58,388.35 L277.50,387.84 L278.47,387.42 L279.43,387.87 L280.39,387.53 L281.36,387.21 L282.33,386.93 L283.30,386.30 L284.13,385.94 L284.95,385.85 L285.77,385.49 L286.60,385.02 L287.45,384.14 L288.31,383.13 L289.20,382.41 L289.74,382.46 L290.30,382.05 L290.88,380.67 L291.47,380.00 L292.07,380.13 L292.67,379.21 L293.26,378.47 L293.85,376.79 L294.42,376.39 L294.97,375.44 L295.50,374.81 L296.00,372.94 L296.30,373.59 L296.59,372.45 L296.87,371.77 L297.14,370.28 L297.40,370.02 L297.66,369.83 L297.91,367.69 L298.16,367.69 L298.40,366.99 L298.64,365.48 L298.87,365.25 L299.11,363.82 L299.35,363.59 L299.58,362.33 L299.82,361.23 L300.06,361.06 L300.30,359.56 L300.55,358.78 L300.80,356.66 L301.00,356.10 L301.21,355.92 L301.42,355.08 L301.63,353.74 L301.85,353.19 L302.06,351.42 L302.28,351.03 L302.50,349.44 L302.72,349.13 L302.94,347.77 L303.15,346.71 L303.37,346.04 L303.58,345.85 L303.80,343.61 L304.00,342.84 L304.21,342.65 L304.41,341.07 L304.61,341.17 L304.81,339.61 L305.00,338.73 L305.18,338.06 L305.36,337.94 L305.53,336.75 L305.70,336.03 L306.07,334.50 L306.41,332.45 L306.72,331.68 L307.00,331.79 L307.27,330.66 L307.54,329.78 L307.79,329.17 L308.05,328.02 L308.32,327.83 L308.60,326.69 L309.35,326.17 L310.11,325.03 L310.84,324.76 L311.50,324.40 L312.07,322.93 L312.56,322.02 L313.03,320.85 L313.50,320.46 L313.82,321.27 L314.14,320.79 L314.46,321.77 L314.77,323.91 L315.08,325.18 L315.40,326.61 L315.78,326.98 L316.16,327.89 L316.53,327.96 L316.91,329.52 L317.30,330.30 L317.77,330.35 L318.24,331.09 L318.73,332.34 L319.30,334.03 L319.49,333.20 L319.70,335.25 L319.91,336.07 L320.13,336.69 L320.35,337.74 L320.58,338.71 L320.81,338.98 L321.04,340.58 L321.28,341.27 L321.51,341.97 L321.74,343.51 L321.97,345.13 L322.20,344.84 L322.37,345.57 L322.54,346.43 L322.71,348.94 L322.88,348.85 L323.05,349.86 L323.22,350.48 L323.39,351.36 L323.56,351.84 L323.74,353.80 L323.91,354.81 L324.08,354.77 L324.25,356.14 L324.42,357.22 L324.59,358.46 L324.76,359.49 L324.93,360.76 L325.10,361.71 L325.30,362.58 L325.50,363.68 L325.69,363.51 L325.87,364.72 L326.05,366.41 L326.24,366.94 L326.43,367.71 L326.62,367.70 L326.82,368.63 L327.03,370.65 L327.25,371.33 L327.48,371.89 L327.73,372.68 L328.00,372.92 L328.31,374.77 L328.64,375.97 L328.99,377.16 L329.36,377.34 L329.74,378.13 L330.13,378.61 L330.52,380.51 L330.92,381.56 L331.33,381.32 L331.73,382.50 L332.13,383.13 L332.52,383.51 L332.90,383.33 L333.53,385.32 L334.07,386.52 L334.59,386.82 L335.15,387.67 L335.83,387.97 L336.69,389.00 L337.80,389.33 L338.50,389.47 L339.32,389.60 L340.23,389.69 L341.23,389.78 L342.28,389.82 L343.36,389.84 L344.46,389.86 L345.54,389.85 L346.58,389.87 L347.57,389.79 L348.48,389.81 L349.28,389.78 L349.97,389.76 L350.50,389.75 L350.50,390.1 L219.00,390.1 Z" fill="#6a2552"/></g>
<path d="M219.00,390.00 L219.51,390.00 L220.10,389.99 L220.78,389.98 L221.54,389.96 L222.37,389.93 L223.26,389.93 L224.20,389.91 L225.18,389.87 L226.21,389.87 L227.26,389.84 L228.33,389.82 L229.42,389.83 L230.51,389.81 L231.60,389.77 L232.68,389.75 L233.74,389.74 L234.78,389.72 L235.78,389.70 L236.74,389.68 L237.65,389.65 L238.50,389.66 L239.29,389.64 L240.00,389.61 L241.31,389.52 L242.46,389.46 L243.47,389.45 L244.36,389.34 L245.18,389.28 L245.94,389.05 L246.68,388.96 L247.43,389.12 L248.21,389.08 L249.06,389.13 L250.00,389.06 L250.86,389.02 L251.76,389.02 L252.68,388.93 L253.62,389.14 L254.57,389.07 L255.54,389.20 L256.50,389.22 L257.46,389.28 L258.41,389.36 L259.35,389.31 L260.26,389.35 L261.15,389.35 L262.00,389.38 L263.08,389.48 L264.15,389.36 L265.20,389.43 L266.23,389.38 L267.24,389.34 L268.21,389.30 L269.15,389.13 L270.05,389.16 L270.90,389.19 L271.70,388.94 L272.89,388.86 L273.92,388.63 L274.84,388.56 L275.71,388.18 L276.58,388.35 L277.50,387.84 L278.47,387.42 L279.43,387.87 L280.39,387.53 L281.36,387.21 L282.33,386.93 L283.30,386.30 L284.13,385.94 L284.95,385.85 L285.77,385.49 L286.60,385.02 L287.45,384.14 L288.31,383.13 L289.20,382.41 L289.74,382.46 L290.30,382.05 L290.88,380.67 L291.47,380.00 L292.07,380.13 L292.67,379.21 L293.26,378.47 L293.85,376.79 L294.42,376.39 L294.97,375.44 L295.50,374.81 L296.00,372.94 L296.30,373.59 L296.59,372.45 L296.87,371.77 L297.14,370.28 L297.40,370.02 L297.66,369.83 L297.91,367.69 L298.16,367.69 L298.40,366.99 L298.64,365.48 L298.87,365.25 L299.11,363.82 L299.35,363.59 L299.58,362.33 L299.82,361.23 L300.06,361.06 L300.30,359.56 L300.55,358.78 L300.80,356.66 L301.00,356.10 L301.21,355.92 L301.42,355.08 L301.63,353.74 L301.85,353.19 L302.06,351.42 L302.28,351.03 L302.50,349.44 L302.72,349.13 L302.94,347.77 L303.15,346.71 L303.37,346.04 L303.58,345.85 L303.80,343.61 L304.00,342.84 L304.21,342.65 L304.41,341.07 L304.61,341.17 L304.81,339.61 L305.00,338.73 L305.18,338.06 L305.36,337.94 L305.53,336.75 L305.70,336.03 L306.07,334.50 L306.41,332.45 L306.72,331.68 L307.00,331.79 L307.27,330.66 L307.54,329.78 L307.79,329.17 L308.05,328.02 L308.32,327.83 L308.60,326.69 L309.35,326.17 L310.11,325.03 L310.84,324.76 L311.50,324.40 L312.07,322.93 L312.56,322.02 L313.03,320.85 L313.50,320.46 L313.82,321.27 L314.14,320.79 L314.46,321.77 L314.77,323.91 L315.08,325.18 L315.40,326.61 L315.78,326.98 L316.16,327.89 L316.53,327.96 L316.91,329.52 L317.30,330.30 L317.77,330.35 L318.24,331.09 L318.73,332.34 L319.30,334.03 L319.49,333.20 L319.70,335.25 L319.91,336.07 L320.13,336.69 L320.35,337.74 L320.58,338.71 L320.81,338.98 L321.04,340.58 L321.28,341.27 L321.51,341.97 L321.74,343.51 L321.97,345.13 L322.20,344.84 L322.37,345.57 L322.54,346.43 L322.71,348.94 L322.88,348.85 L323.05,349.86 L323.22,350.48 L323.39,351.36 L323.56,351.84 L323.74,353.80 L323.91,354.81 L324.08,354.77 L324.25,356.14 L324.42,357.22 L324.59,358.46 L324.76,359.49 L324.93,360.76 L325.10,361.71 L325.30,362.58 L325.50,363.68 L325.69,363.51 L325.87,364.72 L326.05,366.41 L326.24,366.94 L326.43,367.71 L326.62,367.70 L326.82,368.63 L327.03,370.65 L327.25,371.33 L327.48,371.89 L327.73,372.68 L328.00,372.92 L328.31,374.77 L328.64,375.97 L328.99,377.16 L329.36,377.34 L329.74,378.13 L330.13,378.61 L330.52,380.51 L330.92,381.56 L331.33,381.32 L331.73,382.50 L332.13,383.13 L332.52,383.51 L332.90,383.33 L333.53,385.32 L334.07,386.52 L334.59,386.82 L335.15,387.67 L335.83,387.97 L336.69,389.00 L337.80,389.33 L338.50,389.47 L339.32,389.60 L340.23,389.69 L341.23,389.78 L342.28,389.82 L343.36,389.84 L344.46,389.86 L345.54,389.85 L346.58,389.87 L347.57,389.79 L348.48,389.81 L349.28,389.78 L349.97,389.76 L350.50,389.75" fill="none" stroke="#bb0a36" stroke-width="1.05" stroke-linejoin="round"/>
<line x1="218.30" y1="303.70" x2="218.30" y2="390.70" stroke="#000" stroke-width="1.2" />
<line x1="217.80" y1="390.10" x2="351.00" y2="390.10" stroke="#000" stroke-width="1.3" />
<line x1="215.30" y1="390.10" x2="218.30" y2="390.10" stroke="#000" stroke-width="0.9" />
<text x="211.10" y="392.60" font-size="7.13" text-anchor="end" fill="#222" textLength="3.67" lengthAdjust="spacingAndGlyphs">0</text>
<line x1="215.30" y1="378.20" x2="218.30" y2="378.20" stroke="#000" stroke-width="0.9" />
<text x="211.10" y="380.70" font-size="7.13" text-anchor="end" fill="#222" textLength="7.34" lengthAdjust="spacingAndGlyphs">50</text>
<line x1="215.30" y1="366.30" x2="218.30" y2="366.30" stroke="#000" stroke-width="0.9" />
<text x="211.10" y="368.80" font-size="7.13" text-anchor="end" fill="#222" textLength="11.01" lengthAdjust="spacingAndGlyphs">100</text>
<line x1="215.30" y1="354.40" x2="218.30" y2="354.40" stroke="#000" stroke-width="0.9" />
<text x="211.10" y="356.90" font-size="7.13" text-anchor="end" fill="#222" textLength="11.01" lengthAdjust="spacingAndGlyphs">150</text>
<line x1="215.30" y1="342.50" x2="218.30" y2="342.50" stroke="#000" stroke-width="0.9" />
<text x="211.10" y="345.00" font-size="7.13" text-anchor="end" fill="#222" textLength="11.01" lengthAdjust="spacingAndGlyphs">200</text>
<line x1="215.30" y1="330.60" x2="218.30" y2="330.60" stroke="#000" stroke-width="0.9" />
<text x="211.10" y="333.10" font-size="7.13" text-anchor="end" fill="#222" textLength="11.01" lengthAdjust="spacingAndGlyphs">250</text>
<line x1="215.30" y1="318.70" x2="218.30" y2="318.70" stroke="#000" stroke-width="0.9" />
<text x="211.10" y="321.20" font-size="7.13" text-anchor="end" fill="#222" textLength="11.01" lengthAdjust="spacingAndGlyphs">300</text>
<line x1="215.30" y1="306.80" x2="218.30" y2="306.80" stroke="#000" stroke-width="0.9" />
<text x="211.10" y="309.30" font-size="7.13" text-anchor="end" fill="#222" textLength="11.01" lengthAdjust="spacingAndGlyphs">350</text>
<line x1="216.70" y1="387.72" x2="218.30" y2="387.72" stroke="#000" stroke-width="0.6" />
<line x1="216.70" y1="385.34" x2="218.30" y2="385.34" stroke="#000" stroke-width="0.6" />
<line x1="216.70" y1="382.96" x2="218.30" y2="382.96" stroke="#000" stroke-width="0.6" />
<line x1="216.70" y1="380.58" x2="218.30" y2="380.58" stroke="#000" stroke-width="0.6" />
<line x1="216.70" y1="375.82" x2="218.30" y2="375.82" stroke="#000" stroke-width="0.6" />
<line x1="216.70" y1="373.44" x2="218.30" y2="373.44" stroke="#000" stroke-width="0.6" />
<line x1="216.70" y1="371.06" x2="218.30" y2="371.06" stroke="#000" stroke-width="0.6" />
<line x1="216.70" y1="368.68" x2="218.30" y2="368.68" stroke="#000" stroke-width="0.6" />
<line x1="216.70" y1="363.92" x2="218.30" y2="363.92" stroke="#000" stroke-width="0.6" />
<line x1="216.70" y1="361.54" x2="218.30" y2="361.54" stroke="#000" stroke-width="0.6" />
<line x1="216.70" y1="359.16" x2="218.30" y2="359.16" stroke="#000" stroke-width="0.6" />
<line x1="216.70" y1="356.78" x2="218.30" y2="356.78" stroke="#000" stroke-width="0.6" />
<line x1="216.70" y1="352.02" x2="218.30" y2="352.02" stroke="#000" stroke-width="0.6" />
<line x1="216.70" y1="349.64" x2="218.30" y2="349.64" stroke="#000" stroke-width="0.6" />
<line x1="216.70" y1="347.26" x2="218.30" y2="347.26" stroke="#000" stroke-width="0.6" />
<line x1="216.70" y1="344.88" x2="218.30" y2="344.88" stroke="#000" stroke-width="0.6" />
<line x1="216.70" y1="340.12" x2="218.30" y2="340.12" stroke="#000" stroke-width="0.6" />
<line x1="216.70" y1="337.74" x2="218.30" y2="337.74" stroke="#000" stroke-width="0.6" />
<line x1="216.70" y1="335.36" x2="218.30" y2="335.36" stroke="#000" stroke-width="0.6" />
<line x1="216.70" y1="332.98" x2="218.30" y2="332.98" stroke="#000" stroke-width="0.6" />
<line x1="216.70" y1="328.22" x2="218.30" y2="328.22" stroke="#000" stroke-width="0.6" />
<line x1="216.70" y1="325.84" x2="218.30" y2="325.84" stroke="#000" stroke-width="0.6" />
<line x1="216.70" y1="323.46" x2="218.30" y2="323.46" stroke="#000" stroke-width="0.6" />
<line x1="216.70" y1="321.08" x2="218.30" y2="321.08" stroke="#000" stroke-width="0.6" />
<line x1="216.70" y1="316.32" x2="218.30" y2="316.32" stroke="#000" stroke-width="0.6" />
<line x1="216.70" y1="313.94" x2="218.30" y2="313.94" stroke="#000" stroke-width="0.6" />
<line x1="216.70" y1="311.56" x2="218.30" y2="311.56" stroke="#000" stroke-width="0.6" />
<line x1="216.70" y1="309.18" x2="218.30" y2="309.18" stroke="#000" stroke-width="0.6" />
<line x1="241.40" y1="390.10" x2="241.40" y2="393.10" stroke="#000" stroke-width="0.9" />
<line x1="250.30" y1="390.10" x2="250.30" y2="393.10" stroke="#000" stroke-width="0.9" />
<line x1="259.00" y1="390.10" x2="259.00" y2="393.10" stroke="#000" stroke-width="0.9" />
<line x1="300.00" y1="390.10" x2="300.00" y2="393.10" stroke="#000" stroke-width="0.9" />
<line x1="346.00" y1="390.10" x2="346.00" y2="393.10" stroke="#000" stroke-width="0.9" />
<line x1="240.40" y1="390.10" x2="240.40" y2="391.40" stroke="#000" stroke-width="0.6" />
<line x1="241.50" y1="390.10" x2="241.50" y2="391.40" stroke="#000" stroke-width="0.6" />
<line x1="242.60" y1="390.10" x2="242.60" y2="391.40" stroke="#000" stroke-width="0.6" />
<line x1="243.70" y1="390.10" x2="243.70" y2="391.40" stroke="#000" stroke-width="0.6" />
<line x1="244.80" y1="390.10" x2="244.80" y2="391.40" stroke="#000" stroke-width="0.6" />
<line x1="245.90" y1="390.10" x2="245.90" y2="391.40" stroke="#000" stroke-width="0.6" />
<line x1="247.00" y1="390.10" x2="247.00" y2="391.40" stroke="#000" stroke-width="0.6" />
<line x1="248.10" y1="390.10" x2="248.10" y2="391.40" stroke="#000" stroke-width="0.6" />
<line x1="249.20" y1="390.10" x2="249.20" y2="391.40" stroke="#000" stroke-width="0.6" />
<line x1="250.30" y1="390.10" x2="250.30" y2="391.40" stroke="#000" stroke-width="0.6" />
<line x1="251.40" y1="390.10" x2="251.40" y2="391.40" stroke="#000" stroke-width="0.6" />
<line x1="252.50" y1="390.10" x2="252.50" y2="391.40" stroke="#000" stroke-width="0.6" />
<line x1="253.60" y1="390.10" x2="253.60" y2="391.40" stroke="#000" stroke-width="0.6" />
<line x1="254.70" y1="390.10" x2="254.70" y2="391.40" stroke="#000" stroke-width="0.6" />
<line x1="255.80" y1="390.10" x2="255.80" y2="391.40" stroke="#000" stroke-width="0.6" />
<line x1="256.90" y1="390.10" x2="256.90" y2="391.40" stroke="#000" stroke-width="0.6" />
<line x1="258.00" y1="390.10" x2="258.00" y2="391.40" stroke="#000" stroke-width="0.6" />
<line x1="259.10" y1="390.10" x2="259.10" y2="391.40" stroke="#000" stroke-width="0.6" />
<line x1="260.20" y1="390.10" x2="260.20" y2="391.40" stroke="#000" stroke-width="0.6" />
<line x1="271.34" y1="390.10" x2="271.34" y2="391.80" stroke="#000" stroke-width="0.6" />
<line x1="278.56" y1="390.10" x2="278.56" y2="391.80" stroke="#000" stroke-width="0.6" />
<line x1="283.68" y1="390.10" x2="283.68" y2="391.80" stroke="#000" stroke-width="0.6" />
<line x1="287.66" y1="390.10" x2="287.66" y2="391.80" stroke="#000" stroke-width="0.6" />
<line x1="290.90" y1="390.10" x2="290.90" y2="391.80" stroke="#000" stroke-width="0.6" />
<line x1="293.65" y1="390.10" x2="293.65" y2="391.80" stroke="#000" stroke-width="0.6" />
<line x1="296.03" y1="390.10" x2="296.03" y2="391.80" stroke="#000" stroke-width="0.6" />
<line x1="298.12" y1="390.10" x2="298.12" y2="391.80" stroke="#000" stroke-width="0.6" />
<line x1="313.85" y1="390.10" x2="313.85" y2="391.80" stroke="#000" stroke-width="0.6" />
<line x1="321.95" y1="390.10" x2="321.95" y2="391.80" stroke="#000" stroke-width="0.6" />
<line x1="327.69" y1="390.10" x2="327.69" y2="391.80" stroke="#000" stroke-width="0.6" />
<line x1="332.15" y1="390.10" x2="332.15" y2="391.80" stroke="#000" stroke-width="0.6" />
<line x1="335.79" y1="390.10" x2="335.79" y2="391.80" stroke="#000" stroke-width="0.6" />
<line x1="338.87" y1="390.10" x2="338.87" y2="391.80" stroke="#000" stroke-width="0.6" />
<line x1="341.54" y1="390.10" x2="341.54" y2="391.80" stroke="#000" stroke-width="0.6" />
<line x1="343.90" y1="390.10" x2="343.90" y2="391.80" stroke="#000" stroke-width="0.6" />
<line x1="238.26" y1="390.10" x2="238.26" y2="391.80" stroke="#000" stroke-width="0.6" />
<line x1="236.42" y1="390.10" x2="236.42" y2="391.80" stroke="#000" stroke-width="0.6" />
<line x1="235.11" y1="390.10" x2="235.11" y2="391.80" stroke="#000" stroke-width="0.6" />
<line x1="234.10" y1="390.10" x2="234.10" y2="391.80" stroke="#000" stroke-width="0.6" />
<text x="243.60" y="403.20" font-size="6.8" text-anchor="end" fill="#222">-10</text>
<text x="243.80" y="400.00" font-size="4.8" fill="#222">2</text>
<text x="250.20" y="403.20" font-size="6.8" text-anchor="middle" font-weight="normal" fill="#222">0</text>
<text x="261.30" y="403.20" font-size="6.8" text-anchor="end" fill="#222">10</text>
<text x="261.50" y="400.00" font-size="4.8" fill="#222">2</text>
<text x="301.60" y="403.20" font-size="6.8" text-anchor="end" fill="#222">10</text>
<text x="301.80" y="400.00" font-size="4.8" fill="#222">3</text>
<text x="347.60" y="403.20" font-size="6.8" text-anchor="end" fill="#222">10</text>
<text x="347.80" y="400.00" font-size="4.8" fill="#222">4</text>
<text x="308.90" y="386.40" font-size="6.9" text-anchor="middle" font-weight="normal" fill="#222">+Thr</text>
<defs><clipPath id="cb4"><path d="M382.00,389.80 C382.50,389.67 384.08,389.80 385.00,389.00 C385.92,388.20 386.70,386.60 387.50,385.00 C388.30,383.40 389.00,382.07 389.80,379.40 C390.60,376.73 391.23,374.20 392.30,369.00 C393.37,363.80 394.90,355.13 396.20,348.20 C397.50,341.27 398.73,332.60 400.10,327.40 C401.47,322.20 403.27,319.33 404.40,317.00 C405.53,314.67 405.93,313.40 406.90,313.40 C407.87,313.40 409.27,314.67 410.20,317.00 C411.13,319.33 411.53,322.20 412.50,327.40 C413.47,332.60 414.83,341.27 416.00,348.20 C417.17,355.13 418.37,363.80 419.50,369.00 C420.63,374.20 421.60,376.52 422.80,379.40 C424.00,382.28 425.33,384.57 426.70,386.30 C428.07,388.03 430.28,389.22 431.00,389.80 L431.00,389.8 L382.00,389.8 Z"/></clipPath></defs>
<path d="M382.00,389.80 C382.50,389.67 384.08,389.80 385.00,389.00 C385.92,388.20 386.70,386.60 387.50,385.00 C388.30,383.40 389.00,382.07 389.80,379.40 C390.60,376.73 391.23,374.20 392.30,369.00 C393.37,363.80 394.90,355.13 396.20,348.20 C397.50,341.27 398.73,332.60 400.10,327.40 C401.47,322.20 403.27,319.33 404.40,317.00 C405.53,314.67 405.93,313.40 406.90,313.40 C407.87,313.40 409.27,314.67 410.20,317.00 C411.13,319.33 411.53,322.20 412.50,327.40 C413.47,332.60 414.83,341.27 416.00,348.20 C417.17,355.13 418.37,363.80 419.50,369.00 C420.63,374.20 421.60,376.52 422.80,379.40 C424.00,382.28 425.33,384.57 426.70,386.30 C428.07,388.03 430.28,389.22 431.00,389.80 L431.00,389.8 L382.00,389.8 Z" fill="#2e4c80" stroke="#1f3b70" stroke-width="0.6"/>
<path d="M374.00,389.61 L374.50,389.58 L375.09,389.57 L375.75,389.58 L376.48,389.55 L377.28,389.56 L378.13,389.55 L379.04,389.55 L379.99,389.55 L380.97,389.49 L381.99,389.52 L383.03,389.49 L384.09,389.48 L385.16,389.45 L386.24,389.47 L387.31,389.40 L388.37,389.42 L389.42,389.44 L390.45,389.37 L391.44,389.43 L392.40,389.33 L393.32,389.34 L394.19,389.30 L395.00,389.28 L396.10,389.23 L397.16,389.22 L398.18,389.20 L399.17,389.13 L400.13,389.17 L401.06,389.17 L401.98,388.96 L402.88,389.06 L403.76,388.98 L404.64,388.95 L405.51,389.06 L406.39,388.95 L407.27,388.86 L408.17,388.83 L409.07,388.65 L410.00,388.86 L410.95,388.75 L411.92,388.83 L412.91,388.85 L413.90,388.94 L414.91,389.04 L415.92,389.01 L416.92,389.07 L417.91,389.02 L418.89,389.10 L419.86,389.15 L420.80,389.08 L421.71,389.27 L422.60,389.17 L423.44,389.15 L424.24,389.28 L425.00,389.30 L426.24,389.12 L427.38,389.06 L428.42,389.19 L429.38,388.91 L430.27,388.63 L431.10,388.60 L431.90,388.70 L432.66,388.43 L433.40,388.29 L434.59,388.06 L435.57,387.64 L436.44,387.07 L437.32,386.36 L438.30,386.42 L439.21,385.69 L440.16,385.78 L441.14,386.12 L442.13,385.41 L443.12,384.73 L444.10,383.93 L444.59,383.70 L445.09,383.18 L445.59,381.50 L446.10,381.45 L446.61,381.36 L447.11,380.11 L447.61,378.58 L448.11,377.75 L448.60,376.26 L449.08,375.95 L449.55,376.17 L450.00,374.57 L450.41,373.44 L450.82,372.79 L451.22,372.22 L451.62,371.43 L452.01,370.51 L452.40,369.52 L452.77,369.33 L453.14,368.91 L453.50,367.12 L453.84,366.28 L454.18,366.20 L454.50,364.13 L454.80,363.63 L455.06,362.89 L455.31,362.28 L455.53,361.20 L455.74,360.04 L455.93,359.68 L456.12,358.10 L456.31,356.93 L456.49,355.89 L456.67,356.21 L456.85,354.17 L457.05,354.24 L457.25,353.42 L457.47,352.57 L457.70,351.22 L457.95,350.14 L458.21,349.47 L458.49,348.19 L458.77,346.90 L459.06,347.05 L459.35,345.09 L459.65,345.33 L459.95,343.79 L460.24,342.43 L460.53,341.94 L460.81,341.44 L461.09,339.48 L461.35,338.95 L461.60,338.23 L462.13,337.54 L462.60,336.77 L463.05,335.93 L463.50,335.00 L463.97,334.43 L464.50,334.33 L464.89,333.54 L465.32,332.19 L465.76,330.55 L466.22,330.41 L466.68,329.26 L467.14,328.34 L467.58,328.22 L468.01,327.22 L468.40,326.06 L469.06,326.08 L469.68,327.77 L470.25,328.22 L470.79,329.56 L471.30,329.95 L472.00,330.19 L472.60,331.31 L473.30,333.63 L473.47,333.68 L473.64,333.70 L473.82,334.83 L474.01,335.57 L474.20,336.76 L474.40,338.07 L474.59,339.47 L474.79,339.68 L475.00,340.40 L475.20,341.65 L475.40,342.65 L475.61,343.47 L475.81,344.66 L476.00,345.62 L476.20,346.01 L476.39,347.69 L476.59,348.17 L476.78,348.77 L476.97,350.32 L477.17,350.75 L477.36,352.63 L477.55,352.94 L477.75,353.64 L477.94,354.15 L478.13,355.20 L478.33,356.67 L478.52,356.90 L478.71,358.48 L478.91,358.13 L479.10,360.13 L479.27,361.27 L479.42,361.95 L479.57,362.70 L479.72,364.09 L479.86,364.19 L480.01,365.08 L480.15,366.52 L480.29,367.98 L480.44,368.59 L480.60,369.26 L480.76,370.43 L480.93,371.43 L481.12,371.59 L481.31,371.79 L481.53,373.48 L481.75,374.13 L482.00,375.37 L482.30,376.03 L482.61,377.13 L482.93,378.66 L483.26,379.46 L483.61,380.35 L483.97,382.04 L484.34,381.99 L484.73,382.90 L485.12,384.48 L485.54,384.28 L485.96,384.92 L486.40,386.50 L486.85,386.85 L487.32,387.44 L487.80,387.91 L488.63,388.52 L489.51,388.79 L490.42,389.04 L491.37,389.07 L492.36,389.12 L493.38,389.07 L494.43,388.96 L495.50,389.00 L496.60,389.18 L497.48,389.02 L498.46,389.19 L499.49,389.25 L500.57,389.31 L501.66,389.30 L502.75,389.42 L503.81,389.45 L504.81,389.47 L505.73,389.50 L506.55,389.55 L507.25,389.59 L507.80,389.62 L507.80,389.8 L374.00,389.8 Z" fill="#d27b8d" opacity="0" />
<path d="M374.00,389.61 L374.50,389.58 L375.09,389.57 L375.75,389.58 L376.48,389.55 L377.28,389.56 L378.13,389.55 L379.04,389.55 L379.99,389.55 L380.97,389.49 L381.99,389.52 L383.03,389.49 L384.09,389.48 L385.16,389.45 L386.24,389.47 L387.31,389.40 L388.37,389.42 L389.42,389.44 L390.45,389.37 L391.44,389.43 L392.40,389.33 L393.32,389.34 L394.19,389.30 L395.00,389.28 L396.10,389.23 L397.16,389.22 L398.18,389.20 L399.17,389.13 L400.13,389.17 L401.06,389.17 L401.98,388.96 L402.88,389.06 L403.76,388.98 L404.64,388.95 L405.51,389.06 L406.39,388.95 L407.27,388.86 L408.17,388.83 L409.07,388.65 L410.00,388.86 L410.95,388.75 L411.92,388.83 L412.91,388.85 L413.90,388.94 L414.91,389.04 L415.92,389.01 L416.92,389.07 L417.91,389.02 L418.89,389.10 L419.86,389.15 L420.80,389.08 L421.71,389.27 L422.60,389.17 L423.44,389.15 L424.24,389.28 L425.00,389.30 L426.24,389.12 L427.38,389.06 L428.42,389.19 L429.38,388.91 L430.27,388.63 L431.10,388.60 L431.90,388.70 L432.66,388.43 L433.40,388.29 L434.59,388.06 L435.57,387.64 L436.44,387.07 L437.32,386.36 L438.30,386.42 L439.21,385.69 L440.16,385.78 L441.14,386.12 L442.13,385.41 L443.12,384.73 L444.10,383.93 L444.59,383.70 L445.09,383.18 L445.59,381.50 L446.10,381.45 L446.61,381.36 L447.11,380.11 L447.61,378.58 L448.11,377.75 L448.60,376.26 L449.08,375.95 L449.55,376.17 L450.00,374.57 L450.41,373.44 L450.82,372.79 L451.22,372.22 L451.62,371.43 L452.01,370.51 L452.40,369.52 L452.77,369.33 L453.14,368.91 L453.50,367.12 L453.84,366.28 L454.18,366.20 L454.50,364.13 L454.80,363.63 L455.06,362.89 L455.31,362.28 L455.53,361.20 L455.74,360.04 L455.93,359.68 L456.12,358.10 L456.31,356.93 L456.49,355.89 L456.67,356.21 L456.85,354.17 L457.05,354.24 L457.25,353.42 L457.47,352.57 L457.70,351.22 L457.95,350.14 L458.21,349.47 L458.49,348.19 L458.77,346.90 L459.06,347.05 L459.35,345.09 L459.65,345.33 L459.95,343.79 L460.24,342.43 L460.53,341.94 L460.81,341.44 L461.09,339.48 L461.35,338.95 L461.60,338.23 L462.13,337.54 L462.60,336.77 L463.05,335.93 L463.50,335.00 L463.97,334.43 L464.50,334.33 L464.89,333.54 L465.32,332.19 L465.76,330.55 L466.22,330.41 L466.68,329.26 L467.14,328.34 L467.58,328.22 L468.01,327.22 L468.40,326.06 L469.06,326.08 L469.68,327.77 L470.25,328.22 L470.79,329.56 L471.30,329.95 L472.00,330.19 L472.60,331.31 L473.30,333.63 L473.47,333.68 L473.64,333.70 L473.82,334.83 L474.01,335.57 L474.20,336.76 L474.40,338.07 L474.59,339.47 L474.79,339.68 L475.00,340.40 L475.20,341.65 L475.40,342.65 L475.61,343.47 L475.81,344.66 L476.00,345.62 L476.20,346.01 L476.39,347.69 L476.59,348.17 L476.78,348.77 L476.97,350.32 L477.17,350.75 L477.36,352.63 L477.55,352.94 L477.75,353.64 L477.94,354.15 L478.13,355.20 L478.33,356.67 L478.52,356.90 L478.71,358.48 L478.91,358.13 L479.10,360.13 L479.27,361.27 L479.42,361.95 L479.57,362.70 L479.72,364.09 L479.86,364.19 L480.01,365.08 L480.15,366.52 L480.29,367.98 L480.44,368.59 L480.60,369.26 L480.76,370.43 L480.93,371.43 L481.12,371.59 L481.31,371.79 L481.53,373.48 L481.75,374.13 L482.00,375.37 L482.30,376.03 L482.61,377.13 L482.93,378.66 L483.26,379.46 L483.61,380.35 L483.97,382.04 L484.34,381.99 L484.73,382.90 L485.12,384.48 L485.54,384.28 L485.96,384.92 L486.40,386.50 L486.85,386.85 L487.32,387.44 L487.80,387.91 L488.63,388.52 L489.51,388.79 L490.42,389.04 L491.37,389.07 L492.36,389.12 L493.38,389.07 L494.43,388.96 L495.50,389.00 L496.60,389.18 L497.48,389.02 L498.46,389.19 L499.49,389.25 L500.57,389.31 L501.66,389.30 L502.75,389.42 L503.81,389.45 L504.81,389.47 L505.73,389.50 L506.55,389.55 L507.25,389.59 L507.80,389.62 L507.80,389.8 L374.00,389.8 Z" fill="#d27b8d"/>
<g clip-path="url(#cb4)"><path d="M374.00,389.61 L374.50,389.58 L375.09,389.57 L375.75,389.58 L376.48,389.55 L377.28,389.56 L378.13,389.55 L379.04,389.55 L379.99,389.55 L380.97,389.49 L381.99,389.52 L383.03,389.49 L384.09,389.48 L385.16,389.45 L386.24,389.47 L387.31,389.40 L388.37,389.42 L389.42,389.44 L390.45,389.37 L391.44,389.43 L392.40,389.33 L393.32,389.34 L394.19,389.30 L395.00,389.28 L396.10,389.23 L397.16,389.22 L398.18,389.20 L399.17,389.13 L400.13,389.17 L401.06,389.17 L401.98,388.96 L402.88,389.06 L403.76,388.98 L404.64,388.95 L405.51,389.06 L406.39,388.95 L407.27,388.86 L408.17,388.83 L409.07,388.65 L410.00,388.86 L410.95,388.75 L411.92,388.83 L412.91,388.85 L413.90,388.94 L414.91,389.04 L415.92,389.01 L416.92,389.07 L417.91,389.02 L418.89,389.10 L419.86,389.15 L420.80,389.08 L421.71,389.27 L422.60,389.17 L423.44,389.15 L424.24,389.28 L425.00,389.30 L426.24,389.12 L427.38,389.06 L428.42,389.19 L429.38,388.91 L430.27,388.63 L431.10,388.60 L431.90,388.70 L432.66,388.43 L433.40,388.29 L434.59,388.06 L435.57,387.64 L436.44,387.07 L437.32,386.36 L438.30,386.42 L439.21,385.69 L440.16,385.78 L441.14,386.12 L442.13,385.41 L443.12,384.73 L444.10,383.93 L444.59,383.70 L445.09,383.18 L445.59,381.50 L446.10,381.45 L446.61,381.36 L447.11,380.11 L447.61,378.58 L448.11,377.75 L448.60,376.26 L449.08,375.95 L449.55,376.17 L450.00,374.57 L450.41,373.44 L450.82,372.79 L451.22,372.22 L451.62,371.43 L452.01,370.51 L452.40,369.52 L452.77,369.33 L453.14,368.91 L453.50,367.12 L453.84,366.28 L454.18,366.20 L454.50,364.13 L454.80,363.63 L455.06,362.89 L455.31,362.28 L455.53,361.20 L455.74,360.04 L455.93,359.68 L456.12,358.10 L456.31,356.93 L456.49,355.89 L456.67,356.21 L456.85,354.17 L457.05,354.24 L457.25,353.42 L457.47,352.57 L457.70,351.22 L457.95,350.14 L458.21,349.47 L458.49,348.19 L458.77,346.90 L459.06,347.05 L459.35,345.09 L459.65,345.33 L459.95,343.79 L460.24,342.43 L460.53,341.94 L460.81,341.44 L461.09,339.48 L461.35,338.95 L461.60,338.23 L462.13,337.54 L462.60,336.77 L463.05,335.93 L463.50,335.00 L463.97,334.43 L464.50,334.33 L464.89,333.54 L465.32,332.19 L465.76,330.55 L466.22,330.41 L466.68,329.26 L467.14,328.34 L467.58,328.22 L468.01,327.22 L468.40,326.06 L469.06,326.08 L469.68,327.77 L470.25,328.22 L470.79,329.56 L471.30,329.95 L472.00,330.19 L472.60,331.31 L473.30,333.63 L473.47,333.68 L473.64,333.70 L473.82,334.83 L474.01,335.57 L474.20,336.76 L474.40,338.07 L474.59,339.47 L474.79,339.68 L475.00,340.40 L475.20,341.65 L475.40,342.65 L475.61,343.47 L475.81,344.66 L476.00,345.62 L476.20,346.01 L476.39,347.69 L476.59,348.17 L476.78,348.77 L476.97,350.32 L477.17,350.75 L477.36,352.63 L477.55,352.94 L477.75,353.64 L477.94,354.15 L478.13,355.20 L478.33,356.67 L478.52,356.90 L478.71,358.48 L478.91,358.13 L479.10,360.13 L479.27,361.27 L479.42,361.95 L479.57,362.70 L479.72,364.09 L479.86,364.19 L480.01,365.08 L480.15,366.52 L480.29,367.98 L480.44,368.59 L480.60,369.26 L480.76,370.43 L480.93,371.43 L481.12,371.59 L481.31,371.79 L481.53,373.48 L481.75,374.13 L482.00,375.37 L482.30,376.03 L482.61,377.13 L482.93,378.66 L483.26,379.46 L483.61,380.35 L483.97,382.04 L484.34,381.99 L484.73,382.90 L485.12,384.48 L485.54,384.28 L485.96,384.92 L486.40,386.50 L486.85,386.85 L487.32,387.44 L487.80,387.91 L488.63,388.52 L489.51,388.79 L490.42,389.04 L491.37,389.07 L492.36,389.12 L493.38,389.07 L494.43,388.96 L495.50,389.00 L496.60,389.18 L497.48,389.02 L498.46,389.19 L499.49,389.25 L500.57,389.31 L501.66,389.30 L502.75,389.42 L503.81,389.45 L504.81,389.47 L505.73,389.50 L506.55,389.55 L507.25,389.59 L507.80,389.62 L507.80,389.8 L374.00,389.8 Z" fill="#6a2552"/></g>
<path d="M374.00,389.61 L374.50,389.58 L375.09,389.57 L375.75,389.58 L376.48,389.55 L377.28,389.56 L378.13,389.55 L379.04,389.55 L379.99,389.55 L380.97,389.49 L381.99,389.52 L383.03,389.49 L384.09,389.48 L385.16,389.45 L386.24,389.47 L387.31,389.40 L388.37,389.42 L389.42,389.44 L390.45,389.37 L391.44,389.43 L392.40,389.33 L393.32,389.34 L394.19,389.30 L395.00,389.28 L396.10,389.23 L397.16,389.22 L398.18,389.20 L399.17,389.13 L400.13,389.17 L401.06,389.17 L401.98,388.96 L402.88,389.06 L403.76,388.98 L404.64,388.95 L405.51,389.06 L406.39,388.95 L407.27,388.86 L408.17,388.83 L409.07,388.65 L410.00,388.86 L410.95,388.75 L411.92,388.83 L412.91,388.85 L413.90,388.94 L414.91,389.04 L415.92,389.01 L416.92,389.07 L417.91,389.02 L418.89,389.10 L419.86,389.15 L420.80,389.08 L421.71,389.27 L422.60,389.17 L423.44,389.15 L424.24,389.28 L425.00,389.30 L426.24,389.12 L427.38,389.06 L428.42,389.19 L429.38,388.91 L430.27,388.63 L431.10,388.60 L431.90,388.70 L432.66,388.43 L433.40,388.29 L434.59,388.06 L435.57,387.64 L436.44,387.07 L437.32,386.36 L438.30,386.42 L439.21,385.69 L440.16,385.78 L441.14,386.12 L442.13,385.41 L443.12,384.73 L444.10,383.93 L444.59,383.70 L445.09,383.18 L445.59,381.50 L446.10,381.45 L446.61,381.36 L447.11,380.11 L447.61,378.58 L448.11,377.75 L448.60,376.26 L449.08,375.95 L449.55,376.17 L450.00,374.57 L450.41,373.44 L450.82,372.79 L451.22,372.22 L451.62,371.43 L452.01,370.51 L452.40,369.52 L452.77,369.33 L453.14,368.91 L453.50,367.12 L453.84,366.28 L454.18,366.20 L454.50,364.13 L454.80,363.63 L455.06,362.89 L455.31,362.28 L455.53,361.20 L455.74,360.04 L455.93,359.68 L456.12,358.10 L456.31,356.93 L456.49,355.89 L456.67,356.21 L456.85,354.17 L457.05,354.24 L457.25,353.42 L457.47,352.57 L457.70,351.22 L457.95,350.14 L458.21,349.47 L458.49,348.19 L458.77,346.90 L459.06,347.05 L459.35,345.09 L459.65,345.33 L459.95,343.79 L460.24,342.43 L460.53,341.94 L460.81,341.44 L461.09,339.48 L461.35,338.95 L461.60,338.23 L462.13,337.54 L462.60,336.77 L463.05,335.93 L463.50,335.00 L463.97,334.43 L464.50,334.33 L464.89,333.54 L465.32,332.19 L465.76,330.55 L466.22,330.41 L466.68,329.26 L467.14,328.34 L467.58,328.22 L468.01,327.22 L468.40,326.06 L469.06,326.08 L469.68,327.77 L470.25,328.22 L470.79,329.56 L471.30,329.95 L472.00,330.19 L472.60,331.31 L473.30,333.63 L473.47,333.68 L473.64,333.70 L473.82,334.83 L474.01,335.57 L474.20,336.76 L474.40,338.07 L474.59,339.47 L474.79,339.68 L475.00,340.40 L475.20,341.65 L475.40,342.65 L475.61,343.47 L475.81,344.66 L476.00,345.62 L476.20,346.01 L476.39,347.69 L476.59,348.17 L476.78,348.77 L476.97,350.32 L477.17,350.75 L477.36,352.63 L477.55,352.94 L477.75,353.64 L477.94,354.15 L478.13,355.20 L478.33,356.67 L478.52,356.90 L478.71,358.48 L478.91,358.13 L479.10,360.13 L479.27,361.27 L479.42,361.95 L479.57,362.70 L479.72,364.09 L479.86,364.19 L480.01,365.08 L480.15,366.52 L480.29,367.98 L480.44,368.59 L480.60,369.26 L480.76,370.43 L480.93,371.43 L481.12,371.59 L481.31,371.79 L481.53,373.48 L481.75,374.13 L482.00,375.37 L482.30,376.03 L482.61,377.13 L482.93,378.66 L483.26,379.46 L483.61,380.35 L483.97,382.04 L484.34,381.99 L484.73,382.90 L485.12,384.48 L485.54,384.28 L485.96,384.92 L486.40,386.50 L486.85,386.85 L487.32,387.44 L487.80,387.91 L488.63,388.52 L489.51,388.79 L490.42,389.04 L491.37,389.07 L492.36,389.12 L493.38,389.07 L494.43,388.96 L495.50,389.00 L496.60,389.18 L497.48,389.02 L498.46,389.19 L499.49,389.25 L500.57,389.31 L501.66,389.30 L502.75,389.42 L503.81,389.45 L504.81,389.47 L505.73,389.50 L506.55,389.55 L507.25,389.59 L507.80,389.62" fill="none" stroke="#bb0a36" stroke-width="1.05" stroke-linejoin="round"/>
<line x1="373.30" y1="303.70" x2="373.30" y2="390.40" stroke="#000" stroke-width="1.2" />
<line x1="372.80" y1="389.80" x2="508.20" y2="389.80" stroke="#000" stroke-width="1.3" />
<line x1="370.30" y1="389.80" x2="373.30" y2="389.80" stroke="#000" stroke-width="0.9" />
<text x="366.10" y="392.30" font-size="7.13" text-anchor="end" fill="#222" textLength="3.67" lengthAdjust="spacingAndGlyphs">0</text>
<line x1="370.30" y1="379.43" x2="373.30" y2="379.43" stroke="#000" stroke-width="0.9" />
<text x="366.10" y="381.93" font-size="7.13" text-anchor="end" fill="#222" textLength="7.34" lengthAdjust="spacingAndGlyphs">50</text>
<line x1="370.30" y1="369.05" x2="373.30" y2="369.05" stroke="#000" stroke-width="0.9" />
<text x="366.10" y="371.55" font-size="7.13" text-anchor="end" fill="#222" textLength="11.01" lengthAdjust="spacingAndGlyphs">100</text>
<line x1="370.30" y1="358.68" x2="373.30" y2="358.68" stroke="#000" stroke-width="0.9" />
<text x="366.10" y="361.18" font-size="7.13" text-anchor="end" fill="#222" textLength="11.01" lengthAdjust="spacingAndGlyphs">150</text>
<line x1="370.30" y1="348.30" x2="373.30" y2="348.30" stroke="#000" stroke-width="0.9" />
<text x="366.10" y="350.80" font-size="7.13" text-anchor="end" fill="#222" textLength="11.01" lengthAdjust="spacingAndGlyphs">200</text>
<line x1="370.30" y1="337.93" x2="373.30" y2="337.93" stroke="#000" stroke-width="0.9" />
<text x="366.10" y="340.43" font-size="7.13" text-anchor="end" fill="#222" textLength="11.01" lengthAdjust="spacingAndGlyphs">250</text>
<line x1="370.30" y1="327.55" x2="373.30" y2="327.55" stroke="#000" stroke-width="0.9" />
<text x="366.10" y="330.05" font-size="7.13" text-anchor="end" fill="#222" textLength="11.01" lengthAdjust="spacingAndGlyphs">300</text>
<line x1="370.30" y1="317.18" x2="373.30" y2="317.18" stroke="#000" stroke-width="0.9" />
<text x="366.10" y="319.68" font-size="7.13" text-anchor="end" fill="#222" textLength="11.01" lengthAdjust="spacingAndGlyphs">350</text>
<line x1="370.30" y1="306.80" x2="373.30" y2="306.80" stroke="#000" stroke-width="0.9" />
<text x="366.10" y="309.30" font-size="7.13" text-anchor="end" fill="#222" textLength="11.01" lengthAdjust="spacingAndGlyphs">400</text>
<line x1="371.70" y1="387.73" x2="373.30" y2="387.73" stroke="#000" stroke-width="0.6" />
<line x1="371.70" y1="385.65" x2="373.30" y2="385.65" stroke="#000" stroke-width="0.6" />
<line x1="371.70" y1="383.57" x2="373.30" y2="383.57" stroke="#000" stroke-width="0.6" />
<line x1="371.70" y1="381.50" x2="373.30" y2="381.50" stroke="#000" stroke-width="0.6" />
<line x1="371.70" y1="377.35" x2="373.30" y2="377.35" stroke="#000" stroke-width="0.6" />
<line x1="371.70" y1="375.28" x2="373.30" y2="375.28" stroke="#000" stroke-width="0.6" />
<line x1="371.70" y1="373.20" x2="373.30" y2="373.20" stroke="#000" stroke-width="0.6" />
<line x1="371.70" y1="371.12" x2="373.30" y2="371.12" stroke="#000" stroke-width="0.6" />
<line x1="371.70" y1="366.98" x2="373.30" y2="366.98" stroke="#000" stroke-width="0.6" />
<line x1="371.70" y1="364.90" x2="373.30" y2="364.90" stroke="#000" stroke-width="0.6" />
<line x1="371.70" y1="362.82" x2="373.30" y2="362.82" stroke="#000" stroke-width="0.6" />
<line x1="371.70" y1="360.75" x2="373.30" y2="360.75" stroke="#000" stroke-width="0.6" />
<line x1="371.70" y1="356.60" x2="373.30" y2="356.60" stroke="#000" stroke-width="0.6" />
<line x1="371.70" y1="354.53" x2="373.30" y2="354.53" stroke="#000" stroke-width="0.6" />
<line x1="371.70" y1="352.45" x2="373.30" y2="352.45" stroke="#000" stroke-width="0.6" />
<line x1="371.70" y1="350.38" x2="373.30" y2="350.38" stroke="#000" stroke-width="0.6" />
<line x1="371.70" y1="346.23" x2="373.30" y2="346.23" stroke="#000" stroke-width="0.6" />
<line x1="371.70" y1="344.15" x2="373.30" y2="344.15" stroke="#000" stroke-width="0.6" />
<line x1="371.70" y1="342.07" x2="373.30" y2="342.07" stroke="#000" stroke-width="0.6" />
<line x1="371.70" y1="340.00" x2="373.30" y2="340.00" stroke="#000" stroke-width="0.6" />
<line x1="371.70" y1="335.85" x2="373.30" y2="335.85" stroke="#000" stroke-width="0.6" />
<line x1="371.70" y1="333.78" x2="373.30" y2="333.78" stroke="#000" stroke-width="0.6" />
<line x1="371.70" y1="331.70" x2="373.30" y2="331.70" stroke="#000" stroke-width="0.6" />
<line x1="371.70" y1="329.62" x2="373.30" y2="329.62" stroke="#000" stroke-width="0.6" />
<line x1="371.70" y1="325.48" x2="373.30" y2="325.48" stroke="#000" stroke-width="0.6" />
<line x1="371.70" y1="323.40" x2="373.30" y2="323.40" stroke="#000" stroke-width="0.6" />
<line x1="371.70" y1="321.33" x2="373.30" y2="321.33" stroke="#000" stroke-width="0.6" />
<line x1="371.70" y1="319.25" x2="373.30" y2="319.25" stroke="#000" stroke-width="0.6" />
<line x1="371.70" y1="315.10" x2="373.30" y2="315.10" stroke="#000" stroke-width="0.6" />
<line x1="371.70" y1="313.02" x2="373.30" y2="313.02" stroke="#000" stroke-width="0.6" />
<line x1="371.70" y1="310.95" x2="373.30" y2="310.95" stroke="#000" stroke-width="0.6" />
<line x1="371.70" y1="308.88" x2="373.30" y2="308.88" stroke="#000" stroke-width="0.6" />
<line x1="399.30" y1="389.80" x2="399.30" y2="392.80" stroke="#000" stroke-width="0.9" />
<line x1="407.30" y1="389.80" x2="407.30" y2="392.80" stroke="#000" stroke-width="0.9" />
<line x1="414.80" y1="389.80" x2="414.80" y2="392.80" stroke="#000" stroke-width="0.9" />
<line x1="454.80" y1="389.80" x2="454.80" y2="392.80" stroke="#000" stroke-width="0.9" />
<line x1="501.40" y1="389.80" x2="501.40" y2="392.80" stroke="#000" stroke-width="0.9" />
<line x1="398.30" y1="389.80" x2="398.30" y2="391.10" stroke="#000" stroke-width="0.6" />
<line x1="399.40" y1="389.80" x2="399.40" y2="391.10" stroke="#000" stroke-width="0.6" />
<line x1="400.50" y1="389.80" x2="400.50" y2="391.10" stroke="#000" stroke-width="0.6" />
<line x1="401.60" y1="389.80" x2="401.60" y2="391.10" stroke="#000" stroke-width="0.6" />
<line x1="402.70" y1="389.80" x2="402.70" y2="391.10" stroke="#000" stroke-width="0.6" />
<line x1="403.80" y1="389.80" x2="403.80" y2="391.10" stroke="#000" stroke-width="0.6" />
<line x1="404.90" y1="389.80" x2="404.90" y2="391.10" stroke="#000" stroke-width="0.6" />
<line x1="406.00" y1="389.80" x2="406.00" y2="391.10" stroke="#000" stroke-width="0.6" />
<line x1="407.10" y1="389.80" x2="407.10" y2="391.10" stroke="#000" stroke-width="0.6" />
<line x1="408.20" y1="389.80" x2="408.20" y2="391.10" stroke="#000" stroke-width="0.6" />
<line x1="409.30" y1="389.80" x2="409.30" y2="391.10" stroke="#000" stroke-width="0.6" />
<line x1="410.40" y1="389.80" x2="410.40" y2="391.10" stroke="#000" stroke-width="0.6" />
<line x1="411.50" y1="389.80" x2="411.50" y2="391.10" stroke="#000" stroke-width="0.6" />
<line x1="412.60" y1="389.80" x2="412.60" y2="391.10" stroke="#000" stroke-width="0.6" />
<line x1="413.70" y1="389.80" x2="413.70" y2="391.10" stroke="#000" stroke-width="0.6" />
<line x1="414.80" y1="389.80" x2="414.80" y2="391.10" stroke="#000" stroke-width="0.6" />
<line x1="415.90" y1="389.80" x2="415.90" y2="391.10" stroke="#000" stroke-width="0.6" />
<line x1="426.84" y1="389.80" x2="426.84" y2="391.50" stroke="#000" stroke-width="0.6" />
<line x1="433.88" y1="389.80" x2="433.88" y2="391.50" stroke="#000" stroke-width="0.6" />
<line x1="438.88" y1="389.80" x2="438.88" y2="391.50" stroke="#000" stroke-width="0.6" />
<line x1="442.76" y1="389.80" x2="442.76" y2="391.50" stroke="#000" stroke-width="0.6" />
<line x1="445.93" y1="389.80" x2="445.93" y2="391.50" stroke="#000" stroke-width="0.6" />
<line x1="448.60" y1="389.80" x2="448.60" y2="391.50" stroke="#000" stroke-width="0.6" />
<line x1="450.92" y1="389.80" x2="450.92" y2="391.50" stroke="#000" stroke-width="0.6" />
<line x1="452.97" y1="389.80" x2="452.97" y2="391.50" stroke="#000" stroke-width="0.6" />
<line x1="468.83" y1="389.80" x2="468.83" y2="391.50" stroke="#000" stroke-width="0.6" />
<line x1="477.03" y1="389.80" x2="477.03" y2="391.50" stroke="#000" stroke-width="0.6" />
<line x1="482.86" y1="389.80" x2="482.86" y2="391.50" stroke="#000" stroke-width="0.6" />
<line x1="487.37" y1="389.80" x2="487.37" y2="391.50" stroke="#000" stroke-width="0.6" />
<line x1="491.06" y1="389.80" x2="491.06" y2="391.50" stroke="#000" stroke-width="0.6" />
<line x1="494.18" y1="389.80" x2="494.18" y2="391.50" stroke="#000" stroke-width="0.6" />
<line x1="496.88" y1="389.80" x2="496.88" y2="391.50" stroke="#000" stroke-width="0.6" />
<line x1="499.27" y1="389.80" x2="499.27" y2="391.50" stroke="#000" stroke-width="0.6" />
<line x1="396.59" y1="389.80" x2="396.59" y2="391.50" stroke="#000" stroke-width="0.6" />
<line x1="395.01" y1="389.80" x2="395.01" y2="391.50" stroke="#000" stroke-width="0.6" />
<line x1="393.88" y1="389.80" x2="393.88" y2="391.50" stroke="#000" stroke-width="0.6" />
<line x1="393.01" y1="389.80" x2="393.01" y2="391.50" stroke="#000" stroke-width="0.6" />
<text x="401.20" y="402.90" font-size="6.8" text-anchor="end" fill="#222">-10</text>
<text x="401.40" y="399.70" font-size="4.8" fill="#222">2</text>
<text x="407.50" y="402.90" font-size="6.8" text-anchor="middle" font-weight="normal" fill="#222">0</text>
<text x="419.70" y="402.90" font-size="6.8" text-anchor="end" fill="#222">10</text>
<text x="419.90" y="399.70" font-size="4.8" fill="#222">2</text>
<text x="456.40" y="402.90" font-size="6.8" text-anchor="end" fill="#222">10</text>
<text x="456.60" y="399.70" font-size="4.8" fill="#222">3</text>
<text x="503.00" y="402.90" font-size="6.8" text-anchor="end" fill="#222">10</text>
<text x="503.20" y="399.70" font-size="4.8" fill="#222">4</text>
<text x="464.00" y="385.70" font-size="6.9" text-anchor="middle" font-weight="normal" fill="#222">+Thr</text>
<line x1="192.40" y1="206.60" x2="192.40" y2="380.20" stroke="#000" stroke-width="1.3" />
<path d="M192.4,203.6 L196.0,211.6 L192.4,209.6 L188.8,211.6 Z" fill="#000"/>
<text x="0.00" y="0.00" font-size="8.2" text-anchor="middle" font-weight="normal" fill="#222" textLength="32.60" lengthAdjust="spacingAndGlyphs" transform="translate(186.6,291.7) rotate(-90)">Cell count</text>
<line x1="218.30" y1="407.80" x2="505.60" y2="407.80" stroke="#000" stroke-width="1.3" />
<path d="M508.6,407.8 L498.6,404.2 L501.1,407.8 L498.6,411.40000000000003 Z" fill="#000"/>
<text x="363.20" y="419.60" font-size="8.6" text-anchor="middle" font-weight="normal" fill="#222" textLength="23.10" lengthAdjust="spacingAndGlyphs">CD62p</text>
<line x1="49.80" y1="297.30" x2="49.80" y2="388.60" stroke="#000" stroke-width="1.3" />
<line x1="49.20" y1="388.00" x2="159.60" y2="388.00" stroke="#000" stroke-width="1.4" />
<line x1="45.90" y1="387.90" x2="49.80" y2="387.90" stroke="#000" stroke-width="1.0" />
<text x="41.80" y="390.40" font-size="7.13" text-anchor="end" fill="#222" textLength="3.67" lengthAdjust="spacingAndGlyphs">0</text>
<line x1="45.90" y1="373.27" x2="49.80" y2="373.27" stroke="#000" stroke-width="1.0" />
<text x="41.80" y="375.77" font-size="7.13" text-anchor="end" fill="#222" textLength="7.34" lengthAdjust="spacingAndGlyphs">25</text>
<line x1="45.90" y1="358.63" x2="49.80" y2="358.63" stroke="#000" stroke-width="1.0" />
<text x="41.80" y="361.13" font-size="7.13" text-anchor="end" fill="#222" textLength="7.34" lengthAdjust="spacingAndGlyphs">50</text>
<line x1="45.90" y1="344.00" x2="49.80" y2="344.00" stroke="#000" stroke-width="1.0" />
<text x="41.80" y="346.50" font-size="7.13" text-anchor="end" fill="#222" textLength="7.34" lengthAdjust="spacingAndGlyphs">75</text>
<line x1="45.90" y1="329.37" x2="49.80" y2="329.37" stroke="#000" stroke-width="1.0" />
<text x="41.80" y="331.87" font-size="7.13" text-anchor="end" fill="#222" textLength="11.01" lengthAdjust="spacingAndGlyphs">100</text>
<line x1="45.90" y1="314.74" x2="49.80" y2="314.74" stroke="#000" stroke-width="1.0" />
<text x="41.80" y="317.24" font-size="7.13" text-anchor="end" fill="#222" textLength="11.01" lengthAdjust="spacingAndGlyphs">125</text>
<line x1="45.90" y1="300.10" x2="49.80" y2="300.10" stroke="#000" stroke-width="1.0" />
<text x="41.80" y="302.60" font-size="7.13" text-anchor="end" fill="#222" textLength="11.01" lengthAdjust="spacingAndGlyphs">150</text>
<line x1="62.88" y1="351.25" x2="62.88" y2="342.00" stroke="#000" stroke-width="1.1" />
<line x1="58.48" y1="342.00" x2="67.28" y2="342.00" stroke="#000" stroke-width="1.1" />
<rect x="54.0" y="351.5" width="17.75" height="36.50" fill="#a6002c" stroke="#8e0024" stroke-width="0.5"/>
<line x1="62.88" y1="388.00" x2="62.88" y2="391.30" stroke="#000" stroke-width="1.0" />
<line x1="90.38" y1="354.25" x2="90.38" y2="348.75" stroke="#000" stroke-width="1.1" />
<line x1="85.97" y1="348.75" x2="94.78" y2="348.75" stroke="#000" stroke-width="1.1" />
<rect x="81.5" y="354.5" width="17.75" height="33.50" fill="#2e4c80" stroke="#1b366b" stroke-width="0.5"/>
<line x1="90.38" y1="388.00" x2="90.38" y2="391.30" stroke="#000" stroke-width="1.0" />
<line x1="117.88" y1="341.50" x2="117.88" y2="331.25" stroke="#000" stroke-width="1.1" />
<line x1="113.47" y1="331.25" x2="122.28" y2="331.25" stroke="#000" stroke-width="1.1" />
<rect x="109.0" y="341.75" width="17.75" height="46.25" fill="#a6002c" stroke="#8e0024" stroke-width="0.5"/>
<line x1="117.88" y1="388.00" x2="117.88" y2="391.30" stroke="#000" stroke-width="1.0" />
<line x1="145.38" y1="333.00" x2="145.38" y2="324.50" stroke="#000" stroke-width="1.1" />
<line x1="140.97" y1="324.50" x2="149.78" y2="324.50" stroke="#000" stroke-width="1.1" />
<rect x="136.5" y="333.25" width="17.75" height="54.75" fill="#2e4c80" stroke="#1b366b" stroke-width="0.5"/>
<line x1="145.38" y1="388.00" x2="145.38" y2="391.30" stroke="#000" stroke-width="1.0" />
<text x="76.90" y="400.80" font-size="7.2" text-anchor="middle" font-weight="normal" fill="#222" textLength="44.60" lengthAdjust="spacingAndGlyphs">Collagen-ADP</text>
<text x="131.90" y="400.80" font-size="7.2" text-anchor="middle" font-weight="normal" fill="#222" textLength="40.70" lengthAdjust="spacingAndGlyphs">Collagen-Epi</text>
<text x="0.00" y="0.00" font-size="9.0" text-anchor="middle" font-weight="normal" fill="#222" textLength="58.60" lengthAdjust="spacingAndGlyphs" transform="translate(25.9,342.6) rotate(-90)">Closure time (sec)</text>
<line x1="49.60" y1="453.10" x2="49.60" y2="542.40" stroke="#000" stroke-width="1.3" />
<line x1="49.00" y1="541.80" x2="243.80" y2="541.80" stroke="#000" stroke-width="1.4" />
<line x1="45.80" y1="541.80" x2="49.60" y2="541.80" stroke="#000" stroke-width="1.0" />
<text x="42.30" y="544.30" font-size="7.24" text-anchor="end" fill="#222" textLength="3.73" lengthAdjust="spacingAndGlyphs">0</text>
<line x1="45.80" y1="513.06" x2="49.60" y2="513.06" stroke="#000" stroke-width="1.0" />
<text x="42.30" y="515.56" font-size="7.24" text-anchor="end" fill="#222" textLength="7.45" lengthAdjust="spacingAndGlyphs">50</text>
<line x1="45.80" y1="484.33" x2="49.60" y2="484.33" stroke="#000" stroke-width="1.0" />
<text x="42.30" y="486.83" font-size="7.24" text-anchor="end" fill="#222" textLength="11.18" lengthAdjust="spacingAndGlyphs">100</text>
<line x1="45.80" y1="455.59" x2="49.60" y2="455.59" stroke="#000" stroke-width="1.0" />
<text x="42.30" y="458.09" font-size="7.24" text-anchor="end" fill="#222" textLength="11.18" lengthAdjust="spacingAndGlyphs">150</text>
<line x1="59.25" y1="495.80" x2="59.25" y2="494.00" stroke="#000" stroke-width="1.0" />
<line x1="56.85" y1="494.00" x2="61.65" y2="494.00" stroke="#000" stroke-width="1.1" />
<rect x="55.85" y="496.05" width="6.80" height="45.75" fill="#a6002c" stroke="#8e0024" stroke-width="0.5"/>
<line x1="71.65" y1="492.90" x2="71.65" y2="491.50" stroke="#000" stroke-width="1.0" />
<line x1="69.25" y1="491.50" x2="74.05" y2="491.50" stroke="#000" stroke-width="1.1" />
<rect x="68.35" y="493.15" width="6.60" height="48.65" fill="#2e4c80" stroke="#1b366b" stroke-width="0.5"/>
<line x1="91.85" y1="499.20" x2="91.85" y2="497.30" stroke="#000" stroke-width="1.0" />
<line x1="89.45" y1="497.30" x2="94.25" y2="497.30" stroke="#000" stroke-width="1.1" />
<rect x="88.55" y="499.45" width="6.60" height="42.35" fill="#a6002c" stroke="#8e0024" stroke-width="0.5"/>
<line x1="103.95" y1="495.40" x2="103.95" y2="490.20" stroke="#000" stroke-width="1.0" />
<line x1="101.55" y1="490.20" x2="106.35" y2="490.20" stroke="#000" stroke-width="1.1" />
<rect x="100.65" y="495.65" width="6.60" height="46.15" fill="#2e4c80" stroke="#1b366b" stroke-width="0.5"/>
<line x1="124.05" y1="504.00" x2="124.05" y2="498.70" stroke="#000" stroke-width="1.0" />
<line x1="121.65" y1="498.70" x2="126.45" y2="498.70" stroke="#000" stroke-width="1.1" />
<rect x="120.65" y="504.25" width="6.80" height="37.55" fill="#a6002c" stroke="#8e0024" stroke-width="0.5"/>
<line x1="136.35" y1="497.90" x2="136.35" y2="491.50" stroke="#000" stroke-width="1.0" />
<line x1="133.95" y1="491.50" x2="138.75" y2="491.50" stroke="#000" stroke-width="1.1" />
<rect x="133.15" y="498.15" width="6.40" height="43.65" fill="#2e4c80" stroke="#1b366b" stroke-width="0.5"/>
<line x1="156.40" y1="504.80" x2="156.40" y2="500.50" stroke="#000" stroke-width="1.0" />
<line x1="154.00" y1="500.50" x2="158.80" y2="500.50" stroke="#000" stroke-width="1.1" />
<rect x="152.95" y="505.05" width="6.90" height="36.75" fill="#a6002c" stroke="#8e0024" stroke-width="0.5"/>
<line x1="168.70" y1="500.50" x2="168.70" y2="496.30" stroke="#000" stroke-width="1.0" />
<line x1="166.30" y1="496.30" x2="171.10" y2="496.30" stroke="#000" stroke-width="1.1" />
<rect x="165.25" y="500.75" width="6.90" height="41.05" fill="#2e4c80" stroke="#1b366b" stroke-width="0.5"/>
<line x1="188.80" y1="489.10" x2="188.80" y2="487.00" stroke="#000" stroke-width="1.0" />
<line x1="186.40" y1="487.00" x2="191.20" y2="487.00" stroke="#000" stroke-width="1.1" />
<rect x="185.35" y="489.35" width="6.90" height="52.45" fill="#a6002c" stroke="#8e0024" stroke-width="0.5"/>
<line x1="200.80" y1="495.40" x2="200.80" y2="490.60" stroke="#000" stroke-width="1.0" />
<line x1="198.40" y1="490.60" x2="203.20" y2="490.60" stroke="#000" stroke-width="1.1" />
<rect x="197.35" y="495.65" width="6.90" height="46.15" fill="#2e4c80" stroke="#1b366b" stroke-width="0.5"/>
<line x1="221.30" y1="499.00" x2="221.30" y2="498.40" stroke="#000" stroke-width="1.0" />
<line x1="218.90" y1="498.40" x2="223.70" y2="498.40" stroke="#000" stroke-width="1.1" />
<rect x="217.85" y="499.25" width="6.90" height="42.55" fill="#a6002c" stroke="#8e0024" stroke-width="0.5"/>
<line x1="233.60" y1="491.60" x2="233.60" y2="490.00" stroke="#000" stroke-width="1.0" />
<line x1="231.20" y1="490.00" x2="236.00" y2="490.00" stroke="#000" stroke-width="1.1" />
<rect x="230.15" y="491.85" width="6.90" height="49.95" fill="#2e4c80" stroke="#1b366b" stroke-width="0.5"/>
<line x1="65.20" y1="541.80" x2="65.20" y2="544.80" stroke="#000" stroke-width="1.0" />
<text x="65.50" y="554.40" font-size="7.2" text-anchor="middle" font-weight="normal" fill="#222">5</text>
<line x1="97.60" y1="541.80" x2="97.60" y2="544.80" stroke="#000" stroke-width="1.0" />
<text x="97.90" y="554.40" font-size="7.2" text-anchor="middle" font-weight="normal" fill="#222">2</text>
<line x1="129.60" y1="541.80" x2="129.60" y2="544.80" stroke="#000" stroke-width="1.0" />
<text x="129.90" y="554.40" font-size="7.2" text-anchor="middle" font-weight="normal" fill="#222">5</text>
<line x1="161.80" y1="541.80" x2="161.80" y2="544.80" stroke="#000" stroke-width="1.0" />
<text x="162.10" y="554.40" font-size="7.2" text-anchor="middle" font-weight="normal" fill="#222">2</text>
<line x1="194.60" y1="541.80" x2="194.60" y2="544.80" stroke="#000" stroke-width="1.0" />
<text x="194.90" y="554.40" font-size="7.2" text-anchor="middle" font-weight="normal" fill="#222">0.5</text>
<line x1="227.20" y1="541.80" x2="227.20" y2="544.80" stroke="#000" stroke-width="1.0" />
<text x="227.50" y="554.40" font-size="7.2" text-anchor="middle" font-weight="normal" fill="#222">0.05</text>
<line x1="56.80" y1="559.30" x2="107.60" y2="559.30" stroke="#000" stroke-width="1.1" />
<text x="82.20" y="569.20" font-size="7.4" text-anchor="middle" font-weight="normal" fill="#222" textLength="28.60" lengthAdjust="spacingAndGlyphs">Collagen</text>
<text x="82.20" y="577.30" font-size="7.4" text-anchor="middle" font-weight="normal" fill="#222" textLength="24.60" lengthAdjust="spacingAndGlyphs">(µg/mL)</text>
<line x1="121.40" y1="559.30" x2="171.70" y2="559.30" stroke="#000" stroke-width="1.1" />
<text x="146.55" y="569.20" font-size="7.4" text-anchor="middle" font-weight="normal" fill="#222">ADP</text>
<text x="146.55" y="577.30" font-size="7.4" text-anchor="middle" font-weight="normal" fill="#222">(µM)</text>
<line x1="186.50" y1="559.30" x2="236.90" y2="559.30" stroke="#000" stroke-width="1.1" />
<text x="211.70" y="569.20" font-size="7.4" text-anchor="middle" font-weight="normal" fill="#222" textLength="30.50" lengthAdjust="spacingAndGlyphs">Thrombin</text>
<text x="211.70" y="577.30" font-size="7.4" text-anchor="middle" font-weight="normal" fill="#222" textLength="20.80" lengthAdjust="spacingAndGlyphs">(U/mL)</text>
<text x="0.00" y="0.00" font-size="8.7" text-anchor="middle" font-weight="normal" fill="#222" textLength="53.80" lengthAdjust="spacingAndGlyphs" transform="translate(25.1,497.3) rotate(-90)">Aggregation (%)</text>
<rect x="203.1" y="453.1" width="6.7" height="6.5" fill="#a6002c"/>
<rect x="203.1" y="464.4" width="6.7" height="6.5" fill="#2e4c80"/>
<g font-style="italic" fill="#222">
<text x="213.80" y="458.70" font-size="7.30" textLength="16.40" lengthAdjust="spacingAndGlyphs">Pros1</text>
<text x="230.90" y="455.80" font-size="5.00" textLength="14.80" lengthAdjust="spacingAndGlyphs">lox/lox</text>
<text x="247.40" y="458.70" font-size="7.30" textLength="23.20" lengthAdjust="spacingAndGlyphs">Pf4-Cre</text>
<text x="271.20" y="455.30" font-size="5.00" font-style="normal">-</text>
</g>
<g font-style="italic" fill="#222">
<text x="213.80" y="470.20" font-size="7.30" textLength="16.40" lengthAdjust="spacingAndGlyphs">Pros1</text>
<text x="230.90" y="467.30" font-size="5.00" textLength="14.80" lengthAdjust="spacingAndGlyphs">lox/lox</text>
<text x="247.40" y="470.20" font-size="7.30" textLength="23.20" lengthAdjust="spacingAndGlyphs">Pf4-Cre</text>
<text x="271.20" y="466.80" font-size="5.00" font-style="normal">+</text>
</g>
<line x1="341.30" y1="452.50" x2="341.30" y2="542.60" stroke="#000" stroke-width="1.3" />
<line x1="340.70" y1="541.90" x2="480.00" y2="541.90" stroke="#000" stroke-width="1.4" />
<line x1="338.00" y1="542.10" x2="341.30" y2="542.10" stroke="#000" stroke-width="1.0" />
<text x="335.40" y="544.60" font-size="7.24" text-anchor="end" fill="#222" textLength="3.73" lengthAdjust="spacingAndGlyphs">0</text>
<line x1="338.00" y1="520.43" x2="341.30" y2="520.43" stroke="#000" stroke-width="1.0" />
<text x="335.40" y="522.93" font-size="7.24" text-anchor="end" fill="#222" textLength="7.45" lengthAdjust="spacingAndGlyphs">25</text>
<line x1="338.00" y1="498.77" x2="341.30" y2="498.77" stroke="#000" stroke-width="1.0" />
<text x="335.40" y="501.27" font-size="7.24" text-anchor="end" fill="#222" textLength="7.45" lengthAdjust="spacingAndGlyphs">50</text>
<line x1="338.00" y1="477.10" x2="341.30" y2="477.10" stroke="#000" stroke-width="1.0" />
<text x="335.40" y="479.60" font-size="7.24" text-anchor="end" fill="#222" textLength="7.45" lengthAdjust="spacingAndGlyphs">75</text>
<line x1="338.00" y1="455.43" x2="341.30" y2="455.43" stroke="#000" stroke-width="1.0" />
<text x="335.40" y="457.93" font-size="7.24" text-anchor="end" fill="#222" textLength="11.18" lengthAdjust="spacingAndGlyphs">100</text>
<line x1="341.30" y1="541.90" x2="341.30" y2="545.00" stroke="#000" stroke-width="1.0" />
<text x="341.30" y="554.80" font-size="7.2" text-anchor="middle" font-weight="normal" fill="#222">0</text>
<line x1="375.15" y1="541.90" x2="375.15" y2="545.00" stroke="#000" stroke-width="1.0" />
<text x="375.15" y="554.80" font-size="7.2" text-anchor="middle" font-weight="normal" fill="#222">5</text>
<line x1="409.00" y1="541.90" x2="409.00" y2="545.00" stroke="#000" stroke-width="1.0" />
<text x="409.00" y="554.80" font-size="7.2" text-anchor="middle" font-weight="normal" fill="#222">10</text>
<line x1="442.85" y1="541.90" x2="442.85" y2="545.00" stroke="#000" stroke-width="1.0" />
<text x="442.85" y="554.80" font-size="7.2" text-anchor="middle" font-weight="normal" fill="#222">15</text>
<line x1="476.70" y1="541.90" x2="476.70" y2="545.00" stroke="#000" stroke-width="1.0" />
<text x="476.70" y="554.80" font-size="7.2" text-anchor="middle" font-weight="normal" fill="#222">20</text>
<text x="410.80" y="567.60" font-size="9.3" text-anchor="middle" font-weight="normal" fill="#222" textLength="35.40" lengthAdjust="spacingAndGlyphs">Time (min)</text>
<text x="0.00" y="0.00" font-size="9.0" text-anchor="middle" font-weight="normal" fill="#222" textLength="38.40" lengthAdjust="spacingAndGlyphs" transform="translate(317.3,496.9) rotate(-90)">Survival (%)</text>
<path d="M341.30,455.43 H356.19 V460.85 H356.87 V471.68 H357.89 V477.10 H359.24 V487.93 H360.59 V493.35 H361.61 V504.18 H362.29 V515.02 H369.73 V528.58 H398.85 V535.34 H409.00 V542.10" fill="none" stroke="#2e4c80" stroke-width="1.1" stroke-dasharray="3.2,2"/>
<path d="M341.30,455.43 H354.84 V460.85 H356.19 V466.26 H357.21 V477.10 H358.23 V487.93 H361.61 V493.35 H369.06 V504.18 H375.49 V509.60 H381.58 V515.02 H409.00 V520.43 H409.68 V525.85 H442.85 V531.27 H456.39 V536.68 H476.70 V536.68" fill="none" stroke="#c0143c" stroke-width="1.3"/>
<line x1="476.70" y1="535.18" x2="476.70" y2="538.18" stroke="#c0143c" stroke-width="1.0" />
<line x1="440.80" y1="459.90" x2="448.10" y2="459.90" stroke="#c0143c" stroke-width="1.3" />
<line x1="444.40" y1="458.60" x2="444.40" y2="461.20" stroke="#c0143c" stroke-width="1.0" />
<line x1="441.20" y1="470.80" x2="447.30" y2="470.80" stroke="#2e4c80" stroke-width="1.1" stroke-dasharray="2.6,1.8"/>
<g font-style="italic" fill="#222">
<text x="451.90" y="461.40" font-size="7.23" textLength="16.24" lengthAdjust="spacingAndGlyphs">Pros1</text>
<text x="468.83" y="458.53" font-size="4.95" textLength="14.65" lengthAdjust="spacingAndGlyphs">lox/lox</text>
<text x="485.16" y="461.40" font-size="7.23" textLength="22.97" lengthAdjust="spacingAndGlyphs">Pf4-Cre</text>
<text x="508.73" y="458.03" font-size="4.95" font-style="normal">-</text>
</g>
<g font-style="italic" fill="#222">
<text x="451.90" y="472.50" font-size="7.23" textLength="16.24" lengthAdjust="spacingAndGlyphs">Pros1</text>
<text x="468.83" y="469.63" font-size="4.95" textLength="14.65" lengthAdjust="spacingAndGlyphs">lox/lox</text>
<text x="485.16" y="472.50" font-size="7.23" textLength="22.97" lengthAdjust="spacingAndGlyphs">Pf4-Cre</text>
<text x="508.73" y="469.13" font-size="4.95" font-style="normal">+</text>
</g>
</svg></body></html>
